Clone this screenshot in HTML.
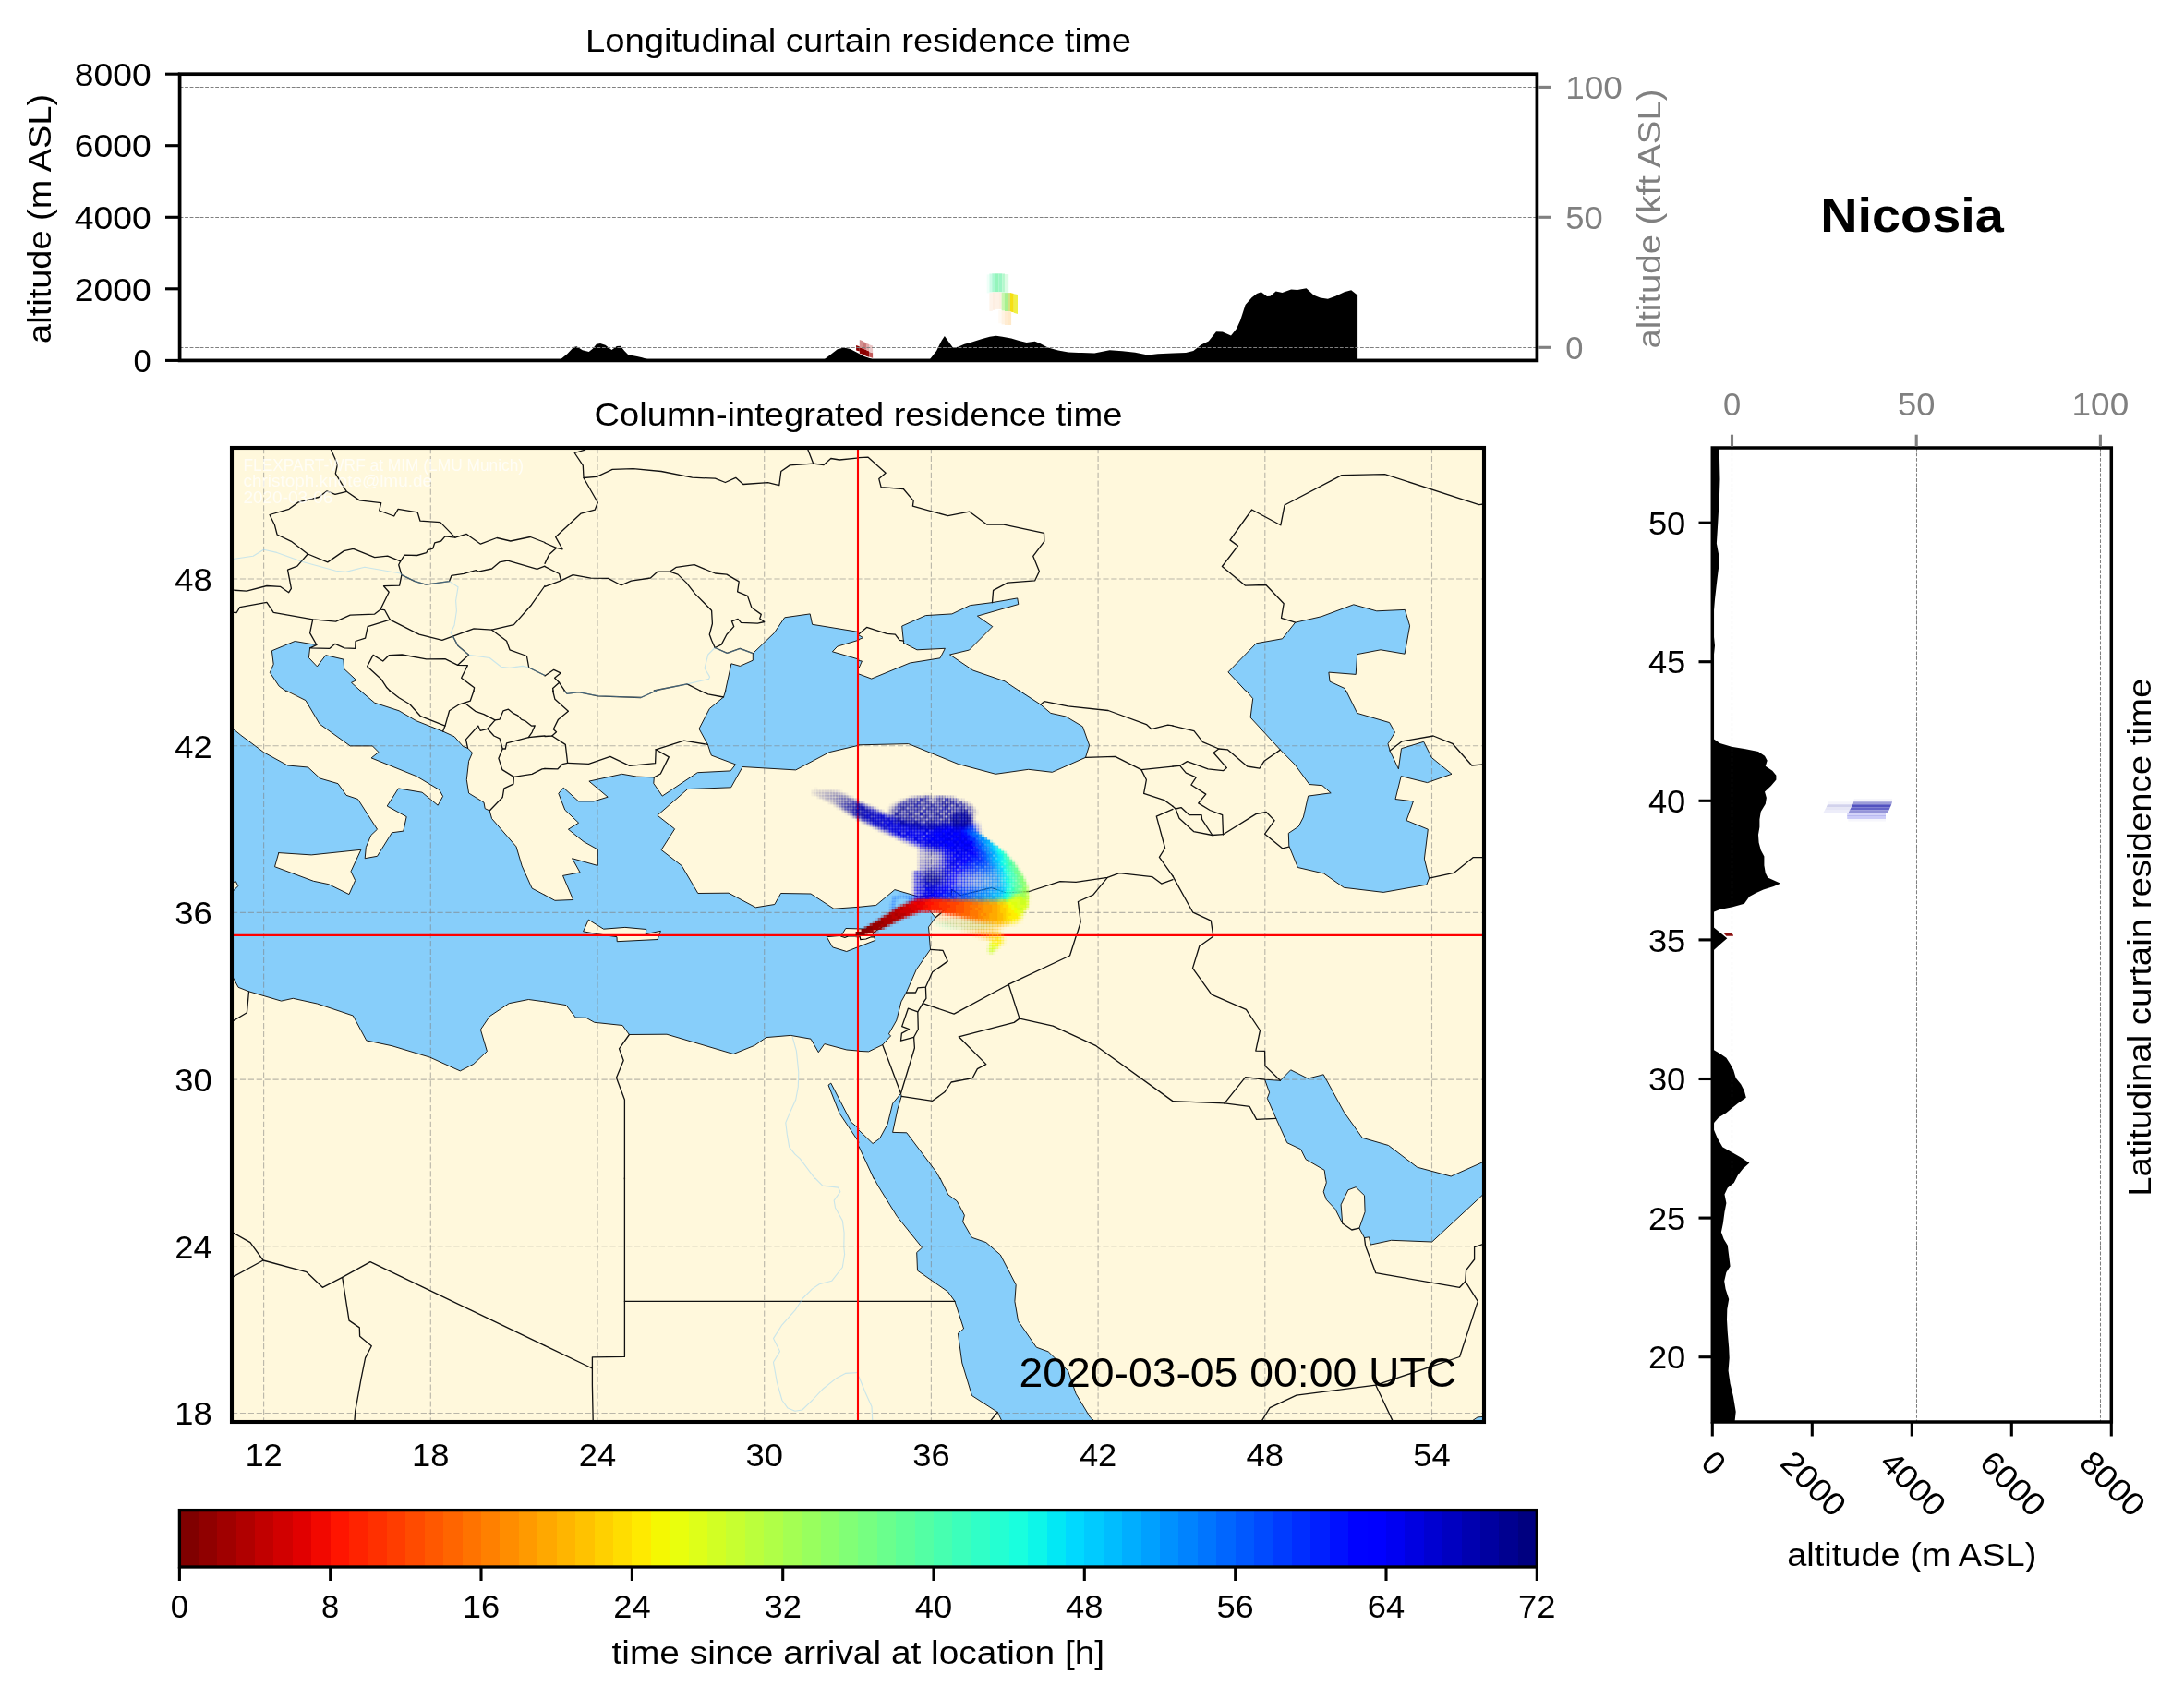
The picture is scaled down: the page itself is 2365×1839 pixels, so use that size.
<!DOCTYPE html><html><head><meta charset="utf-8"><title>Nicosia residence time</title>
<style>html,body{margin:0;padding:0;background:#fff}svg{display:block;will-change:transform}.pl rect{width:4px;height:4px}text{font-family:"Liberation Sans",sans-serif;white-space:pre}</style></head><body>
<svg width="2365" height="1839" viewBox="0 0 2365 1839">
<rect width="2365" height="1839" fill="#fff"/>
<polygon points="607.5,390.4 607.5,388.7 614.3,383.2 621.2,376 624.5,375.2 630.8,379.3 637.7,381 641.8,377.7 645.9,372.7 650.1,371.9 655.5,373.8 662.4,379.1 667.9,374.9 672,374.7 676.2,379.9 680.3,384.3 689.9,385.9 695.4,387.3 700.9,389 700.9,390.4" fill="#000"/>
<polygon points="893.2,390.4 893.2,388.7 900.1,383.5 906.9,378.2 913.8,376.6 920.7,378 927.5,381.5 935.8,385.9 944,388.7 944,390.4" fill="#000"/>
<polygon points="1007.2,390.4 1007.2,388.7 1014.1,379.9 1019.6,368.9 1022.9,364 1027.3,370.3 1031.9,376.6 1037.4,375.8 1044.3,372.7 1052.5,370.5 1063.5,367 1071.8,364.8 1078.6,363.7 1085.5,364.8 1095.1,366.4 1103.4,368.9 1111.6,371.1 1120.7,369.7 1126.7,372.2 1134.9,376.6 1145.9,379.6 1156.9,381.5 1167.9,382.1 1171.4,382.1 1185.2,382.6 1201.6,379.3 1215.4,380.2 1229.1,381.8 1242.9,384.6 1253.8,383.2 1270.3,382.6 1284.1,382.1 1292.3,379.9 1300.5,373.6 1308.8,369.5 1317,359.3 1323.9,359.6 1333,363.4 1339,356 1343.1,346.9 1348.6,329.9 1355.5,322.2 1361,318.1 1365.7,316.2 1372,321.1 1375.5,320.8 1381.6,315.6 1388.5,317 1398.1,313.4 1404.9,314 1414.6,312.3 1422.8,319.7 1429.7,322.5 1437.9,323.8 1446.2,320.8 1455.8,316.2 1463.2,314.2 1470.1,319.7 1470.1,390.4" fill="#000"/>
<polygon points="1068.7,297.4 1071.5,297.4 1071.5,317.4 1068.7,317.4" fill="#effff8"/>
<polygon points="1071.4,296.5 1074.2,296.5 1074.2,316.5 1071.4,316.5" fill="#cdfbe7"/>
<polygon points="1074.2,296.3 1078.1,296.3 1078.1,316.3 1074.2,316.3" fill="#aaf8d2"/>
<polygon points="1078,296.3 1081.4,296.3 1081.4,316.3 1078,316.3" fill="#94f5bc"/>
<polygon points="1081.3,296.3 1085.2,296.3 1085.2,316.3 1081.3,316.3" fill="#9cf5c4"/>
<polygon points="1085.2,296.5 1088,296.5 1088,316.5 1085.2,316.5" fill="#b4f8cc"/>
<polygon points="1087.9,297.1 1092.2,297.1 1092.2,316.9 1087.9,316.9" fill="#dcfce4"/>
<polygon points="1071.4,317.1 1074.8,317.1 1074.8,336.9 1071.4,336.9" fill="#fef3ea"/>
<polygon points="1074.7,316.3 1078.1,316.3 1078.1,335.8 1074.7,335.8" fill="#fdeee2"/>
<polygon points="1078,316.3 1081.4,316.3 1081.4,334.9 1078,334.9" fill="#fef1e6"/>
<polygon points="1081.3,316.5 1084.7,316.5 1084.7,334.9 1081.3,334.9" fill="#fdeee0"/>
<polygon points="1084.6,316.8 1088,316.8 1088,336.6 1084.6,336.6" fill="#c8f6b0"/>
<polygon points="1087.9,317.1 1091.3,317.1 1091.3,337.1 1087.9,337.1" fill="#a8f090"/>
<polygon points="1091.2,317.1 1094,317.1 1094,337.4 1091.2,337.4" fill="#d2e27e"/>
<polygon points="1094,317.1 1097.8,318 1097.8,338.2 1094,337.4" fill="#f5df12"/>
<polygon points="1097.8,318.2 1102,319.1 1102,340 1097.8,338.8" fill="#eff044"/>
<polygon points="1081.3,335.8 1084.7,335.8 1084.7,350.3 1081.3,350.3" fill="#fffaf3"/>
<polygon points="1084.6,336.6 1088,336.6 1088,351.4 1084.6,351.4" fill="#fff3e3"/>
<polygon points="1087.9,337.1 1091.8,337.1 1091.8,352 1087.9,352" fill="#ffecd2"/>
<polygon points="1091.8,337.4 1095.1,337.4 1095.1,352 1091.8,352" fill="#ffe9c9"/>
<polygon points="927.1,374 930.8,375.3 930.8,380.5 927.1,379.5" fill="#8b0000"/>
<polygon points="930.8,376.2 934.4,377.5 934.4,383.8 930.8,382.7" fill="#8b0000"/>
<polygon points="934.3,377.6 938,378.9 938,385.5 934.3,384.4" fill="#8b0000"/>
<polygon points="937.9,379.1 941.3,380.4 941.3,386.8 937.9,385.7" fill="#900808"/>
<polygon points="941.2,380.9 945.1,382.2 945.1,387.7 941.2,386.6" fill="#c25858"/>
<polygon points="930.8,367.9 934.4,369.2 934.4,377.5 930.8,376.2" fill="#d49090"/>
<polygon points="934.3,369.9 938,371.2 938,378.9 934.3,377.6" fill="#c87878"/>
<polygon points="937.9,371.8 941.3,373.1 941.3,380.4 937.9,379.1" fill="#e2a8a8"/>
<polygon points="941.2,373.2 945.1,374.5 945.1,382.2 941.2,380.9" fill="#ecc8c8"/>
<line x1="194.6" y1="94.5" x2="1664.4" y2="94.5" stroke="#808080" stroke-width="1.04" stroke-dasharray="3.85 1.66"/>
<line x1="194.6" y1="235.5" x2="1664.4" y2="235.5" stroke="#808080" stroke-width="1.04" stroke-dasharray="3.85 1.66"/>
<line x1="194.6" y1="376.5" x2="1664.4" y2="376.5" stroke="#808080" stroke-width="1.04" stroke-dasharray="3.85 1.66"/>
<rect x="194.6" y="80.2" width="1469.8" height="310.2" fill="none" stroke="#000" stroke-width="3.7"/>
<line x1="179" y1="390.4" x2="194.6" y2="390.4" stroke="#000" stroke-width="3.1" />
<text x="144.4" y="403.1" font-size="35.3" textLength="19.2" lengthAdjust="spacingAndGlyphs" fill="#000">0</text>
<line x1="179" y1="312.8" x2="194.6" y2="312.8" stroke="#000" stroke-width="3.1" />
<text x="80.8" y="325.5" font-size="35.3" textLength="82.8" lengthAdjust="spacingAndGlyphs" fill="#000">2000</text>
<line x1="179" y1="235.3" x2="194.6" y2="235.3" stroke="#000" stroke-width="3.1" />
<text x="80.8" y="248" font-size="35.3" textLength="82.8" lengthAdjust="spacingAndGlyphs" fill="#000">4000</text>
<line x1="179" y1="157.7" x2="194.6" y2="157.7" stroke="#000" stroke-width="3.1" />
<text x="80.8" y="170.4" font-size="35.3" textLength="82.8" lengthAdjust="spacingAndGlyphs" fill="#000">6000</text>
<line x1="179" y1="80.2" x2="194.6" y2="80.2" stroke="#000" stroke-width="3.1" />
<text x="80.8" y="92.9" font-size="35.3" textLength="82.8" lengthAdjust="spacingAndGlyphs" fill="#000">8000</text>
<line x1="1666.2" y1="376.3" x2="1679.6" y2="376.3" stroke="#808080" stroke-width="3.1" />
<text x="1695.2" y="389" font-size="35.3" textLength="19.2" lengthAdjust="spacingAndGlyphs" fill="#808080">0</text>
<line x1="1666.2" y1="235.3" x2="1679.6" y2="235.3" stroke="#808080" stroke-width="3.1" />
<text x="1695.2" y="248" font-size="35.3" textLength="40.4" lengthAdjust="spacingAndGlyphs" fill="#808080">50</text>
<line x1="1666.2" y1="94.4" x2="1679.6" y2="94.4" stroke="#808080" stroke-width="3.1" />
<text x="1695.2" y="107.1" font-size="35.3" textLength="61.6" lengthAdjust="spacingAndGlyphs" fill="#808080">100</text>
<text transform="translate(54.8,236.9) rotate(-90)" x="-135" y="0" font-size="35.3" textLength="270.1" lengthAdjust="spacingAndGlyphs" fill="#000">altitude (m ASL)</text>
<text transform="translate(1798.4,237) rotate(-90)" x="-140.6" y="0" font-size="35.3" textLength="281.1" lengthAdjust="spacingAndGlyphs" fill="#808080">altitude (kft ASL)</text>
<text x="633.9" y="56.2" font-size="35.3" textLength="591.2" lengthAdjust="spacingAndGlyphs" fill="#000">Longitudinal curtain residence time</text>
<text x="1971.2" y="251" font-size="52.5" textLength="198.6" lengthAdjust="spacingAndGlyphs" fill="#000" font-weight="bold">Nicosia</text>
<defs><clipPath id="mapclip"><rect x="251" y="485" width="1356" height="1055"/></clipPath>
<clipPath id="ct00"><rect x="250" y="484" width="340" height="264"/></clipPath>
<clipPath id="ct01"><rect x="590" y="484" width="340" height="264"/></clipPath>
<clipPath id="ct02"><rect x="930" y="484" width="340" height="264"/></clipPath>
<clipPath id="ct03"><rect x="1270" y="484" width="340" height="264"/></clipPath>
<clipPath id="ct10"><rect x="250" y="748" width="340" height="264"/></clipPath>
<clipPath id="ct11"><rect x="590" y="748" width="340" height="264"/></clipPath>
<clipPath id="ct12"><rect x="930" y="748" width="340" height="264"/></clipPath>
<clipPath id="ct13"><rect x="1270" y="748" width="340" height="264"/></clipPath>
<clipPath id="ct20"><rect x="250" y="1012" width="340" height="264"/></clipPath>
<clipPath id="ct21"><rect x="590" y="1012" width="340" height="264"/></clipPath>
<clipPath id="ct22"><rect x="930" y="1012" width="340" height="264"/></clipPath>
<clipPath id="ct23"><rect x="1270" y="1012" width="340" height="264"/></clipPath>
<clipPath id="ct30"><rect x="250" y="1276" width="340" height="264"/></clipPath>
<clipPath id="ct31"><rect x="590" y="1276" width="340" height="264"/></clipPath>
<clipPath id="ct32"><rect x="930" y="1276" width="340" height="264"/></clipPath>
<clipPath id="ct33"><rect x="1270" y="1276" width="340" height="264"/></clipPath>
</defs>
<g clip-path="url(#mapclip)">
<rect x="251" y="485" width="1356" height="1055" fill="#FFF8DC"/>
<g clip-path="url(#ct00)">
<polygon points="342.9,698.5 319.3,694.5 294.4,704.8 296.2,719.4 292.3,728.4 302.2,743.2 309.9,748.7 390.9,748.7 380.5,739.3 385.9,736.7 372.7,724.5 371.9,714.1 352.7,709.6 343.4,721.9 334.4,712.4 335.6,701.9" fill="#87CEFA"/>
</g>
<g clip-path="url(#ct01)">
<polygon points="785.4,748.7 791.9,718.8 801.3,721.4 815.3,715.2 815.3,707.7 838.3,685.6 849.7,668.8 877.2,664.9 879.6,676.3 930.9,684.7 930.9,748.7" fill="#87CEFA"/>
<polygon points="930.9,693.1 906.8,700.1 901.4,705.8 930.9,714.2" fill="#FFF8DC"/>
</g>
<g clip-path="url(#ct02)">
<polygon points="976.7,678.1 1002.4,666.6 1030.9,664.9 1050.3,655.7 1074.5,652.6 1101.7,647.9 1102.8,654.5 1058.4,667.2 1074.8,678.6 1049.6,704 1028.5,709 1053.8,726.1 1088,737.8 1104.4,748.7 929.1,748.7 929.1,729.7 943.7,735.1 985.3,718 1018,712.8 1023.4,702.3 993,703.8 978.6,696.5" fill="#87CEFA"/>
<polygon points="929.1,687.9 934.7,690.7 929.1,692.6" fill="#87CEFA"/>
<polygon points="929.1,715.5 933.4,716 929.1,723.7" fill="#87CEFA"/>
</g>
<g clip-path="url(#ct03)">
<polygon points="1402.6,674.2 1431.1,667.7 1465.8,654.8 1490.8,661.8 1521.4,660.4 1526.6,677.8 1521.1,708.2 1495,703.8 1469.7,708.6 1468.2,730.4 1438.9,728.1 1440,738.1 1456,745.5 1457.6,749.6 1349.4,749.6 1329.9,727.9 1360.3,696.8 1388.6,691.8" fill="#87CEFA"/>
</g>
<g clip-path="url(#ct10)">
<rect x="250" y="748" width="340" height="264" fill="#87CEFA"/>
<polygon points="249.1,789.7 252.8,789.7 260.9,796.3 285.8,814.9 311.5,829 333.6,831 346.5,843 366,848.7 375,861.3 387.5,865.5 408.5,898.2 401.8,904.5 396.3,917.7 395.2,929.7 408.5,927.3 424.4,901.8 436.8,900.1 440.2,884.5 419.2,873 431.4,853.9 457.1,858.2 474.2,872.2 479.6,862.4 475.7,855.4 450.8,840.6 402.1,820.9 410,814.6 403.3,807.9 379.2,807.9 346.1,784.1 331,758.6 309.9,747.1 249.1,747.1" fill="#FFF8DC"/>
<polygon points="301.8,923.6 337.2,925.9 390.9,920.3 380,943.8 384.7,953.5 378,968.6 355.9,957.7 339.5,954.3 297.5,938.7" fill="#FFF8DC"/>
<polygon points="249.1,955.5 255.4,954.7 257.8,959.7 249.1,965.9" fill="#FFF8DC"/>
<polygon points="390.1,747.1 405.7,761.2 432.1,769.8 450.8,780.7 479.6,792.1 492.1,797.8 501.4,808.4 506.6,810.3 511.5,815.3 507.6,824.3 505.3,844.5 507.6,859 524,869.1 525.2,875.7 530.2,878 532.6,886.6 559,916.9 565.2,937.9 576.1,962.1 590.9,969.8 590.9,747.1" fill="#FFF8DC"/>
</g>
<g clip-path="url(#ct11)">
<rect x="590" y="748" width="340" height="264" fill="#87CEFA"/>
<polygon points="785.8,747.1 783.5,755 768.3,767.5 757,789.3 766.4,806.4 770.3,818.1 796.6,827.9 791.1,834.9 755.3,836.7 717.2,862.1 707.8,848.4 708.3,841.9 689.6,841.1 673.6,838.3 637.9,846.1 658.2,863.2 642.9,867.9 626.6,867.9 610.2,853.1 604.8,859.3 611.8,877.2 626.6,891.2 615.4,898.2 632,911.5 647.3,920 647.3,937.5 619.6,929.7 628.1,944.9 609.5,948.4 620.7,974.5 600.9,975.3 589.1,969.1 589.1,747.1" fill="#FFF8DC"/>
<polygon points="930.9,807.2 898.2,814.6 861.7,833.9 804.1,830.5 791.6,852.8 744.6,854.6 711.9,883.1 730.6,897.8 716.1,920.5 738.2,937.6 755.8,967.5 789,967.2 818.4,982.8 838.8,979.5 845.6,967.5 878,968 902.9,984.2 930.9,982.3" fill="#FFF8DC"/>
</g>
<g clip-path="url(#ct12)">
<polygon points="929.1,806.8 983.7,805.6 1037.4,827.4 1078.2,838.3 1113.7,833.3 1139.4,836.3 1175.5,820.4 1179.6,807.2 1172.4,786.9 1154.2,776 1137.8,772.4 1126.9,763.1 1103.6,747.1 929.1,747.1" fill="#87CEFA"/>
<polygon points="929.1,982.3 948.7,980.4 968.9,963.6 994.9,971.2 1013.1,968.8 1001.8,980.3 1013.1,993.8 1005.5,1004.1 1006.3,1013.6 929.1,1013.6" fill="#87CEFA"/>
</g>
<g clip-path="url(#ct13)">
<polygon points="1349.4,747.1 1356.7,756.6 1354.1,777.1 1386.4,812.1 1402.3,828.2 1417.9,849.5 1431.9,850.7 1441.2,858.8 1416.6,862.1 1411.4,885 1406.2,895.1 1395.3,902.4 1395.8,916.1 1405.4,939.5 1433.5,946 1455.3,961.3 1498.1,966.4 1544.8,958.2 1547.6,951.2 1542.4,930.1 1546.3,898.2 1523,888.6 1530.4,867.9 1511,865.5 1517.2,840.6 1545.5,847.6 1572,838.3 1550.2,820.4 1541.7,803.3 1517.5,810.7 1514.4,832.8 1505.1,813.1 1503,805.6 1510.5,793.1 1504.6,782.6 1469.7,772.4 1457.6,747.1" fill="#87CEFA"/>
</g>
<g clip-path="url(#ct20)">
<polygon points="249.1,1058.7 252.8,1059.5 258.1,1069.3 269.5,1073.8 304.5,1084.1 317.3,1081.3 343.4,1087 382.3,1100 396.8,1126.9 424.4,1132.7 465.6,1145.1 498.3,1159.9 512.8,1152.4 527.4,1138.6 520.4,1115.1 530.2,1100.7 551.2,1086.7 572.3,1082.5 590.9,1085 590.9,1011.1 249.1,1011.1" fill="#87CEFA"/>
</g>
<g clip-path="url(#ct21)">
<polygon points="589.1,1084.7 613,1088.6 623.2,1102 634.8,1102.3 643.7,1107.3 674.1,1110.5 681.4,1120.5 722,1120.2 794.2,1141.5 817.3,1132.2 829.7,1123.6 856.2,1121.4 878,1125.2 886.3,1139.7 892.8,1130.6 916.9,1137 930.9,1138.3 930.9,1011.1 589.1,1011.1" fill="#87CEFA"/>
<polygon points="930.9,1222.6 921.6,1215.2 899.8,1173.1 897,1175.2 909.1,1205.8 930.9,1237.7" fill="#87CEFA"/>
</g>
<g clip-path="url(#ct22)">
<polygon points="929.1,1138.4 940.6,1138.9 955.7,1131.6 964.6,1121.8 962.4,1119.9 970.8,1105.1 975.9,1084.9 981.4,1075 992.3,1050.1 1007.5,1028.3 1006.3,1014.3 1006.3,1011.1 929.1,1011.1" fill="#87CEFA"/>
<polygon points="975.5,1184.3 976.2,1187.4 972,1201.1 966.6,1226.4 981.8,1226.8 1014.1,1269.6 1018,1277.6 946.3,1277.6 929.1,1240.1 929.1,1223.4 945.1,1238.5 952.6,1233.1 961.1,1217.5 966.6,1195.2" fill="#87CEFA"/>
</g>
<g clip-path="url(#ct23)">
<polygon points="1369.6,1169.2 1386.4,1170.3 1397.7,1158.8 1416.3,1168.1 1433.2,1163.8 1455.3,1204.3 1475.2,1232.3 1503.5,1240.5 1534.7,1264.2 1571.2,1274 1606.3,1258.4 1606.3,1277.6 1435.5,1277.6 1434.2,1267.3 1414,1255.6 1408.6,1244.7 1393.8,1237.7 1381.8,1211.3 1372.3,1189.5 1374.6,1183.2" fill="#87CEFA"/>
</g>
<g clip-path="url(#ct30)">
</g>
<g clip-path="url(#ct31)">
</g>
<g clip-path="url(#ct32)">
<polygon points="946.3,1275.1 951,1284.6 971.3,1317.3 998.5,1351.2 992.7,1356.5 993.5,1376.1 1026.5,1399 1034,1409.4 1043.6,1439 1037.4,1444.1 1041.8,1476 1052.5,1511.5 1080.2,1529.4 1084.9,1539.1 1085.7,1540.7 1186.1,1540.7 1185.3,1539.1 1180.6,1535.2 1165.1,1509.5 1156.5,1484.6 1135.2,1463.9 1122.3,1459.2 1102.5,1430.6 1098.9,1409.4 1100.2,1391.5 1083.3,1359 1067.8,1345.6 1052.5,1340.3 1042.6,1323.2 1044.4,1316.2 1036.3,1300.9 1026.8,1293.9 1018,1275.1" fill="#87CEFA"/>
</g>
<g clip-path="url(#ct33)">
<polygon points="1435.5,1275.1 1436.3,1280.7 1433.2,1290.8 1436.3,1299.4 1445.9,1309.5 1453.7,1325 1452.1,1304.8 1459.9,1288.8 1468.2,1285.7 1477.5,1294.7 1478.1,1312.6 1471.9,1330.2 1477.5,1340.6 1482.5,1339.8 1484.1,1348.1 1506.6,1343.3 1550.7,1345 1606.3,1293.4 1606.3,1275.1" fill="#87CEFA"/>
<polygon points="1593.8,1540.7 1600,1534.9 1606.3,1534.4 1606.3,1540.7" fill="#87CEFA"/>
</g>
<polygon points="631.6,1008.8 637.3,996.1 653.6,1006.2 676.9,1004.4 699.8,1006.5 699.2,1011.7 715.4,1008.3 712,1017.5 668.2,1019.7 668,1014.7 648.1,1011.8" fill="#FFF8DC" stroke="#000" stroke-width="0.9" stroke-linejoin="round"/>
<polygon points="895.2,1014.7 901.6,1025.9 916.7,1030.5 947.8,1018.4 946.7,1014.8 945,1010.5 965,997.8 937.3,1006.1 915.8,1005.5 911.7,1012.2 909.5,1013.5" fill="#FFF8DC" stroke="#000" stroke-width="0.9" stroke-linejoin="round"/>
<polyline points="909.5,1013.5 912,1014.5 914.9,1015.4 918.5,1014 931,1014 931.8,1017.5 937.8,1017 943.3,1014.8 946.7,1014.8" fill="none" stroke="#000" stroke-width="1.2"/>
<g stroke="#808080" stroke-opacity="0.55" stroke-width="1.1" stroke-dasharray="6.2 2.7">
<line x1="285.6" y1="485" x2="285.6" y2="1540"/>
<line x1="466.3" y1="485" x2="466.3" y2="1540"/>
<line x1="647" y1="485" x2="647" y2="1540"/>
<line x1="827.7" y1="485" x2="827.7" y2="1540"/>
<line x1="1008.4" y1="485" x2="1008.4" y2="1540"/>
<line x1="1189.1" y1="485" x2="1189.1" y2="1540"/>
<line x1="1369.8" y1="485" x2="1369.8" y2="1540"/>
<line x1="1550.5" y1="485" x2="1550.5" y2="1540"/>
<line x1="251" y1="1530.5" x2="1607" y2="1530.5"/>
<line x1="251" y1="1349.8" x2="1607" y2="1349.8"/>
<line x1="251" y1="1169.1" x2="1607" y2="1169.1"/>
<line x1="251" y1="988.4" x2="1607" y2="988.4"/>
<line x1="251" y1="807.7" x2="1607" y2="807.7"/>
<line x1="251" y1="627" x2="1607" y2="627"/>
</g>
<g fill="none" stroke="#111" stroke-width="0.95" stroke-linejoin="round" stroke-linecap="round">
<polyline points="342.9,698.5 319.3,694.5 294.4,704.8 296.2,719.4 292.3,728.4 302.2,743.2 309.9,748.7"/>
<polyline points="335.6,701.9 334.4,712.4 343.4,721.9 352.7,709.6 371.9,714.1 372.7,724.5 385.9,736.7 380.5,739.3 390.9,748.7"/>
<polyline points="785.4,748.7 791.9,718.8 801.3,721.4 815.3,715.2 815.3,707.7 838.3,685.6 849.7,668.8 877.2,664.9 879.6,676.3 930,684.5"/>
<polyline points="930,693.2 906.8,700.1 901.4,705.8 930,714.1"/>
<polyline points="978.6,696.5 976.7,678.1 1002.4,666.6 1030.9,664.9 1050.3,655.7 1074.5,652.6 1101.7,647.9 1102.8,654.5 1058.4,667.2 1074.8,678.6 1049.6,704 1028.5,709 1053.8,726.1 1088,737.8 1104.4,748.7"/>
<polyline points="978.6,696.5 993,703.8 1023.4,702.3 1018,712.8 985.3,718 943.7,735.1 930,730"/>
<polyline points="930,687.9 934.7,690.7 930,692.6"/>
<polyline points="930,715.5 933.4,716 930,723.7"/>
<polyline points="1349.4,748.7 1329.9,727.9 1360.3,696.8 1388.6,691.8 1402.6,674.2 1431.1,667.7 1465.8,654.8 1490.8,661.8 1521.4,660.4 1526.6,677.8 1521.1,708.2 1495,703.8 1469.7,708.6 1468.2,730.4 1438.9,728.1 1440,738.1 1456,745.5 1457.6,748.7"/>
<polyline points="252.8,789.7 260.9,796.3 285.8,814.9 311.5,829 333.6,831 346.5,843 366,848.7 375,861.3 387.5,865.5 408.5,898.2 401.8,904.5 396.3,917.7 395.2,929.7 408.5,927.3 424.4,901.8 436.8,900.1 440.2,884.5 419.2,873 431.4,853.9 457.1,858.2 474.2,872.2 479.6,862.4 475.7,855.4 450.8,840.6 402.1,820.9 410,814.6 403.3,807.9 379.2,807.9 346.1,784.1 331,758.6 309.9,748"/>
<polyline points="301.8,923.6 337.2,925.9 390.9,920.3 380,943.8 384.7,953.5 378,968.6 355.9,957.7 339.5,954.3 297.5,938.7 301.8,923.6"/>
<polyline points="252.8,955.5 255.4,954.7 257.8,959.7 252.8,964.7"/>
<polyline points="390.1,748 405.7,761.2 432.1,769.8 450.8,780.7 479.6,792.1 492.1,797.8 501.4,808.4 506.6,810.3 511.5,815.3 507.6,824.3 505.3,844.5 507.6,859 524,869.1 525.2,875.7 530.2,878 532.6,886.6 559,916.9 565.2,937.9 576.1,962.1 590,969.4"/>
<polyline points="785.8,748 783.5,755 768.3,767.5 757,789.3 766.4,806.4 770.3,818.1 796.6,827.9 791.1,834.9 755.3,836.7 717.2,862.1 707.8,848.4 708.3,841.9 689.6,841.1 673.6,838.3 637.9,846.1 658.2,863.2 642.9,867.9 626.6,867.9 610.2,853.1 604.8,859.3 611.8,877.2 626.6,891.2 615.4,898.2 632,911.5 647.3,920 647.3,937.5 619.6,929.7 628.1,944.9 609.5,948.4 620.7,974.5 600.9,975.3 590,969.4"/>
<polyline points="930,807.2 898.2,814.6 861.7,833.9 804.1,830.5 791.6,852.8 744.6,854.6 711.9,883.1 730.6,897.8 716.1,920.5 738.2,937.6 755.8,967.5 789,967.2 818.4,982.8 838.8,979.5 845.6,967.5 878,968 902.9,984.2 930,982.3"/>
<polyline points="930,806.8 983.7,805.6 1037.4,827.4 1078.2,838.3 1113.7,833.3 1139.4,836.3 1175.5,820.4 1179.6,807.2 1172.4,786.9 1154.2,776 1137.8,772.4 1126.9,763.1 1103.6,748"/>
<polyline points="930,982.3 948.7,980.4 968.9,963.6 994.9,971.2 1013.1,968.8 1001.8,980.3 1013.1,993.8 1005.5,1004.1 1006.3,1012.7"/>
<polyline points="1349.4,748 1356.7,756.6 1354.1,777.1 1386.4,812.1 1402.3,828.2 1417.9,849.5 1431.9,850.7 1441.2,858.8 1416.6,862.1 1411.4,885 1406.2,895.1 1395.3,902.4 1395.8,916.1 1405.4,939.5 1433.5,946 1455.3,961.3 1498.1,966.4 1544.8,958.2 1547.6,951.2 1542.4,930.1 1546.3,898.2 1523,888.6 1530.4,867.9 1511,865.5 1517.2,840.6 1545.5,847.6 1572,838.3 1550.2,820.4 1541.7,803.3 1517.5,810.7 1514.4,832.8 1505.1,813.1 1503,805.6 1510.5,793.1 1504.6,782.6 1469.7,772.4 1457.6,748"/>
<polyline points="252.8,1059.5 258.1,1069.3 269.5,1073.8 304.5,1084.1 317.3,1081.3 343.4,1087 382.3,1100 396.8,1126.9 424.4,1132.7 465.6,1145.1 498.3,1159.9 512.8,1152.4 527.4,1138.6 520.4,1115.1 530.2,1100.7 551.2,1086.7 572.3,1082.5 590,1084.9"/>
<polyline points="590,1084.9 613,1088.6 623.2,1102 634.8,1102.3 643.7,1107.3 674.1,1110.5 681.4,1120.5 722,1120.2 794.2,1141.5 817.3,1132.2 829.7,1123.6 856.2,1121.4 878,1125.2 886.3,1139.7 892.8,1130.6 916.9,1137 930,1138.1"/>
<polyline points="930,1222.2 921.6,1215.2 899.8,1173.1 897,1175.2 909.1,1205.8 930,1237"/>
<polyline points="930,1138.4 940.6,1138.9 955.7,1131.6 964.6,1121.8 962.4,1119.9 970.8,1105.1 975.9,1084.9 981.4,1075 992.3,1050.1 1007.5,1028.3 1006.3,1014.3"/>
<polyline points="1018,1276.7 1014.1,1269.6 981.8,1226.8 966.6,1226.4 972,1201.1 976.2,1187.4 975.5,1184.3 966.6,1195.2 961.1,1217.5 952.6,1233.1 945.1,1238.5 930,1224"/>
<polyline points="930,1241.6 946.3,1276.7"/>
<polyline points="1435.5,1276.7 1434.2,1267.3 1414,1255.6 1408.6,1244.7 1393.8,1237.7 1381.8,1211.3 1372.3,1189.5 1374.6,1183.2 1369.6,1169.2 1386.4,1170.3 1397.7,1158.8 1416.3,1168.1 1433.2,1163.8 1455.3,1204.3 1475.2,1232.3 1503.5,1240.5 1534.7,1264.2 1571.2,1274 1606.3,1258.4"/>
<polyline points="946.3,1276 951,1284.6 971.3,1317.3 998.5,1351.2 992.7,1356.5 993.5,1376.1 1026.5,1399 1034,1409.4 1043.6,1439 1037.4,1444.1 1041.8,1476 1052.5,1511.5 1080.2,1529.4 1084.9,1539.1"/>
<polyline points="1018,1276 1026.8,1293.9 1036.3,1300.9 1044.4,1316.2 1042.6,1323.2 1052.5,1340.3 1067.8,1345.6 1083.3,1359 1100.2,1391.5 1098.9,1409.4 1102.5,1430.6 1122.3,1459.2 1135.2,1463.9 1156.5,1484.6 1165.1,1509.5 1180.6,1535.2 1185.3,1539.1"/>
<polyline points="1435.5,1276 1436.3,1280.7 1433.2,1290.8 1436.3,1299.4 1445.9,1309.5 1453.7,1325 1452.1,1304.8 1459.9,1288.8 1468.2,1285.7 1477.5,1294.7 1478.1,1312.6 1471.9,1330.2 1477.5,1340.6 1482.5,1339.8 1484.1,1348.1 1506.6,1343.3 1550.7,1345 1606.3,1293.4"/>
<polyline points="1593.8,1539.1 1600,1534.9 1606.3,1534.4"/>
</g>
<g fill="none" stroke="#111" stroke-width="1.3" stroke-linejoin="round" stroke-linecap="round">
<polyline points="358.5,487.1 365.5,502.7 363.3,512.8 369.9,523.7 375.3,532.3 389.3,541.9 412.7,544.7 410.7,553 426.7,559 431.1,551.4 452.1,554.8 455,564.2 476.8,565.6 492.9,582.1 505,578.3 520.4,589.2 538,582.5 552.8,586 574.3,581.5 590,587.5"/>
<polyline points="375.3,532.3 362.9,535.4 354,531.8 345,538.5 323.2,543.9 313,551.3 292,557.5 297.5,568.8 300.1,579 315.4,586.3 333.3,600 354.8,608.9 372.5,596.6 382.6,594.4 405.7,603.6 419.7,602.2 433.7,607.8 438.1,601.2 451.6,601.5 461.7,598.7 463.3,595.6 468.7,594.1 470.8,587.8 477.6,586 482,580.8 492.9,582.1"/>
<polyline points="333.3,600 321.9,613.2 311.5,617.1 315.4,637.3 312.7,641.7 303.4,635.3 288.9,634.5 267.1,640.1 253.1,639.2"/>
<polyline points="433.7,607.8 431.7,611.7 434.9,622.6 432.6,634.2 415.5,634.7 421.2,641.2 411.9,660.2 416.6,660.7 422.3,671.1"/>
<polyline points="434.9,622.6 449.3,629.6 461.3,633.1 486.6,629.6 489,623.3 502.2,621.3 515.4,617.6 517.8,619.1 532.6,616 540.8,608.9 549.7,607.1 581.6,616.3 590,613.2"/>
<polyline points="253.1,663.3 256.2,663.5 259.7,657.6 288.9,652.4 296.2,663.3 338.7,670.8 363.6,673.1 379.2,666.1 405.7,665.1 411.9,660.2"/>
<polyline points="338.7,670.8 335.6,685.6 342.9,698.5 335.6,701.9 357,702.3 362.9,697.3 373,701.9 384.7,702.4 385,694.5 395.6,691.1 398.2,678.6 422.3,671.1"/>
<polyline points="422.3,671.1 453.9,687.2 478.8,693.4 513.1,680.9 532.6,682.2 556.4,676.6 575.4,655.2 590,634.5"/>
<polyline points="532.6,682.2 548.6,694.2 552,703.8 570.4,710.5 572.7,723 590,731.5"/>
<polyline points="490.5,689.2 496,699.6 507.6,709.3 495.7,720.3 506.4,720.6 499.6,734.2 513.6,744.8 512.8,748.7"/>
<polyline points="495.7,720.3 482,713.6 461.7,713.9 435.3,709 421.2,709.7 414.7,716 404.1,709.4 397.6,721.7 412.7,735.4 418.9,744.8 422.8,748.7"/>
<polyline points="633.6,487.1 622.2,490.5 631.3,504.2 632,517.5 646,516.4 663.2,508.4 685.7,507.7 716.1,510.5 749.6,517.2 774.5,518.2 785.4,522.5 796.7,517.3 804.8,524.5 831.6,522.6 843.8,525.6 845.8,510.5 855.4,503.9 880.8,502.2 892,503.5 899.8,496.5 909.1,498 927.8,496.1"/>
<polyline points="874.9,487.1 880.8,502.2"/>
<polyline points="632,517.5 647.3,544.2 644.2,552.2 629.2,556.1 601.7,581.6 609.1,594.8 602.5,593.4 590,588"/>
<polyline points="602.5,593.4 594.7,600.4 590,610.4"/>
<polyline points="590,613.7 605.6,621.5 607.4,628.8"/>
<polyline points="590,635.3 607.4,628.8 620.4,622.6 639.8,626.1 658.5,626.4 672.5,633.8 683.4,629.2 704.4,626 712.2,619.1 725.4,619.1 732.4,614.3 751.9,611.7 774.5,621 786.9,622.1 800.2,629.9 798.6,640.8 809.5,645.4 813.9,658 824.3,665.4 822.7,670 827.7,673.5 820.4,675.2 802.5,674.4 799.1,670.3 792.4,672.8 794.7,678.6 786.9,687.2 781.2,698.1 774.2,701.5"/>
<polyline points="725.4,619.1 734,622.1 743.3,631.1 752.7,643.1 770.6,661.2 771.4,675.5 768.3,687.2 770.6,693.4 774.2,701.5"/>
<polyline points="774.2,701.5 787.4,707.4 801.3,702.4 815.3,707.7"/>
<polyline points="590,732 599.7,725.3 607.1,728.9 600.6,734.2 605.6,739.3 611.8,748.7"/>
<polyline points="605.6,739.3 598.6,745.5 599.3,748.7"/>
<polyline points="708.3,748 744.1,740.9 758.1,748"/>
<polyline points="930,495.7 940.1,495.2 959.1,512.3 951.8,518.6 954.1,527.6 978.3,529.5 989.2,542.4 988.4,548.1 1026.5,558.7 1049.6,554.1 1068.6,568.1 1085.7,567.8 1130.5,577.4 1130.8,586.4 1118.7,602.3 1125.4,618.7 1120.7,628.8 1091.1,631.1 1075.6,639.4 1074.5,652.6"/>
<polyline points="930,686.8 938.6,679.4 960.4,686.4 969.4,687.2 974.1,693.4 978.6,694.2"/>
<polyline points="1606.3,546 1601.6,546.7 1499.6,513.6 1452.9,514.7 1391.1,547 1386.8,568.8 1355.6,552 1332,584.9 1340.5,591.1 1323.4,613.5 1348.6,634.2 1370.9,633.5 1390.2,653.7 1387.5,669.3 1402.6,674.2"/>
<polyline points="422,748 432.1,755.8 443.8,762.8 455.5,775.7 482,786.1"/>
<polyline points="479.6,792.1 482,786.1 486.6,769.8 497.5,762.8 503,761.2 509.2,759.2 513.1,748"/>
<polyline points="503,761.2 514.7,770.3 524,773.7 536.1,779.9 527.9,789.3 520.1,791.3 517.8,786.1 504.5,800.9 506.6,810.3"/>
<polyline points="536.1,779.9 541.1,779.1 545,769.8 550.5,768.2 555.1,772.1 560.6,774.8 564.5,779.1 569.1,781 575.4,786.1 579.3,785.8 576.1,793.1 572.3,798.6"/>
<polyline points="527.9,789.3 534.9,797 541.1,799.8 544.2,811 547.3,811 548.6,804.8 572.3,798.6 583.2,797.5 590,797"/>
<polyline points="544.2,811 539.9,821.2 543.9,833.6 556.4,841.4"/>
<polyline points="556.4,841.4 576.1,838.3 587,832.8 590,832.5"/>
<polyline points="556.4,841.4 555.9,849.2 545.8,853.9 544.2,863.5 530.2,878"/>
<polyline points="598.6,748 600.9,757.3 615.4,770.3 604.3,779.6 599.3,789.7 602.5,792.8 597.8,797 590,797.5"/>
<polyline points="597.8,797 612.3,806.4 614.6,826.3"/>
<polyline points="590,832.5 604,832.8 609,827.7 614.6,826.3"/>
<polyline points="614.6,826.3 637.5,827.4 660.8,819.3 681.8,829.4 709.6,826.6 710.2,811.8"/>
<polyline points="710.2,811.8 740.7,802.2 766.4,806.4"/>
<polyline points="710.2,811.8 724.3,819.9 715.3,838 708.3,841.9"/>
<polyline points="611,748 614.1,751.4 626.6,749.6 647.6,753.8 694,755.5 710.7,748"/>
<polyline points="758.1,748 766.7,751.9 783.5,755"/>
<polyline points="1126.9,763.1 1130.8,759.7 1156.5,764.8 1200.1,769.5 1241.4,784.6 1246.8,789.6 1264.7,785.1 1270,785.8"/>
<polyline points="1175.5,820.4 1207.6,819.3 1235.9,833.6 1270,830.2"/>
<polyline points="1235.9,833.6 1241.4,844.5 1238.6,859.3 1260.8,866.6 1270,873.3"/>
<polyline points="1270,876.4 1252.3,884.2 1261.6,918.5 1255.4,928.3 1270,948.8"/>
<polyline points="1013.1,993.8 1021.1,987.1 1029.2,980.6 1030.6,963.6 1040.5,969.7 1073.7,961.3 1089.7,967 1114.5,965.5 1147.9,954.6 1165.1,955.4 1199.3,950.4 1212.1,945.7 1247.6,949.6 1257.7,957.1 1270,952.7"/>
<polyline points="1199.3,950.4 1183.8,969.1 1167.4,976.5 1170.2,998.6 1165.9,1012.7"/>
<polyline points="1505.1,813.1 1518.3,802.8 1552.1,797 1572.8,805.3 1593.8,829 1606.3,827.9"/>
<polyline points="1547.6,951.2 1574.3,945.4 1595.4,928.6 1606.3,928.6"/>
<polyline points="1270,786.1 1293,791.6 1302.4,803.6 1319.8,811 1329.2,811.8 1350.6,830 1363.9,832.1 1368.9,824.3 1386.4,812.1"/>
<polyline points="1270,830 1277.8,829.3 1285.6,824.6 1308.1,832.8 1324.5,834.7 1328.4,831.6 1314.1,815.3 1319.8,811"/>
<polyline points="1277.8,829.3 1284.3,837.2 1295.2,841.9 1289.9,850 1305.8,860.1 1297.7,869.9 1310.2,877.5 1323.7,882.7 1324.5,903.7"/>
<polyline points="1270,873.3 1273.1,876 1279,874.6 1287.9,882.7 1301.1,882.7 1301.6,887.3 1312.8,904.5"/>
<polyline points="1273.1,876 1277,886.2 1292.6,900.6 1312.8,904.5 1324.5,903.7"/>
<polyline points="1324.5,903.7 1360,881.6 1371.2,879.5 1380.1,888.6 1369.6,903.2 1388.6,918.8 1395.8,917.2"/>
<polyline points="1270,948.8 1271.6,951.9 1291.8,988.2 1311.3,997.1 1313.6,1012.7"/>
<polyline points="269.5,1073.8 267.4,1096.8 252.8,1105.4"/>
<polyline points="681.4,1120.5 670.5,1135.8 675.2,1148.5 667.5,1167.2 676.4,1191 676.4,1276.7"/>
<polyline points="1007.5,1028.3 1021.1,1029.4 1026.2,1041.1 1009.7,1052.8 1002.4,1069.1 993.8,1069.9 991.5,1075 981.4,1075"/>
<polyline points="1002.4,1069.1 1002.9,1081.3 999.3,1086.7 993.8,1095.8 994.3,1114.7 989.6,1123.3 990.4,1135 975.5,1184.3"/>
<polyline points="993.8,1095.8 983.4,1092.2 976.7,1111.6 984.5,1114.7 976.4,1119.1 975.5,1127.2 989.6,1123.3"/>
<polyline points="999.3,1086.7 1033.1,1098.1 1092.2,1066.2 1158.5,1035 1165.1,1014.3"/>
<polyline points="1092.2,1066.2 1104,1103.1 1098.1,1107.4 1038.2,1122.8 1067.8,1152.6 1058.4,1157.6 1053,1167.7 1030.1,1172 1022.9,1182.8 1009.7,1192.3 976.2,1187.4"/>
<polyline points="1104,1103.1 1140.2,1111.2 1186.9,1132.7 1270,1192.6"/>
<polyline points="955.7,1131.6 975.5,1184.3"/>
<polyline points="1313.6,1014.3 1298.8,1024.8 1291.5,1048.6 1312,1077.1 1349.4,1093.3 1364.5,1116 1359.8,1138.1 1369.6,1138.4 1369.9,1154.4 1386.4,1170.3"/>
<polyline points="1369.6,1169.2 1348.6,1166.6 1326,1194.9"/>
<polyline points="1270,1192.6 1326,1194.9"/>
<polyline points="1326,1194.9 1353,1198.3 1360.6,1212.4 1381.8,1211.3"/>
<polyline points="252.8,1335.2 271,1345.6 285,1365 252.8,1382.6"/>
<polyline points="285,1365 332,1377.7 349.3,1394.3 370.7,1383.4 401,1366.6 590,1457.4"/>
<polyline points="370.7,1383.4 378,1430.1 389.3,1437.9 389.6,1447.2 402.3,1457.8 395.6,1470.6 390.9,1493.9 387,1515.7 384.7,1528.2 383.9,1539.1"/>
<polyline points="676.4,1276 676.4,1469.4 641.4,1469.8 641.4,1500.2 642.2,1539.1"/>
<polyline points="676.4,1409.4 930,1409.4"/>
<polyline points="590,1457.4 641.4,1482"/>
<polyline points="930,1409.4 1034,1409.4"/>
<polyline points="1080.2,1529.4 1072.4,1539.1"/>
<polyline points="1453.7,1325 1463.8,1332 1471.9,1330.2"/>
<polyline points="1477.5,1340.6 1478.6,1349.2 1489.8,1378.7 1580.6,1394.3 1586.8,1387.8"/>
<polyline points="1606.3,1347.3 1596.6,1350.7 1596.6,1364 1587.6,1375.6 1586.8,1387.8"/>
<polyline points="1586.8,1387.8 1600.3,1409.4 1580.6,1469.5 1550.2,1479.9 1489.8,1500.2"/>
<polyline points="1489.8,1500.2 1403.9,1511.1 1375.1,1524.6 1366.2,1539.1"/>
<polyline points="1489.8,1500.2 1508.2,1539.1"/>
</g>
<g fill="none" stroke="#87CEFA" stroke-opacity="0.45" stroke-width="1.1" stroke-linejoin="round">
<polyline points="253.1,605.4 274.1,602.3 285.5,595.3 299.8,598.4 327.8,608.5 363.6,618.2 374.5,619.4 394.8,614.3 433.7,621 434.9,622.6 449.3,629.6 461.3,633.1 486.6,629.6 496,635.8 493.6,650.6 494.4,661.5 492.1,677 488.2,685.6 490.5,689.2 496,699.6 507.6,709.3 530.2,712.5 542.7,722.2 552,723.4 566,721.4 572.7,723 590,731.5"/>
<polyline points="774.2,701.5 766.7,709 763.1,723.7 768.6,733.1 767.5,735.4 744.1,740.9 708.3,748"/>
<polyline points="774.2,701.5 787.4,707.4 801.3,702.4 815.3,707.7"/>
<polyline points="611,748 614.1,751.4 626.6,749.6 647.6,753.8 694,755.5 710.7,748"/>
<polyline points="858.1,1122.8 862.4,1138.1 864.8,1161.5 864.3,1177 861.7,1191 854.7,1206.6 850.8,1215.9 852.3,1228.4 854.7,1242.4 860.9,1250.2 866.3,1254.9 882.7,1276.7"/>
<polyline points="882.7,1276 890.8,1284.1 907.6,1286.1 909.9,1290.8 903.2,1300.1 904.5,1307.9 912.3,1321.9 914.1,1335.2 913.8,1350.7 914.6,1358.5 912.3,1372.5 900.6,1387.3 887.3,1390.7 879.6,1395.9 869.4,1406 860.9,1419.2 846.9,1434.8 837.5,1449.6 844.5,1463.6 837.5,1475.3 841.4,1497.1 846.9,1516.5 853.1,1525.1 860.9,1528.2 868.7,1527 879.6,1516.5 890.5,1504.8 906,1492.4 915.4,1487.4 930,1486.5"/>
<polyline points="930,1490.8 937,1508 944,1523.5 944.8,1539.1"/>
</g>
<text x="263.5" y="509.8" font-size="17.7" textLength="303.6" lengthAdjust="spacingAndGlyphs" fill="#fff" fill-opacity="0.75">FLEXPART-WRF at MIM (LMU Munich)</text>
<text x="263.5" y="527.4" font-size="17.7" textLength="204.5" lengthAdjust="spacingAndGlyphs" fill="#fff" fill-opacity="0.75">christoph.knote@lmu.de</text>
<text x="263.5" y="545" font-size="17.7" textLength="96.9" lengthAdjust="spacingAndGlyphs" fill="#fff" fill-opacity="0.75">2020-03-06</text>
<line x1="929" y1="485" x2="929" y2="1540" stroke="#ff0000" stroke-width="2.1" />
<line x1="251" y1="1012.9" x2="1607" y2="1012.9" stroke="#ff0000" stroke-width="2.1" />
<g class="pl">
<rect x="1068.1" y="1030.1" fill="#cf3" opacity=".07"/>
<rect x="1071.2" y="1030.1" fill="#cf3" opacity=".29"/>
<rect x="1074.2" y="1030.1" fill="#cf3" opacity=".13"/>
<rect x="1068.1" y="1027.0" fill="#cf3" opacity=".20"/>
<rect x="1071.2" y="1027.0" fill="#cf3" opacity=".59"/>
<rect x="1074.2" y="1027.0" fill="#cf2" opacity=".48"/>
<rect x="1077.2" y="1027.0" fill="#df2" opacity=".12"/>
<rect x="1068.1" y="1024.0" fill="#cf2" opacity=".10"/>
<rect x="1071.2" y="1024.0" fill="#df2" opacity=".48"/>
<rect x="1074.2" y="1024.0" fill="#df1" opacity=".64"/>
<rect x="1077.2" y="1024.0" fill="#df1" opacity=".42"/>
<rect x="1080.2" y="1024.0" fill="#ef1" opacity=".14"/>
<rect x="1068.1" y="1021.0" fill="#df1" opacity=".05"/>
<rect x="1071.2" y="1021.0" fill="#df1" opacity=".40"/>
<rect x="1074.2" y="1021.0" fill="#ef1" opacity=".56"/>
<rect x="1077.2" y="1021.0" fill="#ef0" opacity=".65"/>
<rect x="1080.2" y="1021.0" fill="#fe0" opacity=".32"/>
<rect x="1083.2" y="1021.0" fill="#fe0" opacity=".14"/>
<rect x="1086.2" y="1021.0" fill="#fe0" opacity=".03"/>
<rect x="1068.1" y="1018.0" fill="#ef1" opacity=".03"/>
<rect x="1071.2" y="1018.0" fill="#ef0" opacity=".27"/>
<rect x="1074.2" y="1018.0" fill="#fe0" opacity=".57"/>
<rect x="1077.2" y="1018.0" fill="#fe0" opacity=".44"/>
<rect x="1080.2" y="1018.0" fill="#fe0" opacity=".58"/>
<rect x="1083.2" y="1018.0" fill="#fe0" opacity=".31"/>
<rect x="1086.2" y="1018.0" fill="#fe0" opacity=".07"/>
<rect x="1059.1" y="1015.0" fill="#fa0" opacity=".04"/>
<rect x="1062.1" y="1015.0" fill="#fa0" opacity=".07"/>
<rect x="1065.1" y="1015.0" fill="#fb0" opacity=".13"/>
<rect x="1068.1" y="1015.0" fill="#fc0" opacity=".23"/>
<rect x="1071.2" y="1015.0" fill="#fc0" opacity=".35"/>
<rect x="1074.2" y="1015.0" fill="#fd0" opacity=".41"/>
<rect x="1077.2" y="1015.0" fill="#fd0" opacity=".61"/>
<rect x="1080.2" y="1015.0" fill="#fe0" opacity=".49"/>
<rect x="1083.2" y="1015.0" fill="#fe0" opacity=".27"/>
<rect x="1086.2" y="1015.0" fill="#fe0" opacity=".08"/>
<rect x="926.6" y="1012.0" fill="#800" opacity=".21"/>
<rect x="1053.1" y="1012.0" fill="#f90" opacity=".04"/>
<rect x="1056.1" y="1012.0" fill="#f90" opacity=".08"/>
<rect x="1059.1" y="1012.0" fill="#fa0" opacity=".09"/>
<rect x="1062.1" y="1012.0" fill="#fa0" opacity=".12"/>
<rect x="1065.1" y="1012.0" fill="#fa0" opacity=".20"/>
<rect x="1068.1" y="1012.0" fill="#fb0" opacity=".28"/>
<rect x="1071.2" y="1012.0" fill="#fc0" opacity=".39"/>
<rect x="1074.2" y="1012.0" fill="#fc0" opacity=".38"/>
<rect x="1077.2" y="1012.0" fill="#fc0" opacity=".38"/>
<rect x="1080.2" y="1012.0" fill="#fd0" opacity=".37"/>
<rect x="1083.2" y="1012.0" fill="#fe0" opacity=".21"/>
<rect x="1086.2" y="1012.0" fill="#fe0" opacity=".03"/>
<rect x="926.6" y="1009.0" fill="#800" opacity="1"/>
<rect x="929.6" y="1009.0" fill="#800" opacity="1"/>
<rect x="932.6" y="1009.0" fill="#800" opacity="1"/>
<rect x="935.6" y="1009.0" fill="#800" opacity=".46"/>
<rect x="938.6" y="1009.0" fill="#800" opacity=".07"/>
<rect x="1047.1" y="1009.0" fill="#f90" opacity=".04"/>
<rect x="1050.1" y="1009.0" fill="#f90" opacity=".07"/>
<rect x="1053.1" y="1009.0" fill="#f90" opacity=".10"/>
<rect x="1056.1" y="1009.0" fill="#f90" opacity=".12"/>
<rect x="1059.1" y="1009.0" fill="#f90" opacity=".17"/>
<rect x="1062.1" y="1009.0" fill="#fa0" opacity=".24"/>
<rect x="1065.1" y="1009.0" fill="#fa0" opacity=".20"/>
<rect x="1068.1" y="1009.0" fill="#fa0" opacity=".27"/>
<rect x="1071.2" y="1009.0" fill="#fb0" opacity=".28"/>
<rect x="1074.2" y="1009.0" fill="#fb0" opacity=".38"/>
<rect x="1077.2" y="1009.0" fill="#fc0" opacity=".35"/>
<rect x="1080.2" y="1009.0" fill="#fc0" opacity=".23"/>
<rect x="1083.2" y="1009.0" fill="#fd0" opacity=".07"/>
<rect x="929.6" y="1006.0" fill="#800" opacity=".19"/>
<rect x="932.6" y="1006.0" fill="#800" opacity="1"/>
<rect x="935.6" y="1006.0" fill="#800" opacity="1"/>
<rect x="938.6" y="1006.0" fill="#800" opacity="1"/>
<rect x="941.7" y="1006.0" fill="#900" opacity=".96"/>
<rect x="944.7" y="1006.0" fill="#900" opacity=".49"/>
<rect x="947.7" y="1006.0" fill="#900" opacity=".17"/>
<rect x="1038.0" y="1006.0" fill="#d91" opacity=".03"/>
<rect x="1041.0" y="1006.0" fill="#e91" opacity=".05"/>
<rect x="1044.0" y="1006.0" fill="#e91" opacity=".07"/>
<rect x="1047.1" y="1006.0" fill="#e91" opacity=".11"/>
<rect x="1050.1" y="1006.0" fill="#f90" opacity=".12"/>
<rect x="1053.1" y="1006.0" fill="#f90" opacity=".14"/>
<rect x="1056.1" y="1006.0" fill="#f90" opacity=".21"/>
<rect x="1059.1" y="1006.0" fill="#f90" opacity=".24"/>
<rect x="1062.1" y="1006.0" fill="#fa0" opacity=".21"/>
<rect x="1065.1" y="1006.0" fill="#fa0" opacity=".26"/>
<rect x="1068.1" y="1006.0" fill="#fa0" opacity=".22"/>
<rect x="1071.2" y="1006.0" fill="#fa0" opacity=".28"/>
<rect x="1074.2" y="1006.0" fill="#fb0" opacity=".29"/>
<rect x="1077.2" y="1006.0" fill="#fb0" opacity=".25"/>
<rect x="1080.2" y="1006.0" fill="#fc0" opacity=".12"/>
<rect x="1083.2" y="1006.0" fill="#fc0" opacity=".04"/>
<rect x="935.6" y="1003.0" fill="#800" opacity=".51"/>
<rect x="938.6" y="1003.0" fill="#800" opacity="1"/>
<rect x="941.7" y="1003.0" fill="#800" opacity="1"/>
<rect x="944.7" y="1003.0" fill="#900" opacity="1"/>
<rect x="947.7" y="1003.0" fill="#900" opacity="1"/>
<rect x="950.7" y="1003.0" fill="#900" opacity=".89"/>
<rect x="953.7" y="1003.0" fill="#900" opacity=".49"/>
<rect x="956.7" y="1003.0" fill="#900" opacity=".12"/>
<rect x="1016.9" y="1003.0" fill="#3fc" opacity=".02"/>
<rect x="1020.0" y="1003.0" fill="#3fc" opacity=".04"/>
<rect x="1023.0" y="1003.0" fill="#3fb" opacity=".05"/>
<rect x="1026.0" y="1003.0" fill="#5ea" opacity=".07"/>
<rect x="1029.0" y="1003.0" fill="#6d9" opacity=".09"/>
<rect x="1032.0" y="1003.0" fill="#7c8" opacity=".11"/>
<rect x="1035.0" y="1003.0" fill="#8c7" opacity=".14"/>
<rect x="1038.0" y="1003.0" fill="#8c7" opacity=".14"/>
<rect x="1041.0" y="1003.0" fill="#9b6" opacity=".18"/>
<rect x="1044.0" y="1003.0" fill="#ab5" opacity=".21"/>
<rect x="1047.1" y="1003.0" fill="#ab5" opacity=".21"/>
<rect x="1050.1" y="1003.0" fill="#ab4" opacity=".22"/>
<rect x="1053.1" y="1003.0" fill="#bb4" opacity=".26"/>
<rect x="1056.1" y="1003.0" fill="#bb4" opacity=".26"/>
<rect x="1059.1" y="1003.0" fill="#cb3" opacity=".28"/>
<rect x="1062.1" y="1003.0" fill="#cb3" opacity=".30"/>
<rect x="1065.1" y="1003.0" fill="#cb3" opacity=".25"/>
<rect x="1068.1" y="1003.0" fill="#db2" opacity=".28"/>
<rect x="1071.2" y="1003.0" fill="#eb1" opacity=".28"/>
<rect x="1074.2" y="1003.0" fill="#eb1" opacity=".26"/>
<rect x="1077.2" y="1003.0" fill="#fb0" opacity=".21"/>
<rect x="1080.2" y="1003.0" fill="#fb0" opacity=".15"/>
<rect x="1083.2" y="1003.0" fill="#fb0" opacity=".07"/>
<rect x="1086.2" y="1003.0" fill="#fc0" opacity=".03"/>
<rect x="938.6" y="999.9" fill="#800" opacity=".10"/>
<rect x="941.7" y="999.9" fill="#900" opacity=".75"/>
<rect x="944.7" y="999.9" fill="#900" opacity="1"/>
<rect x="947.7" y="999.9" fill="#900" opacity="1"/>
<rect x="950.7" y="999.9" fill="#900" opacity="1"/>
<rect x="953.7" y="999.9" fill="#a00" opacity="1"/>
<rect x="956.7" y="999.9" fill="#900" opacity=".95"/>
<rect x="959.7" y="999.9" fill="#a00" opacity=".49"/>
<rect x="962.7" y="999.9" fill="#a00" opacity=".14"/>
<rect x="1010.9" y="999.9" fill="#3fc" opacity=".03"/>
<rect x="1013.9" y="999.9" fill="#3fb" opacity=".05"/>
<rect x="1016.9" y="999.9" fill="#4eb" opacity=".07"/>
<rect x="1020.0" y="999.9" fill="#6d9" opacity=".10"/>
<rect x="1023.0" y="999.9" fill="#7c8" opacity=".12"/>
<rect x="1026.0" y="999.9" fill="#7c7" opacity=".13"/>
<rect x="1029.0" y="999.9" fill="#8b6" opacity=".15"/>
<rect x="1032.0" y="999.9" fill="#9b6" opacity=".17"/>
<rect x="1035.0" y="999.9" fill="#9b5" opacity=".18"/>
<rect x="1038.0" y="999.9" fill="#aa5" opacity=".21"/>
<rect x="1041.0" y="999.9" fill="#ab5" opacity=".21"/>
<rect x="1044.0" y="999.9" fill="#ab5" opacity=".19"/>
<rect x="1047.1" y="999.9" fill="#bb4" opacity=".24"/>
<rect x="1050.1" y="999.9" fill="#bb4" opacity=".26"/>
<rect x="1053.1" y="999.9" fill="#bb4" opacity=".24"/>
<rect x="1056.1" y="999.9" fill="#bb4" opacity=".26"/>
<rect x="1059.1" y="999.9" fill="#bb4" opacity=".28"/>
<rect x="1062.1" y="999.9" fill="#cb3" opacity=".31"/>
<rect x="1065.1" y="999.9" fill="#cb3" opacity=".34"/>
<rect x="1068.1" y="999.9" fill="#db2" opacity=".37"/>
<rect x="1071.2" y="999.9" fill="#db2" opacity=".37"/>
<rect x="1074.2" y="999.9" fill="#eb1" opacity=".41"/>
<rect x="1077.2" y="999.9" fill="#eb1" opacity=".41"/>
<rect x="1080.2" y="999.9" fill="#fb0" opacity=".38"/>
<rect x="1083.2" y="999.9" fill="#fb0" opacity=".30"/>
<rect x="1086.2" y="999.9" fill="#fc0" opacity=".24"/>
<rect x="1089.2" y="999.9" fill="#fc0" opacity=".18"/>
<rect x="1092.2" y="999.9" fill="#fe0" opacity=".13"/>
<rect x="1095.2" y="999.9" fill="#fe0" opacity=".09"/>
<rect x="1098.3" y="999.9" fill="#fe0" opacity=".05"/>
<rect x="944.7" y="996.9" fill="#900" opacity=".29"/>
<rect x="947.7" y="996.9" fill="#900" opacity=".89"/>
<rect x="950.7" y="996.9" fill="#900" opacity="1"/>
<rect x="953.7" y="996.9" fill="#900" opacity="1"/>
<rect x="956.7" y="996.9" fill="#a00" opacity="1"/>
<rect x="959.7" y="996.9" fill="#a00" opacity="1"/>
<rect x="962.7" y="996.9" fill="#a00" opacity=".93"/>
<rect x="965.7" y="996.9" fill="#a00" opacity=".49"/>
<rect x="968.8" y="996.9" fill="#a00" opacity=".15"/>
<rect x="1010.9" y="996.9" fill="#5da" opacity=".04"/>
<rect x="1013.9" y="996.9" fill="#7b7" opacity=".08"/>
<rect x="1016.9" y="996.9" fill="#8b6" opacity=".12"/>
<rect x="1020.0" y="996.9" fill="#8b6" opacity=".14"/>
<rect x="1023.0" y="996.9" fill="#8b6" opacity=".15"/>
<rect x="1026.0" y="996.9" fill="#9a5" opacity=".18"/>
<rect x="1029.0" y="996.9" fill="#9b6" opacity=".17"/>
<rect x="1032.0" y="996.9" fill="#aa5" opacity=".19"/>
<rect x="1035.0" y="996.9" fill="#ab5" opacity=".19"/>
<rect x="1038.0" y="996.9" fill="#aa5" opacity=".21"/>
<rect x="1041.0" y="996.9" fill="#ab5" opacity=".20"/>
<rect x="1044.0" y="996.9" fill="#aa4" opacity=".23"/>
<rect x="1047.1" y="996.9" fill="#ab4" opacity=".22"/>
<rect x="1050.1" y="996.9" fill="#ba3" opacity=".27"/>
<rect x="1053.1" y="996.9" fill="#c93" opacity=".34"/>
<rect x="1056.1" y="996.9" fill="#d92" opacity=".38"/>
<rect x="1059.1" y="996.9" fill="#d92" opacity=".42"/>
<rect x="1062.1" y="996.9" fill="#ea1" opacity=".46"/>
<rect x="1065.1" y="996.9" fill="#e91" opacity=".53"/>
<rect x="1068.1" y="996.9" fill="#ea1" opacity=".58"/>
<rect x="1071.2" y="996.9" fill="#ea1" opacity=".63"/>
<rect x="1074.2" y="996.9" fill="#fa0" opacity=".67"/>
<rect x="1077.2" y="996.9" fill="#fb0" opacity=".72"/>
<rect x="1080.2" y="996.9" fill="#fb0" opacity=".75"/>
<rect x="1083.2" y="996.9" fill="#fb0" opacity=".68"/>
<rect x="1086.2" y="996.9" fill="#fc0" opacity=".60"/>
<rect x="1089.2" y="996.9" fill="#fc0" opacity=".52"/>
<rect x="1092.2" y="996.9" fill="#fd0" opacity=".45"/>
<rect x="1095.2" y="996.9" fill="#fe0" opacity=".37"/>
<rect x="1098.3" y="996.9" fill="#fe0" opacity=".27"/>
<rect x="1101.3" y="996.9" fill="#fe0" opacity=".14"/>
<rect x="1104.3" y="996.9" fill="#fe0" opacity=".03"/>
<rect x="947.7" y="993.9" fill="#900" opacity=".07"/>
<rect x="950.7" y="993.9" fill="#900" opacity=".50"/>
<rect x="953.7" y="993.9" fill="#a00" opacity="1"/>
<rect x="956.7" y="993.9" fill="#a00" opacity="1"/>
<rect x="959.7" y="993.9" fill="#a00" opacity="1"/>
<rect x="962.7" y="993.9" fill="#a00" opacity="1"/>
<rect x="965.7" y="993.9" fill="#a00" opacity="1"/>
<rect x="968.8" y="993.9" fill="#a00" opacity=".91"/>
<rect x="971.8" y="993.9" fill="#b00" opacity=".49"/>
<rect x="974.8" y="993.9" fill="#b00" opacity=".17"/>
<rect x="1010.9" y="993.9" fill="#f60" opacity=".02"/>
<rect x="1013.9" y="993.9" fill="#e61" opacity=".07"/>
<rect x="1016.9" y="993.9" fill="#d72" opacity=".09"/>
<rect x="1020.0" y="993.9" fill="#c83" opacity=".11"/>
<rect x="1023.0" y="993.9" fill="#c83" opacity=".14"/>
<rect x="1026.0" y="993.9" fill="#b94" opacity=".14"/>
<rect x="1029.0" y="993.9" fill="#aa5" opacity=".15"/>
<rect x="1032.0" y="993.9" fill="#aa5" opacity=".16"/>
<rect x="1035.0" y="993.9" fill="#ba4" opacity=".20"/>
<rect x="1038.0" y="993.9" fill="#ba4" opacity=".22"/>
<rect x="1041.0" y="993.9" fill="#c93" opacity=".27"/>
<rect x="1044.0" y="993.9" fill="#d82" opacity=".32"/>
<rect x="1047.1" y="993.9" fill="#d82" opacity=".42"/>
<rect x="1050.1" y="993.9" fill="#e81" opacity=".50"/>
<rect x="1053.1" y="993.9" fill="#e81" opacity=".58"/>
<rect x="1056.1" y="993.9" fill="#f80" opacity=".66"/>
<rect x="1059.1" y="993.9" fill="#f80" opacity=".73"/>
<rect x="1062.1" y="993.9" fill="#f80" opacity=".80"/>
<rect x="1065.1" y="993.9" fill="#f90" opacity=".86"/>
<rect x="1068.1" y="993.9" fill="#f90" opacity=".91"/>
<rect x="1071.2" y="993.9" fill="#fa0" opacity=".96"/>
<rect x="1074.2" y="993.9" fill="#fa0" opacity=".99"/>
<rect x="1077.2" y="993.9" fill="#fa0" opacity="1"/>
<rect x="1080.2" y="993.9" fill="#fb0" opacity="1"/>
<rect x="1083.2" y="993.9" fill="#fb0" opacity="1"/>
<rect x="1086.2" y="993.9" fill="#fc0" opacity=".98"/>
<rect x="1089.2" y="993.9" fill="#fd0" opacity=".93"/>
<rect x="1092.2" y="993.9" fill="#fd0" opacity=".87"/>
<rect x="1095.2" y="993.9" fill="#fe0" opacity=".79"/>
<rect x="1098.3" y="993.9" fill="#fe0" opacity=".63"/>
<rect x="1101.3" y="993.9" fill="#fe0" opacity=".39"/>
<rect x="1104.3" y="993.9" fill="#fe0" opacity=".13"/>
<rect x="953.7" y="990.9" fill="#a00" opacity=".22"/>
<rect x="956.7" y="990.9" fill="#a00" opacity=".72"/>
<rect x="959.7" y="990.9" fill="#a00" opacity="1"/>
<rect x="962.7" y="990.9" fill="#a00" opacity="1"/>
<rect x="965.7" y="990.9" fill="#b00" opacity="1"/>
<rect x="968.8" y="990.9" fill="#b00" opacity="1"/>
<rect x="971.8" y="990.9" fill="#a00" opacity="1"/>
<rect x="974.8" y="990.9" fill="#b00" opacity=".89"/>
<rect x="977.8" y="990.9" fill="#c00" opacity=".50"/>
<rect x="980.8" y="990.9" fill="#b00" opacity=".24"/>
<rect x="983.8" y="990.9" fill="#c00" opacity=".07"/>
<rect x="1013.9" y="990.9" fill="#f60" opacity=".06"/>
<rect x="1016.9" y="990.9" fill="#f60" opacity=".08"/>
<rect x="1020.0" y="990.9" fill="#f60" opacity=".08"/>
<rect x="1023.0" y="990.9" fill="#f60" opacity=".08"/>
<rect x="1026.0" y="990.9" fill="#f60" opacity=".11"/>
<rect x="1029.0" y="990.9" fill="#f50" opacity=".17"/>
<rect x="1032.0" y="990.9" fill="#f50" opacity=".23"/>
<rect x="1035.0" y="990.9" fill="#f50" opacity=".30"/>
<rect x="1038.0" y="990.9" fill="#f50" opacity=".42"/>
<rect x="1041.0" y="990.9" fill="#f60" opacity=".54"/>
<rect x="1044.0" y="990.9" fill="#f60" opacity=".66"/>
<rect x="1047.1" y="990.9" fill="#f60" opacity=".77"/>
<rect x="1050.1" y="990.9" fill="#f70" opacity=".87"/>
<rect x="1053.1" y="990.9" fill="#f70" opacity=".95"/>
<rect x="1056.1" y="990.9" fill="#f70" opacity="1"/>
<rect x="1059.1" y="990.9" fill="#f80" opacity="1"/>
<rect x="1062.1" y="990.9" fill="#f80" opacity="1"/>
<rect x="1065.1" y="990.9" fill="#f90" opacity="1"/>
<rect x="1068.1" y="990.9" fill="#f90" opacity="1"/>
<rect x="1071.2" y="990.9" fill="#fa0" opacity="1"/>
<rect x="1074.2" y="990.9" fill="#fa0" opacity="1"/>
<rect x="1077.2" y="990.9" fill="#fa0" opacity="1"/>
<rect x="1080.2" y="990.9" fill="#fb0" opacity="1"/>
<rect x="1083.2" y="990.9" fill="#fb0" opacity="1"/>
<rect x="1086.2" y="990.9" fill="#fc0" opacity="1"/>
<rect x="1089.2" y="990.9" fill="#fd0" opacity="1"/>
<rect x="1092.2" y="990.9" fill="#fe0" opacity="1"/>
<rect x="1095.2" y="990.9" fill="#fe0" opacity="1"/>
<rect x="1098.3" y="990.9" fill="#fe0" opacity=".97"/>
<rect x="1101.3" y="990.9" fill="#fe0" opacity=".65"/>
<rect x="1104.3" y="990.9" fill="#ef0" opacity=".27"/>
<rect x="1107.3" y="990.9" fill="#ef1" opacity=".03"/>
<rect x="956.7" y="987.9" fill="#a00" opacity=".05"/>
<rect x="959.7" y="987.9" fill="#a00" opacity=".40"/>
<rect x="962.7" y="987.9" fill="#a00" opacity=".91"/>
<rect x="965.7" y="987.9" fill="#b00" opacity="1"/>
<rect x="968.8" y="987.9" fill="#a00" opacity="1"/>
<rect x="971.8" y="987.9" fill="#b00" opacity="1"/>
<rect x="974.8" y="987.9" fill="#b00" opacity="1"/>
<rect x="977.8" y="987.9" fill="#b00" opacity="1"/>
<rect x="980.8" y="987.9" fill="#c00" opacity=".97"/>
<rect x="983.8" y="987.9" fill="#c00" opacity=".70"/>
<rect x="986.8" y="987.9" fill="#d00" opacity=".40"/>
<rect x="989.8" y="987.9" fill="#c00" opacity=".18"/>
<rect x="992.8" y="987.9" fill="#d00" opacity=".04"/>
<rect x="1013.9" y="987.9" fill="#f30" opacity=".08"/>
<rect x="1016.9" y="987.9" fill="#f30" opacity=".16"/>
<rect x="1020.0" y="987.9" fill="#f40" opacity=".24"/>
<rect x="1023.0" y="987.9" fill="#f30" opacity=".34"/>
<rect x="1026.0" y="987.9" fill="#f30" opacity=".46"/>
<rect x="1029.0" y="987.9" fill="#f40" opacity=".57"/>
<rect x="1032.0" y="987.9" fill="#f50" opacity=".69"/>
<rect x="1035.0" y="987.9" fill="#f50" opacity=".82"/>
<rect x="1038.0" y="987.9" fill="#f50" opacity=".93"/>
<rect x="1041.0" y="987.9" fill="#f60" opacity=".99"/>
<rect x="1044.0" y="987.9" fill="#f60" opacity="1"/>
<rect x="1047.1" y="987.9" fill="#f60" opacity="1"/>
<rect x="1050.1" y="987.9" fill="#f70" opacity="1"/>
<rect x="1053.1" y="987.9" fill="#f70" opacity="1"/>
<rect x="1056.1" y="987.9" fill="#f70" opacity="1"/>
<rect x="1059.1" y="987.9" fill="#f80" opacity="1"/>
<rect x="1062.1" y="987.9" fill="#f90" opacity="1"/>
<rect x="1065.1" y="987.9" fill="#f80" opacity="1"/>
<rect x="1068.1" y="987.9" fill="#f90" opacity="1"/>
<rect x="1071.2" y="987.9" fill="#fa0" opacity="1"/>
<rect x="1074.2" y="987.9" fill="#fa0" opacity="1"/>
<rect x="1077.2" y="987.9" fill="#fa0" opacity="1"/>
<rect x="1080.2" y="987.9" fill="#fb0" opacity="1"/>
<rect x="1083.2" y="987.9" fill="#fb0" opacity="1"/>
<rect x="1086.2" y="987.9" fill="#fc0" opacity="1"/>
<rect x="1089.2" y="987.9" fill="#fd0" opacity="1"/>
<rect x="1092.2" y="987.9" fill="#fd0" opacity="1"/>
<rect x="1095.2" y="987.9" fill="#fe0" opacity="1"/>
<rect x="1098.3" y="987.9" fill="#fe0" opacity="1"/>
<rect x="1101.3" y="987.9" fill="#ef0" opacity=".90"/>
<rect x="1104.3" y="987.9" fill="#ef1" opacity=".47"/>
<rect x="1107.3" y="987.9" fill="#df1" opacity=".11"/>
<rect x="962.7" y="984.9" fill="#a00" opacity=".17"/>
<rect x="965.7" y="984.9" fill="#a01" opacity=".68"/>
<rect x="968.8" y="984.9" fill="#b00" opacity="1"/>
<rect x="971.8" y="984.9" fill="#b00" opacity="1"/>
<rect x="974.8" y="984.9" fill="#c00" opacity="1"/>
<rect x="977.8" y="984.9" fill="#c00" opacity="1"/>
<rect x="980.8" y="984.9" fill="#c00" opacity="1"/>
<rect x="983.8" y="984.9" fill="#c00" opacity="1"/>
<rect x="986.8" y="984.9" fill="#c00" opacity="1"/>
<rect x="989.8" y="984.9" fill="#d00" opacity=".90"/>
<rect x="992.8" y="984.9" fill="#c01" opacity=".64"/>
<rect x="995.9" y="984.9" fill="#c02" opacity=".53"/>
<rect x="998.9" y="984.9" fill="#d12" opacity=".53"/>
<rect x="1001.9" y="984.9" fill="#d12" opacity=".54"/>
<rect x="1004.9" y="984.9" fill="#d12" opacity=".52"/>
<rect x="1007.9" y="984.9" fill="#d22" opacity=".51"/>
<rect x="1010.9" y="984.9" fill="#d22" opacity=".54"/>
<rect x="1013.9" y="984.9" fill="#e21" opacity=".66"/>
<rect x="1016.9" y="984.9" fill="#e31" opacity=".78"/>
<rect x="1020.0" y="984.9" fill="#f30" opacity=".89"/>
<rect x="1023.0" y="984.9" fill="#f30" opacity=".96"/>
<rect x="1026.0" y="984.9" fill="#f40" opacity="1"/>
<rect x="1029.0" y="984.9" fill="#f40" opacity="1"/>
<rect x="1032.0" y="984.9" fill="#f40" opacity="1"/>
<rect x="1035.0" y="984.9" fill="#f50" opacity="1"/>
<rect x="1038.0" y="984.9" fill="#f50" opacity="1"/>
<rect x="1041.0" y="984.9" fill="#f50" opacity="1"/>
<rect x="1044.0" y="984.9" fill="#f60" opacity="1"/>
<rect x="1047.1" y="984.9" fill="#f60" opacity="1"/>
<rect x="1050.1" y="984.9" fill="#f70" opacity="1"/>
<rect x="1053.1" y="984.9" fill="#f70" opacity="1"/>
<rect x="1056.1" y="984.9" fill="#f70" opacity="1"/>
<rect x="1059.1" y="984.9" fill="#f80" opacity="1"/>
<rect x="1062.1" y="984.9" fill="#f80" opacity="1"/>
<rect x="1065.1" y="984.9" fill="#f90" opacity="1"/>
<rect x="1068.1" y="984.9" fill="#f90" opacity="1"/>
<rect x="1071.2" y="984.9" fill="#f90" opacity="1"/>
<rect x="1074.2" y="984.9" fill="#fa0" opacity="1"/>
<rect x="1077.2" y="984.9" fill="#fa0" opacity="1"/>
<rect x="1080.2" y="984.9" fill="#fb0" opacity="1"/>
<rect x="1083.2" y="984.9" fill="#fc0" opacity="1"/>
<rect x="1086.2" y="984.9" fill="#fc0" opacity="1"/>
<rect x="1089.2" y="984.9" fill="#fd0" opacity="1"/>
<rect x="1092.2" y="984.9" fill="#fe0" opacity="1"/>
<rect x="1095.2" y="984.9" fill="#fe0" opacity="1"/>
<rect x="1098.3" y="984.9" fill="#ef0" opacity="1"/>
<rect x="1101.3" y="984.9" fill="#ef1" opacity="1"/>
<rect x="1104.3" y="984.9" fill="#df1" opacity=".79"/>
<rect x="1107.3" y="984.9" fill="#df2" opacity=".33"/>
<rect x="1110.3" y="984.9" fill="#df2" opacity=".02"/>
<rect x="962.7" y="981.9" fill="#05f" opacity=".09"/>
<rect x="965.7" y="981.9" fill="#24c" opacity=".25"/>
<rect x="968.8" y="981.9" fill="#912" opacity=".38"/>
<rect x="971.8" y="981.9" fill="#c00" opacity=".78"/>
<rect x="974.8" y="981.9" fill="#b00" opacity="1"/>
<rect x="977.8" y="981.9" fill="#c00" opacity="1"/>
<rect x="980.8" y="981.9" fill="#c00" opacity="1"/>
<rect x="983.8" y="981.9" fill="#c00" opacity="1"/>
<rect x="986.8" y="981.9" fill="#d00" opacity="1"/>
<rect x="989.8" y="981.9" fill="#d00" opacity="1"/>
<rect x="992.8" y="981.9" fill="#d00" opacity="1"/>
<rect x="995.9" y="981.9" fill="#e00" opacity="1"/>
<rect x="998.9" y="981.9" fill="#e10" opacity="1"/>
<rect x="1001.9" y="981.9" fill="#f10" opacity="1"/>
<rect x="1004.9" y="981.9" fill="#f10" opacity="1"/>
<rect x="1007.9" y="981.9" fill="#f20" opacity="1"/>
<rect x="1010.9" y="981.9" fill="#f20" opacity="1"/>
<rect x="1013.9" y="981.9" fill="#f20" opacity="1"/>
<rect x="1016.9" y="981.9" fill="#f20" opacity="1"/>
<rect x="1020.0" y="981.9" fill="#f30" opacity="1"/>
<rect x="1023.0" y="981.9" fill="#f30" opacity="1"/>
<rect x="1026.0" y="981.9" fill="#f40" opacity="1"/>
<rect x="1029.0" y="981.9" fill="#f40" opacity="1"/>
<rect x="1032.0" y="981.9" fill="#f40" opacity="1"/>
<rect x="1035.0" y="981.9" fill="#f50" opacity="1"/>
<rect x="1038.0" y="981.9" fill="#f50" opacity="1"/>
<rect x="1041.0" y="981.9" fill="#f50" opacity="1"/>
<rect x="1044.0" y="981.9" fill="#f60" opacity="1"/>
<rect x="1047.1" y="981.9" fill="#f60" opacity="1"/>
<rect x="1050.1" y="981.9" fill="#f60" opacity="1"/>
<rect x="1053.1" y="981.9" fill="#f70" opacity="1"/>
<rect x="1056.1" y="981.9" fill="#f80" opacity="1"/>
<rect x="1059.1" y="981.9" fill="#f70" opacity="1"/>
<rect x="1062.1" y="981.9" fill="#f80" opacity="1"/>
<rect x="1065.1" y="981.9" fill="#f90" opacity="1"/>
<rect x="1068.1" y="981.9" fill="#f90" opacity="1"/>
<rect x="1071.2" y="981.9" fill="#f90" opacity="1"/>
<rect x="1074.2" y="981.9" fill="#fa0" opacity="1"/>
<rect x="1077.2" y="981.9" fill="#fa0" opacity="1"/>
<rect x="1080.2" y="981.9" fill="#fb0" opacity="1"/>
<rect x="1083.2" y="981.9" fill="#fc0" opacity="1"/>
<rect x="1086.2" y="981.9" fill="#fc0" opacity="1"/>
<rect x="1089.2" y="981.9" fill="#fd0" opacity="1"/>
<rect x="1092.2" y="981.9" fill="#fe0" opacity="1"/>
<rect x="1095.2" y="981.9" fill="#ef1" opacity="1"/>
<rect x="1098.3" y="981.9" fill="#ef0" opacity="1"/>
<rect x="1101.3" y="981.9" fill="#df1" opacity="1"/>
<rect x="1104.3" y="981.9" fill="#cf2" opacity="1"/>
<rect x="1107.3" y="981.9" fill="#df2" opacity=".80"/>
<rect x="1110.3" y="981.9" fill="#df2" opacity=".27"/>
<rect x="962.7" y="978.9" fill="#05f" opacity=".09"/>
<rect x="965.7" y="978.9" fill="#05f" opacity=".22"/>
<rect x="971.8" y="978.9" fill="#c00" opacity=".13"/>
<rect x="974.8" y="978.9" fill="#b00" opacity=".38"/>
<rect x="977.8" y="978.9" fill="#c00" opacity=".71"/>
<rect x="980.8" y="978.9" fill="#c00" opacity=".99"/>
<rect x="983.8" y="978.9" fill="#d00" opacity="1"/>
<rect x="986.8" y="978.9" fill="#d00" opacity="1"/>
<rect x="989.8" y="978.9" fill="#d00" opacity="1"/>
<rect x="992.8" y="978.9" fill="#e00" opacity="1"/>
<rect x="995.9" y="978.9" fill="#e00" opacity="1"/>
<rect x="998.9" y="978.9" fill="#e10" opacity="1"/>
<rect x="1001.9" y="978.9" fill="#e10" opacity="1"/>
<rect x="1004.9" y="978.9" fill="#f10" opacity="1"/>
<rect x="1007.9" y="978.9" fill="#f20" opacity="1"/>
<rect x="1010.9" y="978.9" fill="#f20" opacity="1"/>
<rect x="1013.9" y="978.9" fill="#f20" opacity="1"/>
<rect x="1016.9" y="978.9" fill="#f30" opacity="1"/>
<rect x="1020.0" y="978.9" fill="#f30" opacity="1"/>
<rect x="1023.0" y="978.9" fill="#f30" opacity="1"/>
<rect x="1026.0" y="978.9" fill="#f30" opacity="1"/>
<rect x="1029.0" y="978.9" fill="#f40" opacity="1"/>
<rect x="1032.0" y="978.9" fill="#f40" opacity="1"/>
<rect x="1035.0" y="978.9" fill="#f50" opacity="1"/>
<rect x="1038.0" y="978.9" fill="#f50" opacity="1"/>
<rect x="1041.0" y="978.9" fill="#f50" opacity="1"/>
<rect x="1044.0" y="978.9" fill="#f60" opacity="1"/>
<rect x="1047.1" y="978.9" fill="#f60" opacity="1"/>
<rect x="1050.1" y="978.9" fill="#f70" opacity="1"/>
<rect x="1053.1" y="978.9" fill="#f70" opacity="1"/>
<rect x="1056.1" y="978.9" fill="#f70" opacity="1"/>
<rect x="1059.1" y="978.9" fill="#f80" opacity="1"/>
<rect x="1062.1" y="978.9" fill="#f80" opacity="1"/>
<rect x="1065.1" y="978.9" fill="#f90" opacity="1"/>
<rect x="1068.1" y="978.9" fill="#f90" opacity="1"/>
<rect x="1071.2" y="978.9" fill="#f90" opacity="1"/>
<rect x="1074.2" y="978.9" fill="#fa0" opacity="1"/>
<rect x="1077.2" y="978.9" fill="#fa0" opacity="1"/>
<rect x="1080.2" y="978.9" fill="#fb0" opacity="1"/>
<rect x="1083.2" y="978.9" fill="#fc0" opacity="1"/>
<rect x="1086.2" y="978.9" fill="#fd0" opacity="1"/>
<rect x="1089.2" y="978.9" fill="#fd0" opacity="1"/>
<rect x="1092.2" y="978.9" fill="#ef0" opacity="1"/>
<rect x="1095.2" y="978.9" fill="#ef1" opacity="1"/>
<rect x="1098.3" y="978.9" fill="#df1" opacity="1"/>
<rect x="1101.3" y="978.9" fill="#df2" opacity="1"/>
<rect x="1104.3" y="978.9" fill="#df2" opacity="1"/>
<rect x="1107.3" y="978.9" fill="#df2" opacity=".98"/>
<rect x="1110.3" y="978.9" fill="#cf2" opacity=".58"/>
<rect x="962.7" y="975.8" fill="#05f" opacity=".05"/>
<rect x="965.7" y="975.8" fill="#05f" opacity=".21"/>
<rect x="968.8" y="975.8" fill="#05f" opacity=".03"/>
<rect x="977.8" y="975.8" fill="#c00" opacity=".08"/>
<rect x="980.8" y="975.8" fill="#a13" opacity=".38"/>
<rect x="983.8" y="975.8" fill="#b12" opacity=".73"/>
<rect x="986.8" y="975.8" fill="#d00" opacity=".92"/>
<rect x="989.8" y="975.8" fill="#e00" opacity="1"/>
<rect x="992.8" y="975.8" fill="#d00" opacity="1"/>
<rect x="995.9" y="975.8" fill="#e00" opacity="1"/>
<rect x="998.9" y="975.8" fill="#e00" opacity="1"/>
<rect x="1001.9" y="975.8" fill="#f10" opacity="1"/>
<rect x="1004.9" y="975.8" fill="#f10" opacity="1"/>
<rect x="1007.9" y="975.8" fill="#f10" opacity="1"/>
<rect x="1010.9" y="975.8" fill="#f20" opacity="1"/>
<rect x="1013.9" y="975.8" fill="#f20" opacity="1"/>
<rect x="1016.9" y="975.8" fill="#f30" opacity="1"/>
<rect x="1020.0" y="975.8" fill="#f30" opacity="1"/>
<rect x="1023.0" y="975.8" fill="#f30" opacity="1"/>
<rect x="1026.0" y="975.8" fill="#f40" opacity="1"/>
<rect x="1029.0" y="975.8" fill="#f40" opacity="1"/>
<rect x="1032.0" y="975.8" fill="#f40" opacity="1"/>
<rect x="1035.0" y="975.8" fill="#f40" opacity="1"/>
<rect x="1038.0" y="975.8" fill="#f50" opacity="1"/>
<rect x="1041.0" y="975.8" fill="#f50" opacity="1"/>
<rect x="1044.0" y="975.8" fill="#f60" opacity="1"/>
<rect x="1047.1" y="975.8" fill="#f60" opacity="1"/>
<rect x="1050.1" y="975.8" fill="#f60" opacity=".99"/>
<rect x="1053.1" y="975.8" fill="#e71" opacity=".99"/>
<rect x="1056.1" y="975.8" fill="#e71" opacity="1"/>
<rect x="1059.1" y="975.8" fill="#e81" opacity=".98"/>
<rect x="1062.1" y="975.8" fill="#e81" opacity=".98"/>
<rect x="1065.1" y="975.8" fill="#e91" opacity=".99"/>
<rect x="1068.1" y="975.8" fill="#e91" opacity="1"/>
<rect x="1071.2" y="975.8" fill="#ea1" opacity=".98"/>
<rect x="1074.2" y="975.8" fill="#ea1" opacity=".98"/>
<rect x="1077.2" y="975.8" fill="#ea1" opacity=".97"/>
<rect x="1080.2" y="975.8" fill="#ec1" opacity=".99"/>
<rect x="1083.2" y="975.8" fill="#ec1" opacity="1"/>
<rect x="1086.2" y="975.8" fill="#ed1" opacity=".99"/>
<rect x="1089.2" y="975.8" fill="#ee1" opacity=".98"/>
<rect x="1092.2" y="975.8" fill="#ef1" opacity="1"/>
<rect x="1095.2" y="975.8" fill="#df1" opacity="1"/>
<rect x="1098.3" y="975.8" fill="#df1" opacity="1"/>
<rect x="1101.3" y="975.8" fill="#df2" opacity="1"/>
<rect x="1104.3" y="975.8" fill="#cf2" opacity="1"/>
<rect x="1107.3" y="975.8" fill="#cf2" opacity="1"/>
<rect x="1110.3" y="975.8" fill="#df2" opacity=".69"/>
<rect x="1113.3" y="975.8" fill="#df2" opacity=".03"/>
<rect x="965.7" y="972.8" fill="#05f" opacity=".20"/>
<rect x="968.8" y="972.8" fill="#05f" opacity=".09"/>
<rect x="980.8" y="972.8" fill="#05f" opacity=".06"/>
<rect x="983.8" y="972.8" fill="#24d" opacity=".31"/>
<rect x="986.8" y="972.8" fill="#905" opacity=".32"/>
<rect x="989.8" y="972.8" fill="#a04" opacity=".70"/>
<rect x="992.8" y="972.8" fill="#c02" opacity=".85"/>
<rect x="995.9" y="972.8" fill="#c02" opacity=".91"/>
<rect x="998.9" y="972.8" fill="#d12" opacity=".97"/>
<rect x="1001.9" y="972.8" fill="#d11" opacity=".96"/>
<rect x="1004.9" y="972.8" fill="#e11" opacity=".98"/>
<rect x="1007.9" y="972.8" fill="#e21" opacity="1"/>
<rect x="1010.9" y="972.8" fill="#e21" opacity=".99"/>
<rect x="1013.9" y="972.8" fill="#e21" opacity=".98"/>
<rect x="1016.9" y="972.8" fill="#e21" opacity=".99"/>
<rect x="1020.0" y="972.8" fill="#d32" opacity=".96"/>
<rect x="1023.0" y="972.8" fill="#d32" opacity=".96"/>
<rect x="1026.0" y="972.8" fill="#c33" opacity="1"/>
<rect x="1029.0" y="972.8" fill="#c43" opacity=".91"/>
<rect x="1032.0" y="972.8" fill="#b44" opacity=".96"/>
<rect x="1035.0" y="972.8" fill="#b54" opacity=".97"/>
<rect x="1038.0" y="972.8" fill="#a55" opacity=".94"/>
<rect x="1041.0" y="972.8" fill="#a55" opacity=".89"/>
<rect x="1044.0" y="972.8" fill="#a65" opacity=".98"/>
<rect x="1047.1" y="972.8" fill="#a65" opacity=".89"/>
<rect x="1050.1" y="972.8" fill="#976" opacity=".93"/>
<rect x="1053.1" y="972.8" fill="#976" opacity=".93"/>
<rect x="1056.1" y="972.8" fill="#986" opacity=".85"/>
<rect x="1059.1" y="972.8" fill="#887" opacity=".93"/>
<rect x="1062.1" y="972.8" fill="#887" opacity=".96"/>
<rect x="1065.1" y="972.8" fill="#897" opacity=".91"/>
<rect x="1068.1" y="972.8" fill="#996" opacity=".84"/>
<rect x="1071.2" y="972.8" fill="#8a7" opacity=".96"/>
<rect x="1074.2" y="972.8" fill="#8a7" opacity=".89"/>
<rect x="1077.2" y="972.8" fill="#8b7" opacity=".99"/>
<rect x="1080.2" y="972.8" fill="#9c6" opacity=".89"/>
<rect x="1083.2" y="972.8" fill="#ad5" opacity=".89"/>
<rect x="1086.2" y="972.8" fill="#ad4" opacity=".94"/>
<rect x="1089.2" y="972.8" fill="#9f5" opacity=".99"/>
<rect x="1092.2" y="972.8" fill="#cf2" opacity=".97"/>
<rect x="1095.2" y="972.8" fill="#df2" opacity=".99"/>
<rect x="1098.3" y="972.8" fill="#df2" opacity="1"/>
<rect x="1101.3" y="972.8" fill="#df2" opacity="1"/>
<rect x="1104.3" y="972.8" fill="#cf2" opacity="1"/>
<rect x="1107.3" y="972.8" fill="#cf2" opacity=".96"/>
<rect x="1110.3" y="972.8" fill="#cf3" opacity=".69"/>
<rect x="1113.3" y="972.8" fill="#cf2" opacity=".02"/>
<rect x="965.7" y="969.8" fill="#05f" opacity=".16"/>
<rect x="968.8" y="969.8" fill="#05f" opacity=".16"/>
<rect x="971.8" y="969.8" fill="#05f" opacity=".13"/>
<rect x="974.8" y="969.8" fill="#05f" opacity=".09"/>
<rect x="977.8" y="969.8" fill="#05f" opacity=".14"/>
<rect x="980.8" y="969.8" fill="#05f" opacity=".20"/>
<rect x="983.8" y="969.8" fill="#05f" opacity=".26"/>
<rect x="986.8" y="969.8" fill="#02f" opacity=".18"/>
<rect x="989.8" y="969.8" fill="#10e" opacity=".35"/>
<rect x="992.8" y="969.8" fill="#20c" opacity=".50"/>
<rect x="995.9" y="969.8" fill="#20c" opacity=".69"/>
<rect x="998.9" y="969.8" fill="#30c" opacity=".66"/>
<rect x="1001.9" y="969.8" fill="#30c" opacity=".97"/>
<rect x="1004.9" y="969.8" fill="#40b" opacity=".85"/>
<rect x="1007.9" y="969.8" fill="#51a" opacity=".76"/>
<rect x="1010.9" y="969.8" fill="#51a" opacity=".94"/>
<rect x="1013.9" y="969.8" fill="#42b" opacity=".99"/>
<rect x="1016.9" y="969.8" fill="#42b" opacity=".82"/>
<rect x="1020.0" y="969.8" fill="#42b" opacity=".87"/>
<rect x="1023.0" y="969.8" fill="#32c" opacity=".84"/>
<rect x="1026.0" y="969.8" fill="#33c" opacity=".74"/>
<rect x="1029.0" y="969.8" fill="#34c" opacity="1"/>
<rect x="1032.0" y="969.8" fill="#33c" opacity=".83"/>
<rect x="1035.0" y="969.8" fill="#34c" opacity=".73"/>
<rect x="1038.0" y="969.8" fill="#25d" opacity=".77"/>
<rect x="1041.0" y="969.8" fill="#25d" opacity=".90"/>
<rect x="1044.0" y="969.8" fill="#25d" opacity=".77"/>
<rect x="1047.1" y="969.8" fill="#26d" opacity=".90"/>
<rect x="1050.1" y="969.8" fill="#26d" opacity=".73"/>
<rect x="1053.1" y="969.8" fill="#27d" opacity=".70"/>
<rect x="1056.1" y="969.8" fill="#28d" opacity=".90"/>
<rect x="1059.1" y="969.8" fill="#27d" opacity=".83"/>
<rect x="1062.1" y="969.8" fill="#28d" opacity=".78"/>
<rect x="1065.1" y="969.8" fill="#29d" opacity=".77"/>
<rect x="1068.1" y="969.8" fill="#2ad" opacity=".82"/>
<rect x="1071.2" y="969.8" fill="#2ad" opacity=".76"/>
<rect x="1074.2" y="969.8" fill="#2ad" opacity=".97"/>
<rect x="1077.2" y="969.8" fill="#3bc" opacity=".79"/>
<rect x="1080.2" y="969.8" fill="#3cc" opacity=".83"/>
<rect x="1083.2" y="969.8" fill="#3dc" opacity=".83"/>
<rect x="1086.2" y="969.8" fill="#1ed" opacity=".83"/>
<rect x="1089.2" y="969.8" fill="#4fb" opacity=".87"/>
<rect x="1092.2" y="969.8" fill="#7f8" opacity=".94"/>
<rect x="1095.2" y="969.8" fill="#af4" opacity=".94"/>
<rect x="1098.3" y="969.8" fill="#cf3" opacity=".97"/>
<rect x="1101.3" y="969.8" fill="#cf2" opacity=".99"/>
<rect x="1104.3" y="969.8" fill="#cf2" opacity=".96"/>
<rect x="1107.3" y="969.8" fill="#bf4" opacity="1"/>
<rect x="1110.3" y="969.8" fill="#bf3" opacity=".66"/>
<rect x="1113.3" y="969.8" fill="#bf3" opacity=".05"/>
<rect x="971.8" y="966.8" fill="#05f" opacity=".05"/>
<rect x="974.8" y="966.8" fill="#05f" opacity=".08"/>
<rect x="977.8" y="966.8" fill="#05f" opacity=".09"/>
<rect x="980.8" y="966.8" fill="#05f" opacity=".06"/>
<rect x="983.8" y="966.8" fill="#05f" opacity=".02"/>
<rect x="986.8" y="966.8" fill="#00e" opacity=".11"/>
<rect x="989.8" y="966.8" fill="#00e" opacity=".40"/>
<rect x="992.8" y="966.8" fill="#00f" opacity=".43"/>
<rect x="995.9" y="966.8" fill="#00e" opacity=".56"/>
<rect x="998.9" y="966.8" fill="#00e" opacity=".82"/>
<rect x="1001.9" y="966.8" fill="#00e" opacity=".75"/>
<rect x="1004.9" y="966.8" fill="#00f" opacity=".80"/>
<rect x="1007.9" y="966.8" fill="#00f" opacity=".90"/>
<rect x="1010.9" y="966.8" fill="#00f" opacity=".78"/>
<rect x="1013.9" y="966.8" fill="#00f" opacity=".83"/>
<rect x="1016.9" y="966.8" fill="#01f" opacity=".92"/>
<rect x="1020.0" y="966.8" fill="#01f" opacity=".72"/>
<rect x="1023.0" y="966.8" fill="#02f" opacity=".75"/>
<rect x="1026.0" y="966.8" fill="#02f" opacity=".89"/>
<rect x="1029.0" y="966.8" fill="#02f" opacity=".73"/>
<rect x="1032.0" y="966.8" fill="#03f" opacity=".77"/>
<rect x="1035.0" y="966.8" fill="#03f" opacity=".77"/>
<rect x="1038.0" y="966.8" fill="#03f" opacity=".67"/>
<rect x="1041.0" y="966.8" fill="#05f" opacity=".71"/>
<rect x="1044.0" y="966.8" fill="#05f" opacity=".80"/>
<rect x="1047.1" y="966.8" fill="#05f" opacity=".66"/>
<rect x="1050.1" y="966.8" fill="#06f" opacity=".69"/>
<rect x="1053.1" y="966.8" fill="#06f" opacity=".72"/>
<rect x="1056.1" y="966.8" fill="#07f" opacity=".65"/>
<rect x="1059.1" y="966.8" fill="#08f" opacity=".74"/>
<rect x="1062.1" y="966.8" fill="#08f" opacity=".75"/>
<rect x="1065.1" y="966.8" fill="#09f" opacity=".66"/>
<rect x="1068.1" y="966.8" fill="#08f" opacity=".71"/>
<rect x="1071.2" y="966.8" fill="#09f" opacity=".78"/>
<rect x="1074.2" y="966.8" fill="#0bf" opacity=".72"/>
<rect x="1077.2" y="966.8" fill="#0bf" opacity=".81"/>
<rect x="1080.2" y="966.8" fill="#0bf" opacity=".77"/>
<rect x="1083.2" y="966.8" fill="#0cf" opacity=".73"/>
<rect x="1086.2" y="966.8" fill="#0ee" opacity=".82"/>
<rect x="1089.2" y="966.8" fill="#1fd" opacity=".86"/>
<rect x="1092.2" y="966.8" fill="#3fc" opacity=".80"/>
<rect x="1095.2" y="966.8" fill="#6f9" opacity=".87"/>
<rect x="1098.3" y="966.8" fill="#9f6" opacity=".88"/>
<rect x="1101.3" y="966.8" fill="#af5" opacity=".88"/>
<rect x="1104.3" y="966.8" fill="#9f5" opacity=".96"/>
<rect x="1107.3" y="966.8" fill="#9f5" opacity=".87"/>
<rect x="1110.3" y="966.8" fill="#bf4" opacity=".60"/>
<rect x="1113.3" y="966.8" fill="#bf3" opacity=".04"/>
<rect x="986.8" y="963.8" fill="#00e" opacity=".11"/>
<rect x="989.8" y="963.8" fill="#00f" opacity=".36"/>
<rect x="992.8" y="963.8" fill="#00e" opacity=".50"/>
<rect x="995.9" y="963.8" fill="#00f" opacity=".57"/>
<rect x="998.9" y="963.8" fill="#00e" opacity=".68"/>
<rect x="1001.9" y="963.8" fill="#00e" opacity=".77"/>
<rect x="1004.9" y="963.8" fill="#00e" opacity=".87"/>
<rect x="1007.9" y="963.8" fill="#00d" opacity=".80"/>
<rect x="1010.9" y="963.8" fill="#00f" opacity=".87"/>
<rect x="1013.9" y="963.8" fill="#00f" opacity=".75"/>
<rect x="1016.9" y="963.8" fill="#00f" opacity=".70"/>
<rect x="1020.0" y="963.8" fill="#00f" opacity=".85"/>
<rect x="1023.0" y="963.8" fill="#01f" opacity=".78"/>
<rect x="1026.0" y="963.8" fill="#01f" opacity=".71"/>
<rect x="1029.0" y="963.8" fill="#02f" opacity=".67"/>
<rect x="1032.0" y="963.8" fill="#03f" opacity=".69"/>
<rect x="1035.0" y="963.8" fill="#03f" opacity=".66"/>
<rect x="1038.0" y="963.8" fill="#04f" opacity=".75"/>
<rect x="1041.0" y="963.8" fill="#03f" opacity=".59"/>
<rect x="1044.0" y="963.8" fill="#04f" opacity=".58"/>
<rect x="1047.1" y="963.8" fill="#05f" opacity=".63"/>
<rect x="1050.1" y="963.8" fill="#05f" opacity=".63"/>
<rect x="1053.1" y="963.8" fill="#06f" opacity=".60"/>
<rect x="1056.1" y="963.8" fill="#06f" opacity=".60"/>
<rect x="1059.1" y="963.8" fill="#07f" opacity=".58"/>
<rect x="1062.1" y="963.8" fill="#07f" opacity=".59"/>
<rect x="1065.1" y="963.8" fill="#08f" opacity=".71"/>
<rect x="1068.1" y="963.8" fill="#08f" opacity=".61"/>
<rect x="1071.2" y="963.8" fill="#0af" opacity=".65"/>
<rect x="1074.2" y="963.8" fill="#09f" opacity=".69"/>
<rect x="1077.2" y="963.8" fill="#0af" opacity=".71"/>
<rect x="1080.2" y="963.8" fill="#0bf" opacity=".69"/>
<rect x="1083.2" y="963.8" fill="#0bf" opacity=".81"/>
<rect x="1086.2" y="963.8" fill="#0df" opacity=".72"/>
<rect x="1089.2" y="963.8" fill="#1fd" opacity=".77"/>
<rect x="1092.2" y="963.8" fill="#3fc" opacity=".83"/>
<rect x="1095.2" y="963.8" fill="#4fb" opacity=".75"/>
<rect x="1098.3" y="963.8" fill="#5fa" opacity=".86"/>
<rect x="1101.3" y="963.8" fill="#6f8" opacity=".89"/>
<rect x="1104.3" y="963.8" fill="#8f7" opacity=".81"/>
<rect x="1107.3" y="963.8" fill="#9f5" opacity=".76"/>
<rect x="1110.3" y="963.8" fill="#af5" opacity=".55"/>
<rect x="986.8" y="960.8" fill="#00f" opacity=".11"/>
<rect x="989.8" y="960.8" fill="#00e" opacity=".42"/>
<rect x="992.8" y="960.8" fill="#00e" opacity=".46"/>
<rect x="995.9" y="960.8" fill="#00d" opacity=".56"/>
<rect x="998.9" y="960.8" fill="#00d" opacity=".57"/>
<rect x="1001.9" y="960.8" fill="#00e" opacity=".89"/>
<rect x="1004.9" y="960.8" fill="#00e" opacity=".85"/>
<rect x="1007.9" y="960.8" fill="#00d" opacity=".83"/>
<rect x="1010.9" y="960.8" fill="#00d" opacity=".69"/>
<rect x="1013.9" y="960.8" fill="#00e" opacity=".74"/>
<rect x="1016.9" y="960.8" fill="#00e" opacity=".77"/>
<rect x="1020.0" y="960.8" fill="#00f" opacity=".73"/>
<rect x="1023.0" y="960.8" fill="#00f" opacity=".73"/>
<rect x="1026.0" y="960.8" fill="#01f" opacity=".61"/>
<rect x="1029.0" y="960.8" fill="#01f" opacity=".67"/>
<rect x="1032.0" y="960.8" fill="#01f" opacity=".59"/>
<rect x="1035.0" y="960.8" fill="#02f" opacity=".63"/>
<rect x="1038.0" y="960.8" fill="#02f" opacity=".53"/>
<rect x="1041.0" y="960.8" fill="#04f" opacity=".60"/>
<rect x="1044.0" y="960.8" fill="#03f" opacity=".49"/>
<rect x="1047.1" y="960.8" fill="#04f" opacity=".49"/>
<rect x="1050.1" y="960.8" fill="#04f" opacity=".50"/>
<rect x="1053.1" y="960.8" fill="#05f" opacity=".53"/>
<rect x="1056.1" y="960.8" fill="#05f" opacity=".51"/>
<rect x="1059.1" y="960.8" fill="#06f" opacity=".48"/>
<rect x="1062.1" y="960.8" fill="#07f" opacity=".50"/>
<rect x="1065.1" y="960.8" fill="#07f" opacity=".50"/>
<rect x="1068.1" y="960.8" fill="#08f" opacity=".68"/>
<rect x="1071.2" y="960.8" fill="#08f" opacity=".56"/>
<rect x="1074.2" y="960.8" fill="#08f" opacity=".55"/>
<rect x="1077.2" y="960.8" fill="#0af" opacity=".57"/>
<rect x="1080.2" y="960.8" fill="#0af" opacity=".76"/>
<rect x="1083.2" y="960.8" fill="#0bf" opacity=".71"/>
<rect x="1086.2" y="960.8" fill="#0cf" opacity=".76"/>
<rect x="1089.2" y="960.8" fill="#1fd" opacity=".65"/>
<rect x="1092.2" y="960.8" fill="#2fd" opacity=".68"/>
<rect x="1095.2" y="960.8" fill="#3fb" opacity=".95"/>
<rect x="1098.3" y="960.8" fill="#5f9" opacity=".87"/>
<rect x="1101.3" y="960.8" fill="#6f9" opacity=".76"/>
<rect x="1104.3" y="960.8" fill="#7f7" opacity=".73"/>
<rect x="1107.3" y="960.8" fill="#8f6" opacity=".93"/>
<rect x="1110.3" y="960.8" fill="#af5" opacity=".40"/>
<rect x="986.8" y="957.8" fill="#00e" opacity=".11"/>
<rect x="989.8" y="957.8" fill="#00d" opacity=".37"/>
<rect x="992.8" y="957.8" fill="#00e" opacity=".45"/>
<rect x="995.9" y="957.8" fill="#00e" opacity=".55"/>
<rect x="998.9" y="957.8" fill="#00d" opacity=".75"/>
<rect x="1001.9" y="957.8" fill="#00c" opacity=".64"/>
<rect x="1004.9" y="957.8" fill="#00c" opacity=".77"/>
<rect x="1007.9" y="957.8" fill="#00c" opacity=".82"/>
<rect x="1010.9" y="957.8" fill="#00d" opacity=".76"/>
<rect x="1013.9" y="957.8" fill="#00d" opacity=".65"/>
<rect x="1016.9" y="957.8" fill="#00e" opacity=".67"/>
<rect x="1020.0" y="957.8" fill="#00e" opacity=".69"/>
<rect x="1023.0" y="957.8" fill="#00f" opacity=".67"/>
<rect x="1026.0" y="957.8" fill="#00f" opacity=".66"/>
<rect x="1029.0" y="957.8" fill="#00f" opacity=".50"/>
<rect x="1032.0" y="957.8" fill="#02f" opacity=".55"/>
<rect x="1035.0" y="957.8" fill="#02f" opacity=".54"/>
<rect x="1038.0" y="957.8" fill="#02f" opacity=".54"/>
<rect x="1041.0" y="957.8" fill="#02f" opacity=".41"/>
<rect x="1044.0" y="957.8" fill="#03f" opacity=".43"/>
<rect x="1047.1" y="957.8" fill="#03f" opacity=".42"/>
<rect x="1050.1" y="957.8" fill="#05f" opacity=".44"/>
<rect x="1053.1" y="957.8" fill="#05f" opacity=".41"/>
<rect x="1056.1" y="957.8" fill="#05f" opacity=".38"/>
<rect x="1059.1" y="957.8" fill="#06f" opacity=".40"/>
<rect x="1062.1" y="957.8" fill="#06f" opacity=".44"/>
<rect x="1065.1" y="957.8" fill="#07f" opacity=".50"/>
<rect x="1068.1" y="957.8" fill="#07f" opacity=".43"/>
<rect x="1071.2" y="957.8" fill="#08f" opacity=".51"/>
<rect x="1074.2" y="957.8" fill="#08f" opacity=".54"/>
<rect x="1077.2" y="957.8" fill="#08f" opacity=".61"/>
<rect x="1080.2" y="957.8" fill="#09f" opacity=".56"/>
<rect x="1083.2" y="957.8" fill="#0bf" opacity=".67"/>
<rect x="1086.2" y="957.8" fill="#0df" opacity=".65"/>
<rect x="1089.2" y="957.8" fill="#1ee" opacity=".73"/>
<rect x="1092.2" y="957.8" fill="#2fd" opacity=".78"/>
<rect x="1095.2" y="957.8" fill="#3fc" opacity=".68"/>
<rect x="1098.3" y="957.8" fill="#5fa" opacity=".79"/>
<rect x="1101.3" y="957.8" fill="#5f9" opacity=".89"/>
<rect x="1104.3" y="957.8" fill="#6f8" opacity=".85"/>
<rect x="1107.3" y="957.8" fill="#8f6" opacity=".69"/>
<rect x="1110.3" y="957.8" fill="#9f5" opacity=".35"/>
<rect x="986.8" y="954.8" fill="#00e" opacity=".11"/>
<rect x="989.8" y="954.8" fill="#00e" opacity=".36"/>
<rect x="992.8" y="954.8" fill="#00d" opacity=".45"/>
<rect x="995.9" y="954.8" fill="#00c" opacity=".52"/>
<rect x="998.9" y="954.8" fill="#00c" opacity=".60"/>
<rect x="1001.9" y="954.8" fill="#00c" opacity=".82"/>
<rect x="1004.9" y="954.8" fill="#00c" opacity=".72"/>
<rect x="1007.9" y="954.8" fill="#00b" opacity=".62"/>
<rect x="1010.9" y="954.8" fill="#00b" opacity=".69"/>
<rect x="1013.9" y="954.8" fill="#00c" opacity=".72"/>
<rect x="1016.9" y="954.8" fill="#00c" opacity=".66"/>
<rect x="1020.0" y="954.8" fill="#00d" opacity=".62"/>
<rect x="1023.0" y="954.8" fill="#00e" opacity=".56"/>
<rect x="1026.0" y="954.8" fill="#00f" opacity=".55"/>
<rect x="1029.0" y="954.8" fill="#00f" opacity=".61"/>
<rect x="1032.0" y="954.8" fill="#00f" opacity=".52"/>
<rect x="1035.0" y="954.8" fill="#01f" opacity=".42"/>
<rect x="1038.0" y="954.8" fill="#02f" opacity=".41"/>
<rect x="1041.0" y="954.8" fill="#02f" opacity=".42"/>
<rect x="1044.0" y="954.8" fill="#03f" opacity=".40"/>
<rect x="1047.1" y="954.8" fill="#03f" opacity=".36"/>
<rect x="1050.1" y="954.8" fill="#03f" opacity=".32"/>
<rect x="1053.1" y="954.8" fill="#04f" opacity=".33"/>
<rect x="1056.1" y="954.8" fill="#05f" opacity=".36"/>
<rect x="1059.1" y="954.8" fill="#05f" opacity=".37"/>
<rect x="1062.1" y="954.8" fill="#06f" opacity=".36"/>
<rect x="1065.1" y="954.8" fill="#06f" opacity=".37"/>
<rect x="1068.1" y="954.8" fill="#07f" opacity=".43"/>
<rect x="1071.2" y="954.8" fill="#07f" opacity=".47"/>
<rect x="1074.2" y="954.8" fill="#08f" opacity=".48"/>
<rect x="1077.2" y="954.8" fill="#09f" opacity=".51"/>
<rect x="1080.2" y="954.8" fill="#0af" opacity=".58"/>
<rect x="1083.2" y="954.8" fill="#0bf" opacity=".59"/>
<rect x="1086.2" y="954.8" fill="#0cf" opacity=".65"/>
<rect x="1089.2" y="954.8" fill="#0ee" opacity=".68"/>
<rect x="1092.2" y="954.8" fill="#2fd" opacity=".69"/>
<rect x="1095.2" y="954.8" fill="#4fb" opacity=".79"/>
<rect x="1098.3" y="954.8" fill="#4fa" opacity=".78"/>
<rect x="1101.3" y="954.8" fill="#6f9" opacity=".70"/>
<rect x="1104.3" y="954.8" fill="#7f7" opacity=".82"/>
<rect x="1107.3" y="954.8" fill="#8f7" opacity=".87"/>
<rect x="1110.3" y="954.8" fill="#9f6" opacity=".11"/>
<rect x="986.8" y="951.8" fill="#00d" opacity=".11"/>
<rect x="989.8" y="951.8" fill="#00d" opacity=".36"/>
<rect x="992.8" y="951.8" fill="#00d" opacity=".37"/>
<rect x="995.9" y="951.8" fill="#00c" opacity=".57"/>
<rect x="998.9" y="951.8" fill="#00c" opacity=".65"/>
<rect x="1001.9" y="951.8" fill="#00a" opacity=".65"/>
<rect x="1004.9" y="951.8" fill="#009" opacity=".60"/>
<rect x="1007.9" y="951.8" fill="#00a" opacity=".67"/>
<rect x="1010.9" y="951.8" fill="#00a" opacity=".63"/>
<rect x="1013.9" y="951.8" fill="#00a" opacity=".66"/>
<rect x="1016.9" y="951.8" fill="#00c" opacity=".61"/>
<rect x="1020.0" y="951.8" fill="#00d" opacity=".54"/>
<rect x="1023.0" y="951.8" fill="#00c" opacity=".59"/>
<rect x="1026.0" y="951.8" fill="#00f" opacity=".56"/>
<rect x="1029.0" y="951.8" fill="#00f" opacity=".54"/>
<rect x="1032.0" y="951.8" fill="#00f" opacity=".47"/>
<rect x="1035.0" y="951.8" fill="#01f" opacity=".46"/>
<rect x="1038.0" y="951.8" fill="#01f" opacity=".38"/>
<rect x="1041.0" y="951.8" fill="#02f" opacity=".39"/>
<rect x="1044.0" y="951.8" fill="#02f" opacity=".36"/>
<rect x="1047.1" y="951.8" fill="#03f" opacity=".35"/>
<rect x="1050.1" y="951.8" fill="#04f" opacity=".32"/>
<rect x="1053.1" y="951.8" fill="#04f" opacity=".30"/>
<rect x="1056.1" y="951.8" fill="#05f" opacity=".31"/>
<rect x="1059.1" y="951.8" fill="#05f" opacity=".34"/>
<rect x="1062.1" y="951.8" fill="#05f" opacity=".37"/>
<rect x="1065.1" y="951.8" fill="#07f" opacity=".35"/>
<rect x="1068.1" y="951.8" fill="#07f" opacity=".38"/>
<rect x="1071.2" y="951.8" fill="#07f" opacity=".40"/>
<rect x="1074.2" y="951.8" fill="#08f" opacity=".53"/>
<rect x="1077.2" y="951.8" fill="#08f" opacity=".53"/>
<rect x="1080.2" y="951.8" fill="#09f" opacity=".52"/>
<rect x="1083.2" y="951.8" fill="#0cf" opacity=".54"/>
<rect x="1086.2" y="951.8" fill="#0df" opacity=".65"/>
<rect x="1089.2" y="951.8" fill="#1fd" opacity=".72"/>
<rect x="1092.2" y="951.8" fill="#2fc" opacity=".76"/>
<rect x="1095.2" y="951.8" fill="#3fc" opacity=".69"/>
<rect x="1098.3" y="951.8" fill="#5fa" opacity=".65"/>
<rect x="1101.3" y="951.8" fill="#6f9" opacity=".89"/>
<rect x="1104.3" y="951.8" fill="#7f7" opacity=".86"/>
<rect x="1107.3" y="951.8" fill="#8f6" opacity=".45"/>
<rect x="986.8" y="948.7" fill="#00d" opacity=".11"/>
<rect x="989.8" y="948.7" fill="#00e" opacity=".34"/>
<rect x="992.8" y="948.7" fill="#00c" opacity=".43"/>
<rect x="995.9" y="948.7" fill="#00c" opacity=".43"/>
<rect x="998.9" y="948.7" fill="#00a" opacity=".61"/>
<rect x="1001.9" y="948.7" fill="#00a" opacity=".59"/>
<rect x="1004.9" y="948.7" fill="#009" opacity=".60"/>
<rect x="1007.9" y="948.7" fill="#009" opacity=".56"/>
<rect x="1010.9" y="948.7" fill="#00a" opacity=".60"/>
<rect x="1013.9" y="948.7" fill="#009" opacity=".56"/>
<rect x="1016.9" y="948.7" fill="#00a" opacity=".59"/>
<rect x="1020.0" y="948.7" fill="#00c" opacity=".58"/>
<rect x="1023.0" y="948.7" fill="#00e" opacity=".51"/>
<rect x="1026.0" y="948.7" fill="#00e" opacity=".60"/>
<rect x="1029.0" y="948.7" fill="#00f" opacity=".52"/>
<rect x="1032.0" y="948.7" fill="#00f" opacity=".51"/>
<rect x="1035.0" y="948.7" fill="#00f" opacity=".43"/>
<rect x="1038.0" y="948.7" fill="#02f" opacity=".45"/>
<rect x="1041.0" y="948.7" fill="#01f" opacity=".37"/>
<rect x="1044.0" y="948.7" fill="#03f" opacity=".41"/>
<rect x="1047.1" y="948.7" fill="#03f" opacity=".35"/>
<rect x="1050.1" y="948.7" fill="#03f" opacity=".33"/>
<rect x="1053.1" y="948.7" fill="#03f" opacity=".34"/>
<rect x="1056.1" y="948.7" fill="#04f" opacity=".34"/>
<rect x="1059.1" y="948.7" fill="#05f" opacity=".36"/>
<rect x="1062.1" y="948.7" fill="#06f" opacity=".36"/>
<rect x="1065.1" y="948.7" fill="#06f" opacity=".40"/>
<rect x="1068.1" y="948.7" fill="#06f" opacity=".38"/>
<rect x="1071.2" y="948.7" fill="#07f" opacity=".49"/>
<rect x="1074.2" y="948.7" fill="#08f" opacity=".46"/>
<rect x="1077.2" y="948.7" fill="#08f" opacity=".55"/>
<rect x="1080.2" y="948.7" fill="#0af" opacity=".55"/>
<rect x="1083.2" y="948.7" fill="#0cf" opacity=".61"/>
<rect x="1086.2" y="948.7" fill="#0ee" opacity=".61"/>
<rect x="1089.2" y="948.7" fill="#0ee" opacity=".73"/>
<rect x="1092.2" y="948.7" fill="#2fc" opacity=".72"/>
<rect x="1095.2" y="948.7" fill="#4fb" opacity=".70"/>
<rect x="1098.3" y="948.7" fill="#5fa" opacity=".82"/>
<rect x="1101.3" y="948.7" fill="#6f8" opacity=".72"/>
<rect x="1104.3" y="948.7" fill="#7f7" opacity=".85"/>
<rect x="1107.3" y="948.7" fill="#8f7" opacity=".16"/>
<rect x="986.8" y="945.7" fill="#00e" opacity=".11"/>
<rect x="989.8" y="945.7" fill="#00d" opacity=".35"/>
<rect x="992.8" y="945.7" fill="#00d" opacity=".38"/>
<rect x="995.9" y="945.7" fill="#00b" opacity=".46"/>
<rect x="998.9" y="945.7" fill="#00b" opacity=".42"/>
<rect x="1001.9" y="945.7" fill="#00a" opacity=".58"/>
<rect x="1004.9" y="945.7" fill="#009" opacity=".57"/>
<rect x="1007.9" y="945.7" fill="#009" opacity=".50"/>
<rect x="1010.9" y="945.7" fill="#009" opacity=".48"/>
<rect x="1013.9" y="945.7" fill="#00b" opacity=".53"/>
<rect x="1016.9" y="945.7" fill="#00b" opacity=".51"/>
<rect x="1020.0" y="945.7" fill="#00c" opacity=".57"/>
<rect x="1023.0" y="945.7" fill="#00c" opacity=".62"/>
<rect x="1026.0" y="945.7" fill="#00e" opacity=".50"/>
<rect x="1029.0" y="945.7" fill="#00f" opacity=".59"/>
<rect x="1032.0" y="945.7" fill="#00f" opacity=".54"/>
<rect x="1035.0" y="945.7" fill="#00f" opacity=".51"/>
<rect x="1038.0" y="945.7" fill="#01f" opacity=".47"/>
<rect x="1041.0" y="945.7" fill="#02f" opacity=".50"/>
<rect x="1044.0" y="945.7" fill="#01f" opacity=".39"/>
<rect x="1047.1" y="945.7" fill="#02f" opacity=".42"/>
<rect x="1050.1" y="945.7" fill="#03f" opacity=".42"/>
<rect x="1053.1" y="945.7" fill="#04f" opacity=".39"/>
<rect x="1056.1" y="945.7" fill="#04f" opacity=".42"/>
<rect x="1059.1" y="945.7" fill="#04f" opacity=".40"/>
<rect x="1062.1" y="945.7" fill="#05f" opacity=".40"/>
<rect x="1065.1" y="945.7" fill="#06f" opacity=".44"/>
<rect x="1068.1" y="945.7" fill="#07f" opacity=".54"/>
<rect x="1071.2" y="945.7" fill="#07f" opacity=".46"/>
<rect x="1074.2" y="945.7" fill="#07f" opacity=".54"/>
<rect x="1077.2" y="945.7" fill="#09f" opacity=".54"/>
<rect x="1080.2" y="945.7" fill="#0af" opacity=".63"/>
<rect x="1083.2" y="945.7" fill="#0cf" opacity=".67"/>
<rect x="1086.2" y="945.7" fill="#0df" opacity=".71"/>
<rect x="1089.2" y="945.7" fill="#2fd" opacity=".62"/>
<rect x="1092.2" y="945.7" fill="#3fc" opacity=".72"/>
<rect x="1095.2" y="945.7" fill="#4fb" opacity=".85"/>
<rect x="1098.3" y="945.7" fill="#5fa" opacity=".77"/>
<rect x="1101.3" y="945.7" fill="#6f8" opacity=".83"/>
<rect x="1104.3" y="945.7" fill="#8f7" opacity=".47"/>
<rect x="986.8" y="942.7" fill="#00e" opacity=".09"/>
<rect x="989.8" y="942.7" fill="#00d" opacity=".36"/>
<rect x="992.8" y="942.7" fill="#00d" opacity=".34"/>
<rect x="995.9" y="942.7" fill="#00c" opacity=".36"/>
<rect x="998.9" y="942.7" fill="#00a" opacity=".46"/>
<rect x="1001.9" y="942.7" fill="#00a" opacity=".41"/>
<rect x="1004.9" y="942.7" fill="#00a" opacity=".43"/>
<rect x="1007.9" y="942.7" fill="#00a" opacity=".50"/>
<rect x="1010.9" y="942.7" fill="#00a" opacity=".41"/>
<rect x="1013.9" y="942.7" fill="#00a" opacity=".39"/>
<rect x="1016.9" y="942.7" fill="#00b" opacity=".50"/>
<rect x="1020.0" y="942.7" fill="#00c" opacity=".54"/>
<rect x="1023.0" y="942.7" fill="#00d" opacity=".60"/>
<rect x="1026.0" y="942.7" fill="#00e" opacity=".66"/>
<rect x="1029.0" y="942.7" fill="#00e" opacity=".51"/>
<rect x="1032.0" y="942.7" fill="#00f" opacity=".55"/>
<rect x="1035.0" y="942.7" fill="#00f" opacity=".70"/>
<rect x="1038.0" y="942.7" fill="#00f" opacity=".59"/>
<rect x="1041.0" y="942.7" fill="#02f" opacity=".49"/>
<rect x="1044.0" y="942.7" fill="#02f" opacity=".51"/>
<rect x="1047.1" y="942.7" fill="#02f" opacity=".48"/>
<rect x="1050.1" y="942.7" fill="#03f" opacity=".52"/>
<rect x="1053.1" y="942.7" fill="#03f" opacity=".55"/>
<rect x="1056.1" y="942.7" fill="#04f" opacity=".45"/>
<rect x="1059.1" y="942.7" fill="#05f" opacity=".45"/>
<rect x="1062.1" y="942.7" fill="#05f" opacity=".55"/>
<rect x="1065.1" y="942.7" fill="#06f" opacity=".55"/>
<rect x="1068.1" y="942.7" fill="#06f" opacity=".54"/>
<rect x="1071.2" y="942.7" fill="#07f" opacity=".59"/>
<rect x="1074.2" y="942.7" fill="#08f" opacity=".57"/>
<rect x="1077.2" y="942.7" fill="#09f" opacity=".63"/>
<rect x="1080.2" y="942.7" fill="#0bf" opacity=".70"/>
<rect x="1083.2" y="942.7" fill="#0cf" opacity=".68"/>
<rect x="1086.2" y="942.7" fill="#0ee" opacity=".71"/>
<rect x="1089.2" y="942.7" fill="#2fd" opacity=".76"/>
<rect x="1092.2" y="942.7" fill="#3fc" opacity=".72"/>
<rect x="1095.2" y="942.7" fill="#4fb" opacity=".76"/>
<rect x="1098.3" y="942.7" fill="#6f8" opacity=".87"/>
<rect x="1101.3" y="942.7" fill="#7f8" opacity=".78"/>
<rect x="1104.3" y="942.7" fill="#7f8" opacity=".11"/>
<rect x="992.8" y="939.7" fill="#00d" opacity=".09"/>
<rect x="995.9" y="939.7" fill="#00d" opacity=".22"/>
<rect x="998.9" y="939.7" fill="#00b" opacity=".23"/>
<rect x="1001.9" y="939.7" fill="#00a" opacity=".32"/>
<rect x="1004.9" y="939.7" fill="#00a" opacity=".37"/>
<rect x="1007.9" y="939.7" fill="#00a" opacity=".29"/>
<rect x="1010.9" y="939.7" fill="#00b" opacity=".35"/>
<rect x="1013.9" y="939.7" fill="#00c" opacity=".39"/>
<rect x="1016.9" y="939.7" fill="#00c" opacity=".40"/>
<rect x="1020.0" y="939.7" fill="#00c" opacity=".55"/>
<rect x="1023.0" y="939.7" fill="#00e" opacity=".55"/>
<rect x="1026.0" y="939.7" fill="#00d" opacity=".56"/>
<rect x="1029.0" y="939.7" fill="#00e" opacity=".71"/>
<rect x="1032.0" y="939.7" fill="#00f" opacity=".73"/>
<rect x="1035.0" y="939.7" fill="#00f" opacity=".54"/>
<rect x="1038.0" y="939.7" fill="#00f" opacity=".71"/>
<rect x="1041.0" y="939.7" fill="#00f" opacity=".65"/>
<rect x="1044.0" y="939.7" fill="#01f" opacity=".60"/>
<rect x="1047.1" y="939.7" fill="#02f" opacity=".61"/>
<rect x="1050.1" y="939.7" fill="#03f" opacity=".59"/>
<rect x="1053.1" y="939.7" fill="#03f" opacity=".57"/>
<rect x="1056.1" y="939.7" fill="#03f" opacity=".67"/>
<rect x="1059.1" y="939.7" fill="#05f" opacity=".61"/>
<rect x="1062.1" y="939.7" fill="#05f" opacity=".51"/>
<rect x="1065.1" y="939.7" fill="#05f" opacity=".68"/>
<rect x="1068.1" y="939.7" fill="#06f" opacity=".67"/>
<rect x="1071.2" y="939.7" fill="#07f" opacity=".68"/>
<rect x="1074.2" y="939.7" fill="#08f" opacity=".63"/>
<rect x="1077.2" y="939.7" fill="#09f" opacity=".68"/>
<rect x="1080.2" y="939.7" fill="#0bf" opacity=".70"/>
<rect x="1083.2" y="939.7" fill="#0cf" opacity=".88"/>
<rect x="1086.2" y="939.7" fill="#1fe" opacity=".73"/>
<rect x="1089.2" y="939.7" fill="#2fc" opacity=".69"/>
<rect x="1092.2" y="939.7" fill="#3fb" opacity=".81"/>
<rect x="1095.2" y="939.7" fill="#5fa" opacity=".86"/>
<rect x="1098.3" y="939.7" fill="#6f9" opacity=".89"/>
<rect x="1101.3" y="939.7" fill="#7f8" opacity=".26"/>
<rect x="992.8" y="936.7" fill="#00d" opacity=".07"/>
<rect x="995.9" y="936.7" fill="#00b" opacity=".22"/>
<rect x="998.9" y="936.7" fill="#00c" opacity=".24"/>
<rect x="1001.9" y="936.7" fill="#00b" opacity=".24"/>
<rect x="1004.9" y="936.7" fill="#00a" opacity=".23"/>
<rect x="1007.9" y="936.7" fill="#00b" opacity=".30"/>
<rect x="1010.9" y="936.7" fill="#00a" opacity=".26"/>
<rect x="1013.9" y="936.7" fill="#00c" opacity=".30"/>
<rect x="1016.9" y="936.7" fill="#00d" opacity=".40"/>
<rect x="1020.0" y="936.7" fill="#00d" opacity=".40"/>
<rect x="1023.0" y="936.7" fill="#00d" opacity=".58"/>
<rect x="1026.0" y="936.7" fill="#00e" opacity=".69"/>
<rect x="1029.0" y="936.7" fill="#00e" opacity=".65"/>
<rect x="1032.0" y="936.7" fill="#00f" opacity=".65"/>
<rect x="1035.0" y="936.7" fill="#00f" opacity=".89"/>
<rect x="1038.0" y="936.7" fill="#00f" opacity=".61"/>
<rect x="1041.0" y="936.7" fill="#02f" opacity=".74"/>
<rect x="1044.0" y="936.7" fill="#01f" opacity=".73"/>
<rect x="1047.1" y="936.7" fill="#01f" opacity=".69"/>
<rect x="1050.1" y="936.7" fill="#02f" opacity=".71"/>
<rect x="1053.1" y="936.7" fill="#03f" opacity=".71"/>
<rect x="1056.1" y="936.7" fill="#04f" opacity=".61"/>
<rect x="1059.1" y="936.7" fill="#04f" opacity=".71"/>
<rect x="1062.1" y="936.7" fill="#05f" opacity=".86"/>
<rect x="1065.1" y="936.7" fill="#05f" opacity=".61"/>
<rect x="1068.1" y="936.7" fill="#06f" opacity=".72"/>
<rect x="1071.2" y="936.7" fill="#06f" opacity=".69"/>
<rect x="1074.2" y="936.7" fill="#08f" opacity=".82"/>
<rect x="1077.2" y="936.7" fill="#0af" opacity=".80"/>
<rect x="1080.2" y="936.7" fill="#0cf" opacity=".80"/>
<rect x="1083.2" y="936.7" fill="#0df" opacity=".62"/>
<rect x="1086.2" y="936.7" fill="#1ee" opacity=".88"/>
<rect x="1089.2" y="936.7" fill="#3fc" opacity=".93"/>
<rect x="1092.2" y="936.7" fill="#4fb" opacity=".79"/>
<rect x="1095.2" y="936.7" fill="#5fa" opacity=".81"/>
<rect x="1098.3" y="936.7" fill="#6f8" opacity=".44"/>
<rect x="992.8" y="933.7" fill="#00c" opacity=".08"/>
<rect x="995.9" y="933.7" fill="#00c" opacity=".17"/>
<rect x="998.9" y="933.7" fill="#00b" opacity=".19"/>
<rect x="1001.9" y="933.7" fill="#00a" opacity=".23"/>
<rect x="1004.9" y="933.7" fill="#00a" opacity=".22"/>
<rect x="1007.9" y="933.7" fill="#00a" opacity=".17"/>
<rect x="1010.9" y="933.7" fill="#00b" opacity=".22"/>
<rect x="1013.9" y="933.7" fill="#00b" opacity=".26"/>
<rect x="1016.9" y="933.7" fill="#00d" opacity=".32"/>
<rect x="1020.0" y="933.7" fill="#00d" opacity=".45"/>
<rect x="1023.0" y="933.7" fill="#00e" opacity=".47"/>
<rect x="1026.0" y="933.7" fill="#00e" opacity=".62"/>
<rect x="1029.0" y="933.7" fill="#00e" opacity=".84"/>
<rect x="1032.0" y="933.7" fill="#00e" opacity=".81"/>
<rect x="1035.0" y="933.7" fill="#00f" opacity=".61"/>
<rect x="1038.0" y="933.7" fill="#00f" opacity=".83"/>
<rect x="1041.0" y="933.7" fill="#00f" opacity=".75"/>
<rect x="1044.0" y="933.7" fill="#01f" opacity=".85"/>
<rect x="1047.1" y="933.7" fill="#02f" opacity=".84"/>
<rect x="1050.1" y="933.7" fill="#02f" opacity=".67"/>
<rect x="1053.1" y="933.7" fill="#03f" opacity=".68"/>
<rect x="1056.1" y="933.7" fill="#03f" opacity=".90"/>
<rect x="1059.1" y="933.7" fill="#04f" opacity=".81"/>
<rect x="1062.1" y="933.7" fill="#04f" opacity=".70"/>
<rect x="1065.1" y="933.7" fill="#05f" opacity=".84"/>
<rect x="1068.1" y="933.7" fill="#05f" opacity=".68"/>
<rect x="1071.2" y="933.7" fill="#08f" opacity=".84"/>
<rect x="1074.2" y="933.7" fill="#09f" opacity=".87"/>
<rect x="1077.2" y="933.7" fill="#0af" opacity=".79"/>
<rect x="1080.2" y="933.7" fill="#0cf" opacity=".74"/>
<rect x="1083.2" y="933.7" fill="#0ee" opacity=".92"/>
<rect x="1086.2" y="933.7" fill="#2fd" opacity=".74"/>
<rect x="1089.2" y="933.7" fill="#2fc" opacity=".86"/>
<rect x="1092.2" y="933.7" fill="#4fa" opacity=".98"/>
<rect x="1095.2" y="933.7" fill="#5f9" opacity=".65"/>
<rect x="1098.3" y="933.7" fill="#6f9" opacity=".08"/>
<rect x="992.8" y="930.7" fill="#00d" opacity=".06"/>
<rect x="995.9" y="930.7" fill="#00b" opacity=".16"/>
<rect x="998.9" y="930.7" fill="#00b" opacity=".18"/>
<rect x="1001.9" y="930.7" fill="#00a" opacity=".18"/>
<rect x="1004.9" y="930.7" fill="#00a" opacity=".18"/>
<rect x="1007.9" y="930.7" fill="#00a" opacity=".17"/>
<rect x="1010.9" y="930.7" fill="#00b" opacity=".17"/>
<rect x="1013.9" y="930.7" fill="#00c" opacity=".22"/>
<rect x="1016.9" y="930.7" fill="#00d" opacity=".31"/>
<rect x="1020.0" y="930.7" fill="#00d" opacity=".38"/>
<rect x="1023.0" y="930.7" fill="#00d" opacity=".55"/>
<rect x="1026.0" y="930.7" fill="#00e" opacity=".67"/>
<rect x="1029.0" y="930.7" fill="#00e" opacity=".68"/>
<rect x="1032.0" y="930.7" fill="#00e" opacity=".82"/>
<rect x="1035.0" y="930.7" fill="#00f" opacity=".83"/>
<rect x="1038.0" y="930.7" fill="#00f" opacity=".73"/>
<rect x="1041.0" y="930.7" fill="#00f" opacity=".87"/>
<rect x="1044.0" y="930.7" fill="#00f" opacity=".85"/>
<rect x="1047.1" y="930.7" fill="#01f" opacity=".75"/>
<rect x="1050.1" y="930.7" fill="#01f" opacity=".87"/>
<rect x="1053.1" y="930.7" fill="#02f" opacity=".82"/>
<rect x="1056.1" y="930.7" fill="#03f" opacity=".73"/>
<rect x="1059.1" y="930.7" fill="#03f" opacity=".91"/>
<rect x="1062.1" y="930.7" fill="#04f" opacity=".86"/>
<rect x="1065.1" y="930.7" fill="#04f" opacity=".73"/>
<rect x="1068.1" y="930.7" fill="#06f" opacity=".87"/>
<rect x="1071.2" y="930.7" fill="#08f" opacity=".83"/>
<rect x="1074.2" y="930.7" fill="#0af" opacity=".77"/>
<rect x="1077.2" y="930.7" fill="#0bf" opacity=".95"/>
<rect x="1080.2" y="930.7" fill="#0cf" opacity=".83"/>
<rect x="1083.2" y="930.7" fill="#1fe" opacity=".72"/>
<rect x="1086.2" y="930.7" fill="#2fd" opacity=".95"/>
<rect x="1089.2" y="930.7" fill="#3fc" opacity=".89"/>
<rect x="1092.2" y="930.7" fill="#5fa" opacity=".73"/>
<rect x="1095.2" y="930.7" fill="#5f9" opacity=".14"/>
<rect x="992.8" y="927.7" fill="#00d" opacity=".06"/>
<rect x="995.9" y="927.7" fill="#00b" opacity=".15"/>
<rect x="998.9" y="927.7" fill="#00b" opacity=".15"/>
<rect x="1001.9" y="927.7" fill="#00a" opacity=".18"/>
<rect x="1004.9" y="927.7" fill="#00a" opacity=".17"/>
<rect x="1007.9" y="927.7" fill="#00a" opacity=".17"/>
<rect x="1010.9" y="927.7" fill="#00a" opacity=".17"/>
<rect x="1013.9" y="927.7" fill="#00b" opacity=".20"/>
<rect x="1016.9" y="927.7" fill="#00d" opacity=".29"/>
<rect x="1020.0" y="927.7" fill="#00d" opacity=".43"/>
<rect x="1023.0" y="927.7" fill="#00d" opacity=".55"/>
<rect x="1026.0" y="927.7" fill="#00e" opacity=".62"/>
<rect x="1029.0" y="927.7" fill="#00f" opacity=".75"/>
<rect x="1032.0" y="927.7" fill="#00e" opacity=".69"/>
<rect x="1035.0" y="927.7" fill="#00e" opacity=".93"/>
<rect x="1038.0" y="927.7" fill="#00e" opacity=".90"/>
<rect x="1041.0" y="927.7" fill="#00f" opacity=".80"/>
<rect x="1044.0" y="927.7" fill="#00f" opacity=".75"/>
<rect x="1047.1" y="927.7" fill="#00f" opacity=".92"/>
<rect x="1050.1" y="927.7" fill="#01f" opacity=".82"/>
<rect x="1053.1" y="927.7" fill="#02f" opacity=".88"/>
<rect x="1056.1" y="927.7" fill="#02f" opacity=".89"/>
<rect x="1059.1" y="927.7" fill="#02f" opacity=".72"/>
<rect x="1062.1" y="927.7" fill="#03f" opacity=".87"/>
<rect x="1065.1" y="927.7" fill="#05f" opacity=".93"/>
<rect x="1068.1" y="927.7" fill="#07f" opacity=".84"/>
<rect x="1071.2" y="927.7" fill="#08f" opacity=".78"/>
<rect x="1074.2" y="927.7" fill="#0af" opacity=".96"/>
<rect x="1077.2" y="927.7" fill="#0cf" opacity=".73"/>
<rect x="1080.2" y="927.7" fill="#0df" opacity=".91"/>
<rect x="1083.2" y="927.7" fill="#1ee" opacity=".95"/>
<rect x="1086.2" y="927.7" fill="#2fd" opacity=".80"/>
<rect x="1089.2" y="927.7" fill="#4fb" opacity=".80"/>
<rect x="1092.2" y="927.7" fill="#4fa" opacity=".19"/>
<rect x="992.8" y="924.6" fill="#00c" opacity=".07"/>
<rect x="995.9" y="924.6" fill="#00c" opacity=".13"/>
<rect x="998.9" y="924.6" fill="#00a" opacity=".15"/>
<rect x="1001.9" y="924.6" fill="#00a" opacity=".19"/>
<rect x="1004.9" y="924.6" fill="#00a" opacity=".22"/>
<rect x="1007.9" y="924.6" fill="#00a" opacity=".18"/>
<rect x="1010.9" y="924.6" fill="#00b" opacity=".18"/>
<rect x="1013.9" y="924.6" fill="#00c" opacity=".23"/>
<rect x="1016.9" y="924.6" fill="#00c" opacity=".31"/>
<rect x="1020.0" y="924.6" fill="#00d" opacity=".46"/>
<rect x="1023.0" y="924.6" fill="#00e" opacity=".55"/>
<rect x="1026.0" y="924.6" fill="#00e" opacity=".67"/>
<rect x="1029.0" y="924.6" fill="#00e" opacity=".68"/>
<rect x="1032.0" y="924.6" fill="#00f" opacity=".90"/>
<rect x="1035.0" y="924.6" fill="#00f" opacity=".77"/>
<rect x="1038.0" y="924.6" fill="#00f" opacity=".93"/>
<rect x="1041.0" y="924.6" fill="#00e" opacity=".85"/>
<rect x="1044.0" y="924.6" fill="#00f" opacity=".87"/>
<rect x="1047.1" y="924.6" fill="#00f" opacity=".75"/>
<rect x="1050.1" y="924.6" fill="#01f" opacity=".92"/>
<rect x="1053.1" y="924.6" fill="#01f" opacity=".92"/>
<rect x="1056.1" y="924.6" fill="#01f" opacity=".84"/>
<rect x="1059.1" y="924.6" fill="#03f" opacity=".87"/>
<rect x="1062.1" y="924.6" fill="#04f" opacity=".74"/>
<rect x="1065.1" y="924.6" fill="#05f" opacity=".89"/>
<rect x="1068.1" y="924.6" fill="#07f" opacity=".95"/>
<rect x="1071.2" y="924.6" fill="#09f" opacity=".97"/>
<rect x="1074.2" y="924.6" fill="#0af" opacity=".65"/>
<rect x="1077.2" y="924.6" fill="#0bf" opacity=".90"/>
<rect x="1080.2" y="924.6" fill="#0df" opacity=".89"/>
<rect x="1083.2" y="924.6" fill="#1ee" opacity=".96"/>
<rect x="1086.2" y="924.6" fill="#3fc" opacity=".87"/>
<rect x="1089.2" y="924.6" fill="#3fb" opacity=".22"/>
<rect x="992.8" y="921.6" fill="#00d" opacity=".06"/>
<rect x="995.9" y="921.6" fill="#00c" opacity=".16"/>
<rect x="998.9" y="921.6" fill="#00b" opacity=".17"/>
<rect x="1001.9" y="921.6" fill="#00b" opacity=".20"/>
<rect x="1004.9" y="921.6" fill="#00b" opacity=".23"/>
<rect x="1007.9" y="921.6" fill="#00b" opacity=".27"/>
<rect x="1010.9" y="921.6" fill="#00b" opacity=".26"/>
<rect x="1013.9" y="921.6" fill="#00c" opacity=".31"/>
<rect x="1016.9" y="921.6" fill="#00d" opacity=".40"/>
<rect x="1020.0" y="921.6" fill="#00e" opacity=".51"/>
<rect x="1023.0" y="921.6" fill="#00e" opacity=".70"/>
<rect x="1026.0" y="921.6" fill="#00e" opacity=".73"/>
<rect x="1029.0" y="921.6" fill="#00e" opacity=".77"/>
<rect x="1032.0" y="921.6" fill="#00e" opacity=".79"/>
<rect x="1035.0" y="921.6" fill="#00e" opacity=".99"/>
<rect x="1038.0" y="921.6" fill="#00e" opacity=".88"/>
<rect x="1041.0" y="921.6" fill="#00f" opacity=".88"/>
<rect x="1044.0" y="921.6" fill="#00e" opacity=".79"/>
<rect x="1047.1" y="921.6" fill="#00f" opacity=".93"/>
<rect x="1050.1" y="921.6" fill="#00f" opacity=".94"/>
<rect x="1053.1" y="921.6" fill="#00f" opacity=".87"/>
<rect x="1056.1" y="921.6" fill="#01f" opacity=".82"/>
<rect x="1059.1" y="921.6" fill="#03f" opacity=".82"/>
<rect x="1062.1" y="921.6" fill="#04f" opacity=".94"/>
<rect x="1065.1" y="921.6" fill="#05f" opacity=".88"/>
<rect x="1068.1" y="921.6" fill="#08f" opacity=".86"/>
<rect x="1071.2" y="921.6" fill="#08f" opacity=".75"/>
<rect x="1074.2" y="921.6" fill="#0af" opacity=".98"/>
<rect x="1077.2" y="921.6" fill="#0cf" opacity=".85"/>
<rect x="1080.2" y="921.6" fill="#0ee" opacity=".85"/>
<rect x="1083.2" y="921.6" fill="#1fd" opacity=".82"/>
<rect x="1086.2" y="921.6" fill="#2fc" opacity=".30"/>
<rect x="992.8" y="918.6" fill="#00d" opacity=".09"/>
<rect x="995.9" y="918.6" fill="#00e" opacity=".20"/>
<rect x="998.9" y="918.6" fill="#00c" opacity=".26"/>
<rect x="1001.9" y="918.6" fill="#00c" opacity=".35"/>
<rect x="1004.9" y="918.6" fill="#00c" opacity=".37"/>
<rect x="1007.9" y="918.6" fill="#00c" opacity=".40"/>
<rect x="1010.9" y="918.6" fill="#00d" opacity=".45"/>
<rect x="1013.9" y="918.6" fill="#00d" opacity=".52"/>
<rect x="1016.9" y="918.6" fill="#00d" opacity=".62"/>
<rect x="1020.0" y="918.6" fill="#00e" opacity=".67"/>
<rect x="1023.0" y="918.6" fill="#00e" opacity=".68"/>
<rect x="1026.0" y="918.6" fill="#00e" opacity=".84"/>
<rect x="1029.0" y="918.6" fill="#00f" opacity=".96"/>
<rect x="1032.0" y="918.6" fill="#00f" opacity=".90"/>
<rect x="1035.0" y="918.6" fill="#00e" opacity=".87"/>
<rect x="1038.0" y="918.6" fill="#00f" opacity=".88"/>
<rect x="1041.0" y="918.6" fill="#00e" opacity=".93"/>
<rect x="1044.0" y="918.6" fill="#00e" opacity="1"/>
<rect x="1047.1" y="918.6" fill="#00e" opacity=".93"/>
<rect x="1050.1" y="918.6" fill="#00f" opacity=".81"/>
<rect x="1053.1" y="918.6" fill="#01f" opacity=".90"/>
<rect x="1056.1" y="918.6" fill="#02f" opacity=".97"/>
<rect x="1059.1" y="918.6" fill="#03f" opacity=".89"/>
<rect x="1062.1" y="918.6" fill="#05f" opacity=".86"/>
<rect x="1065.1" y="918.6" fill="#07f" opacity=".80"/>
<rect x="1068.1" y="918.6" fill="#08f" opacity=".84"/>
<rect x="1071.2" y="918.6" fill="#0af" opacity=".96"/>
<rect x="1074.2" y="918.6" fill="#0bf" opacity=".86"/>
<rect x="1077.2" y="918.6" fill="#0df" opacity=".79"/>
<rect x="1080.2" y="918.6" fill="#1fe" opacity=".87"/>
<rect x="1083.2" y="918.6" fill="#1fd" opacity=".15"/>
<rect x="986.8" y="915.6" fill="#00e" opacity=".03"/>
<rect x="989.8" y="915.6" fill="#00e" opacity=".07"/>
<rect x="992.8" y="915.6" fill="#00e" opacity=".21"/>
<rect x="995.9" y="915.6" fill="#00d" opacity=".42"/>
<rect x="998.9" y="915.6" fill="#00d" opacity=".49"/>
<rect x="1001.9" y="915.6" fill="#00d" opacity=".49"/>
<rect x="1004.9" y="915.6" fill="#00d" opacity=".62"/>
<rect x="1007.9" y="915.6" fill="#00d" opacity=".61"/>
<rect x="1010.9" y="915.6" fill="#00d" opacity=".72"/>
<rect x="1013.9" y="915.6" fill="#00d" opacity=".78"/>
<rect x="1016.9" y="915.6" fill="#00e" opacity=".74"/>
<rect x="1020.0" y="915.6" fill="#00e" opacity=".80"/>
<rect x="1023.0" y="915.6" fill="#00f" opacity=".90"/>
<rect x="1026.0" y="915.6" fill="#00f" opacity=".93"/>
<rect x="1029.0" y="915.6" fill="#00e" opacity=".92"/>
<rect x="1032.0" y="915.6" fill="#00e" opacity=".99"/>
<rect x="1035.0" y="915.6" fill="#00f" opacity=".90"/>
<rect x="1038.0" y="915.6" fill="#00e" opacity=".96"/>
<rect x="1041.0" y="915.6" fill="#00e" opacity=".96"/>
<rect x="1044.0" y="915.6" fill="#00f" opacity=".96"/>
<rect x="1047.1" y="915.6" fill="#00f" opacity=".96"/>
<rect x="1050.1" y="915.6" fill="#00f" opacity=".99"/>
<rect x="1053.1" y="915.6" fill="#00f" opacity=".84"/>
<rect x="1056.1" y="915.6" fill="#02f" opacity=".85"/>
<rect x="1059.1" y="915.6" fill="#05f" opacity="1"/>
<rect x="1062.1" y="915.6" fill="#06f" opacity=".85"/>
<rect x="1065.1" y="915.6" fill="#07f" opacity=".86"/>
<rect x="1068.1" y="915.6" fill="#08f" opacity=".78"/>
<rect x="1071.2" y="915.6" fill="#0af" opacity=".83"/>
<rect x="1074.2" y="915.6" fill="#0cf" opacity=".90"/>
<rect x="1077.2" y="915.6" fill="#0df" opacity=".71"/>
<rect x="1080.2" y="915.6" fill="#1ee" opacity=".03"/>
<rect x="980.8" y="912.6" fill="#00e" opacity=".04"/>
<rect x="983.8" y="912.6" fill="#00e" opacity=".11"/>
<rect x="986.8" y="912.6" fill="#00e" opacity=".17"/>
<rect x="989.8" y="912.6" fill="#00e" opacity=".33"/>
<rect x="992.8" y="912.6" fill="#00f" opacity=".39"/>
<rect x="995.9" y="912.6" fill="#00e" opacity=".60"/>
<rect x="998.9" y="912.6" fill="#00f" opacity=".71"/>
<rect x="1001.9" y="912.6" fill="#00d" opacity=".80"/>
<rect x="1004.9" y="912.6" fill="#00d" opacity=".73"/>
<rect x="1007.9" y="912.6" fill="#00e" opacity=".91"/>
<rect x="1010.9" y="912.6" fill="#00e" opacity=".85"/>
<rect x="1013.9" y="912.6" fill="#00e" opacity=".86"/>
<rect x="1016.9" y="912.6" fill="#00f" opacity=".97"/>
<rect x="1020.0" y="912.6" fill="#00f" opacity=".91"/>
<rect x="1023.0" y="912.6" fill="#00d" opacity=".92"/>
<rect x="1026.0" y="912.6" fill="#00f" opacity=".98"/>
<rect x="1029.0" y="912.6" fill="#00f" opacity=".99"/>
<rect x="1032.0" y="912.6" fill="#00f" opacity=".92"/>
<rect x="1035.0" y="912.6" fill="#00e" opacity="1"/>
<rect x="1038.0" y="912.6" fill="#00f" opacity=".95"/>
<rect x="1041.0" y="912.6" fill="#00f" opacity=".98"/>
<rect x="1044.0" y="912.6" fill="#00e" opacity=".99"/>
<rect x="1047.1" y="912.6" fill="#00e" opacity=".99"/>
<rect x="1050.1" y="912.6" fill="#00f" opacity=".91"/>
<rect x="1053.1" y="912.6" fill="#02f" opacity=".98"/>
<rect x="1056.1" y="912.6" fill="#04f" opacity=".94"/>
<rect x="1059.1" y="912.6" fill="#04f" opacity=".80"/>
<rect x="1062.1" y="912.6" fill="#06f" opacity=".99"/>
<rect x="1065.1" y="912.6" fill="#08f" opacity=".79"/>
<rect x="1068.1" y="912.6" fill="#0af" opacity=".86"/>
<rect x="1071.2" y="912.6" fill="#0bf" opacity=".88"/>
<rect x="1074.2" y="912.6" fill="#0df" opacity=".42"/>
<rect x="974.8" y="909.6" fill="#00d" opacity=".06"/>
<rect x="977.8" y="909.6" fill="#00d" opacity=".15"/>
<rect x="980.8" y="909.6" fill="#00e" opacity=".20"/>
<rect x="983.8" y="909.6" fill="#00e" opacity=".33"/>
<rect x="986.8" y="909.6" fill="#00e" opacity=".52"/>
<rect x="989.8" y="909.6" fill="#00f" opacity=".51"/>
<rect x="992.8" y="909.6" fill="#00d" opacity=".79"/>
<rect x="995.9" y="909.6" fill="#00e" opacity=".78"/>
<rect x="998.9" y="909.6" fill="#00e" opacity=".74"/>
<rect x="1001.9" y="909.6" fill="#00e" opacity=".87"/>
<rect x="1004.9" y="909.6" fill="#00e" opacity=".98"/>
<rect x="1007.9" y="909.6" fill="#00e" opacity=".85"/>
<rect x="1010.9" y="909.6" fill="#00e" opacity=".94"/>
<rect x="1013.9" y="909.6" fill="#00e" opacity=".95"/>
<rect x="1016.9" y="909.6" fill="#00e" opacity=".89"/>
<rect x="1020.0" y="909.6" fill="#00e" opacity=".98"/>
<rect x="1023.0" y="909.6" fill="#00f" opacity=".98"/>
<rect x="1026.0" y="909.6" fill="#00f" opacity=".93"/>
<rect x="1029.0" y="909.6" fill="#00f" opacity=".96"/>
<rect x="1032.0" y="909.6" fill="#00e" opacity="1"/>
<rect x="1035.0" y="909.6" fill="#00e" opacity=".94"/>
<rect x="1038.0" y="909.6" fill="#00f" opacity="1"/>
<rect x="1041.0" y="909.6" fill="#00e" opacity=".99"/>
<rect x="1044.0" y="909.6" fill="#00f" opacity=".94"/>
<rect x="1047.1" y="909.6" fill="#00f" opacity=".97"/>
<rect x="1050.1" y="909.6" fill="#00f" opacity="1"/>
<rect x="1053.1" y="909.6" fill="#02f" opacity=".92"/>
<rect x="1056.1" y="909.6" fill="#04f" opacity=".93"/>
<rect x="1059.1" y="909.6" fill="#06f" opacity=".91"/>
<rect x="1062.1" y="909.6" fill="#07f" opacity=".73"/>
<rect x="1065.1" y="909.6" fill="#09f" opacity=".97"/>
<rect x="1068.1" y="909.6" fill="#0af" opacity=".93"/>
<rect x="1071.2" y="909.6" fill="#0cf" opacity=".20"/>
<rect x="968.8" y="906.6" fill="#00d" opacity=".07"/>
<rect x="971.8" y="906.6" fill="#00d" opacity=".20"/>
<rect x="974.8" y="906.6" fill="#00e" opacity=".27"/>
<rect x="977.8" y="906.6" fill="#00e" opacity=".38"/>
<rect x="980.8" y="906.6" fill="#00e" opacity=".62"/>
<rect x="983.8" y="906.6" fill="#00e" opacity=".58"/>
<rect x="986.8" y="906.6" fill="#00e" opacity=".66"/>
<rect x="989.8" y="906.6" fill="#00d" opacity=".92"/>
<rect x="992.8" y="906.6" fill="#00f" opacity=".73"/>
<rect x="995.9" y="906.6" fill="#00e" opacity=".71"/>
<rect x="998.9" y="906.6" fill="#00f" opacity=".91"/>
<rect x="1001.9" y="906.6" fill="#00e" opacity=".77"/>
<rect x="1004.9" y="906.6" fill="#00e" opacity=".88"/>
<rect x="1007.9" y="906.6" fill="#00f" opacity=".98"/>
<rect x="1010.9" y="906.6" fill="#00e" opacity=".91"/>
<rect x="1013.9" y="906.6" fill="#00f" opacity=".89"/>
<rect x="1016.9" y="906.6" fill="#00f" opacity=".98"/>
<rect x="1020.0" y="906.6" fill="#00f" opacity=".96"/>
<rect x="1023.0" y="906.6" fill="#00e" opacity=".98"/>
<rect x="1026.0" y="906.6" fill="#00e" opacity="1"/>
<rect x="1029.0" y="906.6" fill="#00e" opacity=".90"/>
<rect x="1032.0" y="906.6" fill="#00f" opacity=".96"/>
<rect x="1035.0" y="906.6" fill="#00f" opacity="1"/>
<rect x="1038.0" y="906.6" fill="#00e" opacity=".98"/>
<rect x="1041.0" y="906.6" fill="#00f" opacity=".95"/>
<rect x="1044.0" y="906.6" fill="#00e" opacity=".98"/>
<rect x="1047.1" y="906.6" fill="#01f" opacity=".95"/>
<rect x="1050.1" y="906.6" fill="#03f" opacity=".99"/>
<rect x="1053.1" y="906.6" fill="#03f" opacity="1"/>
<rect x="1056.1" y="906.6" fill="#05f" opacity=".82"/>
<rect x="1059.1" y="906.6" fill="#07f" opacity=".82"/>
<rect x="1062.1" y="906.6" fill="#08f" opacity=".95"/>
<rect x="1065.1" y="906.6" fill="#09f" opacity=".64"/>
<rect x="1068.1" y="906.6" fill="#0bf" opacity=".04"/>
<rect x="962.7" y="903.6" fill="#00d" opacity=".09"/>
<rect x="965.7" y="903.6" fill="#00e" opacity=".20"/>
<rect x="968.8" y="903.6" fill="#00d" opacity=".35"/>
<rect x="971.8" y="903.6" fill="#00e" opacity=".39"/>
<rect x="974.8" y="903.6" fill="#00e" opacity=".73"/>
<rect x="977.8" y="903.6" fill="#00d" opacity=".82"/>
<rect x="980.8" y="903.6" fill="#00d" opacity=".60"/>
<rect x="983.8" y="903.6" fill="#00e" opacity=".78"/>
<rect x="986.8" y="903.6" fill="#00f" opacity=".77"/>
<rect x="989.8" y="903.6" fill="#00e" opacity=".76"/>
<rect x="992.8" y="903.6" fill="#00e" opacity=".82"/>
<rect x="995.9" y="903.6" fill="#00e" opacity=".78"/>
<rect x="998.9" y="903.6" fill="#00e" opacity=".59"/>
<rect x="1001.9" y="903.6" fill="#00f" opacity=".96"/>
<rect x="1004.9" y="903.6" fill="#00f" opacity=".90"/>
<rect x="1007.9" y="903.6" fill="#00e" opacity=".84"/>
<rect x="1010.9" y="903.6" fill="#00e" opacity=".94"/>
<rect x="1013.9" y="903.6" fill="#00f" opacity=".97"/>
<rect x="1016.9" y="903.6" fill="#00e" opacity=".95"/>
<rect x="1020.0" y="903.6" fill="#00e" opacity=".99"/>
<rect x="1023.0" y="903.6" fill="#00f" opacity=".96"/>
<rect x="1026.0" y="903.6" fill="#00f" opacity=".92"/>
<rect x="1029.0" y="903.6" fill="#00f" opacity="1"/>
<rect x="1032.0" y="903.6" fill="#00e" opacity=".97"/>
<rect x="1035.0" y="903.6" fill="#00e" opacity=".95"/>
<rect x="1038.0" y="903.6" fill="#00e" opacity=".98"/>
<rect x="1041.0" y="903.6" fill="#00f" opacity=".99"/>
<rect x="1044.0" y="903.6" fill="#00f" opacity=".96"/>
<rect x="1047.1" y="903.6" fill="#01f" opacity="1"/>
<rect x="1050.1" y="903.6" fill="#03f" opacity=".92"/>
<rect x="1053.1" y="903.6" fill="#05f" opacity=".92"/>
<rect x="1056.1" y="903.6" fill="#06f" opacity="1"/>
<rect x="1059.1" y="903.6" fill="#08f" opacity=".82"/>
<rect x="1062.1" y="903.6" fill="#0af" opacity=".33"/>
<rect x="953.7" y="900.6" fill="#00d" opacity=".02"/>
<rect x="956.7" y="900.6" fill="#00d" opacity=".09"/>
<rect x="959.7" y="900.6" fill="#00d" opacity=".21"/>
<rect x="962.7" y="900.6" fill="#00d" opacity=".33"/>
<rect x="965.7" y="900.6" fill="#00d" opacity=".53"/>
<rect x="968.8" y="900.6" fill="#00e" opacity=".68"/>
<rect x="971.8" y="900.6" fill="#00d" opacity=".90"/>
<rect x="974.8" y="900.6" fill="#00e" opacity=".59"/>
<rect x="977.8" y="900.6" fill="#00e" opacity=".64"/>
<rect x="980.8" y="900.6" fill="#00e" opacity=".91"/>
<rect x="983.8" y="900.6" fill="#00e" opacity=".77"/>
<rect x="986.8" y="900.6" fill="#00e" opacity=".79"/>
<rect x="989.8" y="900.6" fill="#00e" opacity=".67"/>
<rect x="992.8" y="900.6" fill="#00e" opacity=".70"/>
<rect x="995.9" y="900.6" fill="#00f" opacity=".79"/>
<rect x="998.9" y="900.6" fill="#00e" opacity=".94"/>
<rect x="1001.9" y="900.6" fill="#00f" opacity=".59"/>
<rect x="1004.9" y="900.6" fill="#00e" opacity=".82"/>
<rect x="1007.9" y="900.6" fill="#00e" opacity=".91"/>
<rect x="1010.9" y="900.6" fill="#00f" opacity=".91"/>
<rect x="1013.9" y="900.6" fill="#00f" opacity=".95"/>
<rect x="1016.9" y="900.6" fill="#00f" opacity=".96"/>
<rect x="1020.0" y="900.6" fill="#00e" opacity=".93"/>
<rect x="1023.0" y="900.6" fill="#00f" opacity=".98"/>
<rect x="1026.0" y="900.6" fill="#00e" opacity="1"/>
<rect x="1029.0" y="900.6" fill="#00e" opacity=".90"/>
<rect x="1032.0" y="900.6" fill="#00f" opacity="1"/>
<rect x="1035.0" y="900.6" fill="#00f" opacity=".98"/>
<rect x="1038.0" y="900.6" fill="#00e" opacity=".97"/>
<rect x="1041.0" y="900.6" fill="#00f" opacity=".97"/>
<rect x="1044.0" y="900.6" fill="#01f" opacity="1"/>
<rect x="1047.1" y="900.6" fill="#03f" opacity=".94"/>
<rect x="1050.1" y="900.6" fill="#05f" opacity="1"/>
<rect x="1053.1" y="900.6" fill="#06f" opacity=".93"/>
<rect x="1056.1" y="900.6" fill="#07f" opacity=".73"/>
<rect x="1059.1" y="900.6" fill="#06f" opacity=".23"/>
<rect x="1062.1" y="900.6" fill="#01f" opacity=".02"/>
<rect x="947.7" y="897.5" fill="#00c" opacity=".02"/>
<rect x="950.7" y="897.5" fill="#00d" opacity=".12"/>
<rect x="953.7" y="897.5" fill="#00c" opacity=".23"/>
<rect x="956.7" y="897.5" fill="#00c" opacity=".38"/>
<rect x="959.7" y="897.5" fill="#00d" opacity=".51"/>
<rect x="962.7" y="897.5" fill="#00d" opacity=".71"/>
<rect x="965.7" y="897.5" fill="#00d" opacity=".79"/>
<rect x="968.8" y="897.5" fill="#00d" opacity=".81"/>
<rect x="971.8" y="897.5" fill="#00e" opacity=".65"/>
<rect x="974.8" y="897.5" fill="#00d" opacity=".76"/>
<rect x="977.8" y="897.5" fill="#00d" opacity=".76"/>
<rect x="980.8" y="897.5" fill="#00e" opacity=".71"/>
<rect x="983.8" y="897.5" fill="#00e" opacity=".83"/>
<rect x="986.8" y="897.5" fill="#00e" opacity=".73"/>
<rect x="989.8" y="897.5" fill="#00d" opacity=".76"/>
<rect x="992.8" y="897.5" fill="#00e" opacity=".76"/>
<rect x="995.9" y="897.5" fill="#00e" opacity=".78"/>
<rect x="998.9" y="897.5" fill="#00e" opacity=".76"/>
<rect x="1001.9" y="897.5" fill="#00d" opacity=".95"/>
<rect x="1004.9" y="897.5" fill="#00e" opacity=".72"/>
<rect x="1007.9" y="897.5" fill="#00e" opacity=".78"/>
<rect x="1010.9" y="897.5" fill="#00e" opacity=".92"/>
<rect x="1013.9" y="897.5" fill="#00e" opacity=".93"/>
<rect x="1016.9" y="897.5" fill="#00e" opacity=".95"/>
<rect x="1020.0" y="897.5" fill="#00f" opacity=".95"/>
<rect x="1023.0" y="897.5" fill="#00f" opacity=".89"/>
<rect x="1026.0" y="897.5" fill="#00f" opacity=".94"/>
<rect x="1029.0" y="897.5" fill="#00e" opacity=".99"/>
<rect x="1032.0" y="897.5" fill="#00e" opacity=".94"/>
<rect x="1035.0" y="897.5" fill="#00e" opacity=".94"/>
<rect x="1038.0" y="897.5" fill="#00e" opacity=".96"/>
<rect x="1041.0" y="897.5" fill="#01f" opacity=".97"/>
<rect x="1044.0" y="897.5" fill="#02f" opacity=".98"/>
<rect x="1047.1" y="897.5" fill="#04f" opacity=".99"/>
<rect x="1050.1" y="897.5" fill="#04f" opacity=".82"/>
<rect x="1053.1" y="897.5" fill="#05f" opacity=".68"/>
<rect x="1056.1" y="897.5" fill="#02f" opacity=".30"/>
<rect x="1059.1" y="897.5" fill="#01f" opacity=".11"/>
<rect x="1062.1" y="897.5" fill="#02f" opacity=".02"/>
<rect x="941.7" y="894.5" fill="#00c" opacity=".02"/>
<rect x="944.7" y="894.5" fill="#00b" opacity=".11"/>
<rect x="947.7" y="894.5" fill="#00c" opacity=".26"/>
<rect x="950.7" y="894.5" fill="#00c" opacity=".40"/>
<rect x="953.7" y="894.5" fill="#00d" opacity=".59"/>
<rect x="956.7" y="894.5" fill="#00c" opacity=".79"/>
<rect x="959.7" y="894.5" fill="#00d" opacity=".71"/>
<rect x="962.7" y="894.5" fill="#00e" opacity=".72"/>
<rect x="965.7" y="894.5" fill="#00d" opacity=".74"/>
<rect x="968.8" y="894.5" fill="#00d" opacity=".77"/>
<rect x="971.8" y="894.5" fill="#00d" opacity=".75"/>
<rect x="974.8" y="894.5" fill="#00e" opacity=".72"/>
<rect x="977.8" y="894.5" fill="#00d" opacity=".73"/>
<rect x="980.8" y="894.5" fill="#00e" opacity=".79"/>
<rect x="983.8" y="894.5" fill="#00c" opacity=".83"/>
<rect x="986.8" y="894.5" fill="#00c" opacity=".82"/>
<rect x="989.8" y="894.5" fill="#00d" opacity=".82"/>
<rect x="992.8" y="894.5" fill="#00b" opacity=".82"/>
<rect x="995.9" y="894.5" fill="#00c" opacity=".91"/>
<rect x="998.9" y="894.5" fill="#00c" opacity=".85"/>
<rect x="1001.9" y="894.5" fill="#00c" opacity=".80"/>
<rect x="1004.9" y="894.5" fill="#00b" opacity=".84"/>
<rect x="1007.9" y="894.5" fill="#00b" opacity=".86"/>
<rect x="1010.9" y="894.5" fill="#00c" opacity=".84"/>
<rect x="1013.9" y="894.5" fill="#00d" opacity=".91"/>
<rect x="1016.9" y="894.5" fill="#00d" opacity=".87"/>
<rect x="1020.0" y="894.5" fill="#00d" opacity=".85"/>
<rect x="1023.0" y="894.5" fill="#00d" opacity=".93"/>
<rect x="1026.0" y="894.5" fill="#00e" opacity=".88"/>
<rect x="1029.0" y="894.5" fill="#00e" opacity=".84"/>
<rect x="1032.0" y="894.5" fill="#00d" opacity=".93"/>
<rect x="1035.0" y="894.5" fill="#00c" opacity=".95"/>
<rect x="1038.0" y="894.5" fill="#00d" opacity=".94"/>
<rect x="1041.0" y="894.5" fill="#00d" opacity=".96"/>
<rect x="1044.0" y="894.5" fill="#01d" opacity=".91"/>
<rect x="1047.1" y="894.5" fill="#02e" opacity=".84"/>
<rect x="1050.1" y="894.5" fill="#03f" opacity=".81"/>
<rect x="1053.1" y="894.5" fill="#03f" opacity=".46"/>
<rect x="1056.1" y="894.5" fill="#02f" opacity=".20"/>
<rect x="1059.1" y="894.5" fill="#01f" opacity=".10"/>
<rect x="935.6" y="891.5" fill="#00b" opacity=".02"/>
<rect x="938.6" y="891.5" fill="#00a" opacity=".10"/>
<rect x="941.7" y="891.5" fill="#00c" opacity=".26"/>
<rect x="944.7" y="891.5" fill="#00d" opacity=".47"/>
<rect x="947.7" y="891.5" fill="#00b" opacity=".63"/>
<rect x="950.7" y="891.5" fill="#00c" opacity=".68"/>
<rect x="953.7" y="891.5" fill="#00d" opacity=".77"/>
<rect x="956.7" y="891.5" fill="#00c" opacity=".65"/>
<rect x="959.7" y="891.5" fill="#00d" opacity=".89"/>
<rect x="962.7" y="891.5" fill="#00d" opacity=".74"/>
<rect x="965.7" y="891.5" fill="#00d" opacity=".71"/>
<rect x="968.8" y="891.5" fill="#00e" opacity=".68"/>
<rect x="971.8" y="891.5" fill="#00d" opacity=".82"/>
<rect x="974.8" y="891.5" fill="#00c" opacity=".80"/>
<rect x="977.8" y="891.5" fill="#00c" opacity=".86"/>
<rect x="980.8" y="891.5" fill="#00c" opacity=".84"/>
<rect x="983.8" y="891.5" fill="#00c" opacity=".75"/>
<rect x="986.8" y="891.5" fill="#00b" opacity=".85"/>
<rect x="989.8" y="891.5" fill="#00b" opacity=".80"/>
<rect x="992.8" y="891.5" fill="#00b" opacity=".83"/>
<rect x="995.9" y="891.5" fill="#00a" opacity=".65"/>
<rect x="998.9" y="891.5" fill="#00b" opacity=".71"/>
<rect x="1001.9" y="891.5" fill="#00b" opacity=".63"/>
<rect x="1004.9" y="891.5" fill="#00a" opacity=".77"/>
<rect x="1007.9" y="891.5" fill="#00b" opacity=".72"/>
<rect x="1010.9" y="891.5" fill="#00b" opacity=".72"/>
<rect x="1013.9" y="891.5" fill="#00a" opacity=".63"/>
<rect x="1016.9" y="891.5" fill="#00b" opacity=".71"/>
<rect x="1020.0" y="891.5" fill="#00b" opacity=".81"/>
<rect x="1023.0" y="891.5" fill="#00c" opacity=".74"/>
<rect x="1026.0" y="891.5" fill="#00c" opacity=".77"/>
<rect x="1029.0" y="891.5" fill="#00b" opacity=".73"/>
<rect x="1032.0" y="891.5" fill="#00a" opacity=".89"/>
<rect x="1035.0" y="891.5" fill="#00b" opacity=".91"/>
<rect x="1038.0" y="891.5" fill="#00b" opacity=".93"/>
<rect x="1041.0" y="891.5" fill="#00a" opacity=".90"/>
<rect x="1044.0" y="891.5" fill="#00b" opacity=".89"/>
<rect x="1047.1" y="891.5" fill="#01c" opacity=".76"/>
<rect x="1050.1" y="891.5" fill="#01d" opacity=".54"/>
<rect x="1053.1" y="891.5" fill="#01f" opacity=".26"/>
<rect x="1056.1" y="891.5" fill="#02f" opacity=".14"/>
<rect x="1059.1" y="891.5" fill="#02f" opacity=".06"/>
<rect x="929.6" y="888.5" fill="#00b" opacity=".02"/>
<rect x="932.6" y="888.5" fill="#00b" opacity=".10"/>
<rect x="935.6" y="888.5" fill="#00b" opacity=".25"/>
<rect x="938.6" y="888.5" fill="#00c" opacity=".45"/>
<rect x="941.7" y="888.5" fill="#00c" opacity=".58"/>
<rect x="944.7" y="888.5" fill="#00c" opacity=".75"/>
<rect x="947.7" y="888.5" fill="#00c" opacity=".80"/>
<rect x="950.7" y="888.5" fill="#00c" opacity=".76"/>
<rect x="953.7" y="888.5" fill="#00c" opacity=".60"/>
<rect x="956.7" y="888.5" fill="#00d" opacity=".83"/>
<rect x="959.7" y="888.5" fill="#00d" opacity=".70"/>
<rect x="962.7" y="888.5" fill="#00d" opacity=".87"/>
<rect x="965.7" y="888.5" fill="#00c" opacity=".73"/>
<rect x="968.8" y="888.5" fill="#00b" opacity=".72"/>
<rect x="971.8" y="888.5" fill="#00d" opacity=".72"/>
<rect x="974.8" y="888.5" fill="#00a" opacity=".87"/>
<rect x="977.8" y="888.5" fill="#00a" opacity=".77"/>
<rect x="980.8" y="888.5" fill="#00b" opacity=".63"/>
<rect x="983.8" y="888.5" fill="#00a" opacity=".64"/>
<rect x="986.8" y="888.5" fill="#00a" opacity=".56"/>
<rect x="989.8" y="888.5" fill="#009" opacity=".77"/>
<rect x="992.8" y="888.5" fill="#00a" opacity=".60"/>
<rect x="995.9" y="888.5" fill="#00b" opacity=".53"/>
<rect x="998.9" y="888.5" fill="#00b" opacity=".39"/>
<rect x="1001.9" y="888.5" fill="#009" opacity=".67"/>
<rect x="1004.9" y="888.5" fill="#00a" opacity=".54"/>
<rect x="1007.9" y="888.5" fill="#00a" opacity=".62"/>
<rect x="1010.9" y="888.5" fill="#00a" opacity=".48"/>
<rect x="1013.9" y="888.5" fill="#00b" opacity=".49"/>
<rect x="1016.9" y="888.5" fill="#00a" opacity=".60"/>
<rect x="1020.0" y="888.5" fill="#00b" opacity=".60"/>
<rect x="1023.0" y="888.5" fill="#00a" opacity=".59"/>
<rect x="1026.0" y="888.5" fill="#00a" opacity=".50"/>
<rect x="1029.0" y="888.5" fill="#00b" opacity=".73"/>
<rect x="1032.0" y="888.5" fill="#00a" opacity=".83"/>
<rect x="1035.0" y="888.5" fill="#009" opacity=".84"/>
<rect x="1038.0" y="888.5" fill="#00a" opacity=".83"/>
<rect x="1041.0" y="888.5" fill="#00a" opacity=".84"/>
<rect x="1044.0" y="888.5" fill="#009" opacity=".83"/>
<rect x="1047.1" y="888.5" fill="#00a" opacity=".74"/>
<rect x="1050.1" y="888.5" fill="#00a" opacity=".42"/>
<rect x="1053.1" y="888.5" fill="#01d" opacity=".16"/>
<rect x="1056.1" y="888.5" fill="#02f" opacity=".06"/>
<rect x="1059.1" y="888.5" fill="#01f" opacity=".02"/>
<rect x="926.6" y="885.5" fill="#00b" opacity=".11"/>
<rect x="929.6" y="885.5" fill="#00a" opacity=".25"/>
<rect x="932.6" y="885.5" fill="#00b" opacity=".47"/>
<rect x="935.6" y="885.5" fill="#00b" opacity=".57"/>
<rect x="938.6" y="885.5" fill="#00b" opacity=".63"/>
<rect x="941.7" y="885.5" fill="#00b" opacity=".79"/>
<rect x="944.7" y="885.5" fill="#00c" opacity=".78"/>
<rect x="947.7" y="885.5" fill="#00c" opacity=".69"/>
<rect x="950.7" y="885.5" fill="#00c" opacity=".69"/>
<rect x="953.7" y="885.5" fill="#00c" opacity=".78"/>
<rect x="956.7" y="885.5" fill="#00c" opacity=".72"/>
<rect x="959.7" y="885.5" fill="#00c" opacity=".85"/>
<rect x="962.7" y="885.5" fill="#00c" opacity=".65"/>
<rect x="965.7" y="885.5" fill="#00c" opacity=".65"/>
<rect x="968.8" y="885.5" fill="#00b" opacity=".71"/>
<rect x="971.8" y="885.5" fill="#009" opacity=".69"/>
<rect x="974.8" y="885.5" fill="#00b" opacity=".51"/>
<rect x="977.8" y="885.5" fill="#00a" opacity=".55"/>
<rect x="980.8" y="885.5" fill="#009" opacity=".53"/>
<rect x="983.8" y="885.5" fill="#009" opacity=".49"/>
<rect x="986.8" y="885.5" fill="#00a" opacity=".58"/>
<rect x="989.8" y="885.5" fill="#00a" opacity=".35"/>
<rect x="992.8" y="885.5" fill="#009" opacity=".44"/>
<rect x="995.9" y="885.5" fill="#009" opacity=".56"/>
<rect x="998.9" y="885.5" fill="#009" opacity=".48"/>
<rect x="1001.9" y="885.5" fill="#00b" opacity=".31"/>
<rect x="1004.9" y="885.5" fill="#009" opacity=".52"/>
<rect x="1007.9" y="885.5" fill="#008" opacity=".44"/>
<rect x="1010.9" y="885.5" fill="#00a" opacity=".49"/>
<rect x="1013.9" y="885.5" fill="#00a" opacity=".50"/>
<rect x="1016.9" y="885.5" fill="#00a" opacity=".35"/>
<rect x="1020.0" y="885.5" fill="#008" opacity=".46"/>
<rect x="1023.0" y="885.5" fill="#00a" opacity=".61"/>
<rect x="1026.0" y="885.5" fill="#00a" opacity=".46"/>
<rect x="1029.0" y="885.5" fill="#009" opacity=".71"/>
<rect x="1032.0" y="885.5" fill="#009" opacity=".79"/>
<rect x="1035.0" y="885.5" fill="#009" opacity=".79"/>
<rect x="1038.0" y="885.5" fill="#00a" opacity=".79"/>
<rect x="1041.0" y="885.5" fill="#00a" opacity=".79"/>
<rect x="1044.0" y="885.5" fill="#00a" opacity=".79"/>
<rect x="1047.1" y="885.5" fill="#009" opacity=".74"/>
<rect x="1050.1" y="885.5" fill="#00a" opacity=".38"/>
<rect x="1053.1" y="885.5" fill="#00a" opacity=".08"/>
<rect x="920.6" y="882.5" fill="#00a" opacity=".09"/>
<rect x="923.6" y="882.5" fill="#00a" opacity=".26"/>
<rect x="926.6" y="882.5" fill="#00a" opacity=".44"/>
<rect x="929.6" y="882.5" fill="#00b" opacity=".52"/>
<rect x="932.6" y="882.5" fill="#00a" opacity=".62"/>
<rect x="935.6" y="882.5" fill="#00b" opacity=".81"/>
<rect x="938.6" y="882.5" fill="#00c" opacity=".83"/>
<rect x="941.7" y="882.5" fill="#00b" opacity=".63"/>
<rect x="944.7" y="882.5" fill="#00c" opacity=".64"/>
<rect x="947.7" y="882.5" fill="#00c" opacity=".75"/>
<rect x="950.7" y="882.5" fill="#00c" opacity=".77"/>
<rect x="953.7" y="882.5" fill="#00c" opacity=".83"/>
<rect x="956.7" y="882.5" fill="#00d" opacity=".58"/>
<rect x="959.7" y="882.5" fill="#00c" opacity=".45"/>
<rect x="962.7" y="882.5" fill="#00b" opacity=".49"/>
<rect x="965.7" y="882.5" fill="#00b" opacity=".53"/>
<rect x="968.8" y="882.5" fill="#00a" opacity=".41"/>
<rect x="971.8" y="882.5" fill="#00a" opacity=".50"/>
<rect x="974.8" y="882.5" fill="#009" opacity=".47"/>
<rect x="977.8" y="882.5" fill="#009" opacity=".38"/>
<rect x="980.8" y="882.5" fill="#009" opacity=".51"/>
<rect x="983.8" y="882.5" fill="#00a" opacity=".45"/>
<rect x="986.8" y="882.5" fill="#009" opacity=".37"/>
<rect x="989.8" y="882.5" fill="#008" opacity=".51"/>
<rect x="992.8" y="882.5" fill="#00a" opacity=".46"/>
<rect x="995.9" y="882.5" fill="#00a" opacity=".28"/>
<rect x="998.9" y="882.5" fill="#009" opacity=".57"/>
<rect x="1001.9" y="882.5" fill="#009" opacity=".55"/>
<rect x="1004.9" y="882.5" fill="#00a" opacity=".34"/>
<rect x="1007.9" y="882.5" fill="#00a" opacity=".40"/>
<rect x="1010.9" y="882.5" fill="#009" opacity=".44"/>
<rect x="1013.9" y="882.5" fill="#00a" opacity=".42"/>
<rect x="1016.9" y="882.5" fill="#009" opacity=".64"/>
<rect x="1020.0" y="882.5" fill="#00a" opacity=".42"/>
<rect x="1023.0" y="882.5" fill="#009" opacity=".21"/>
<rect x="1026.0" y="882.5" fill="#009" opacity=".56"/>
<rect x="1029.0" y="882.5" fill="#009" opacity=".63"/>
<rect x="1032.0" y="882.5" fill="#00a" opacity=".78"/>
<rect x="1035.0" y="882.5" fill="#00a" opacity=".78"/>
<rect x="1038.0" y="882.5" fill="#008" opacity=".78"/>
<rect x="1041.0" y="882.5" fill="#00a" opacity=".78"/>
<rect x="1044.0" y="882.5" fill="#009" opacity=".78"/>
<rect x="1047.1" y="882.5" fill="#009" opacity=".67"/>
<rect x="1050.1" y="882.5" fill="#00a" opacity=".30"/>
<rect x="1053.1" y="882.5" fill="#009" opacity=".09"/>
<rect x="914.5" y="879.5" fill="#00a" opacity=".03"/>
<rect x="917.6" y="879.5" fill="#009" opacity=".16"/>
<rect x="920.6" y="879.5" fill="#00a" opacity=".34"/>
<rect x="923.6" y="879.5" fill="#00a" opacity=".62"/>
<rect x="926.6" y="879.5" fill="#00a" opacity=".57"/>
<rect x="929.6" y="879.5" fill="#00a" opacity=".73"/>
<rect x="932.6" y="879.5" fill="#00a" opacity=".71"/>
<rect x="935.6" y="879.5" fill="#00b" opacity=".66"/>
<rect x="938.6" y="879.5" fill="#00c" opacity=".72"/>
<rect x="941.7" y="879.5" fill="#00b" opacity=".79"/>
<rect x="944.7" y="879.5" fill="#00b" opacity=".67"/>
<rect x="947.7" y="879.5" fill="#00c" opacity=".62"/>
<rect x="950.7" y="879.5" fill="#00c" opacity=".61"/>
<rect x="953.7" y="879.5" fill="#00c" opacity=".35"/>
<rect x="956.7" y="879.5" fill="#00c" opacity=".27"/>
<rect x="959.7" y="879.5" fill="#00b" opacity=".19"/>
<rect x="962.7" y="879.5" fill="#00a" opacity=".19"/>
<rect x="965.7" y="879.5" fill="#009" opacity=".30"/>
<rect x="968.8" y="879.5" fill="#009" opacity=".74"/>
<rect x="971.8" y="879.5" fill="#009" opacity=".36"/>
<rect x="974.8" y="879.5" fill="#00a" opacity=".35"/>
<rect x="977.8" y="879.5" fill="#009" opacity=".44"/>
<rect x="980.8" y="879.5" fill="#009" opacity=".39"/>
<rect x="983.8" y="879.5" fill="#009" opacity=".63"/>
<rect x="986.8" y="879.5" fill="#009" opacity=".51"/>
<rect x="989.8" y="879.5" fill="#009" opacity=".27"/>
<rect x="992.8" y="879.5" fill="#009" opacity=".31"/>
<rect x="995.9" y="879.5" fill="#00a" opacity=".80"/>
<rect x="998.9" y="879.5" fill="#009" opacity=".37"/>
<rect x="1001.9" y="879.5" fill="#009" opacity=".45"/>
<rect x="1004.9" y="879.5" fill="#00a" opacity=".40"/>
<rect x="1007.9" y="879.5" fill="#009" opacity=".37"/>
<rect x="1010.9" y="879.5" fill="#009" opacity=".49"/>
<rect x="1013.9" y="879.5" fill="#009" opacity=".64"/>
<rect x="1016.9" y="879.5" fill="#009" opacity=".30"/>
<rect x="1020.0" y="879.5" fill="#009" opacity=".36"/>
<rect x="1023.0" y="879.5" fill="#009" opacity=".64"/>
<rect x="1026.0" y="879.5" fill="#009" opacity=".32"/>
<rect x="1029.0" y="879.5" fill="#00a" opacity=".49"/>
<rect x="1032.0" y="879.5" fill="#009" opacity=".70"/>
<rect x="1035.0" y="879.5" fill="#009" opacity=".78"/>
<rect x="1038.0" y="879.5" fill="#00a" opacity=".78"/>
<rect x="1041.0" y="879.5" fill="#009" opacity=".78"/>
<rect x="1044.0" y="879.5" fill="#00a" opacity=".73"/>
<rect x="1047.1" y="879.5" fill="#009" opacity=".46"/>
<rect x="1050.1" y="879.5" fill="#009" opacity=".32"/>
<rect x="1053.1" y="879.5" fill="#00a" opacity=".08"/>
<rect x="1056.1" y="879.5" fill="#009" opacity=".03"/>
<rect x="911.5" y="876.5" fill="#00a" opacity=".09"/>
<rect x="914.5" y="876.5" fill="#009" opacity=".23"/>
<rect x="917.6" y="876.5" fill="#009" opacity=".39"/>
<rect x="920.6" y="876.5" fill="#00a" opacity=".58"/>
<rect x="923.6" y="876.5" fill="#00a" opacity=".55"/>
<rect x="926.6" y="876.5" fill="#00a" opacity=".80"/>
<rect x="929.6" y="876.5" fill="#00a" opacity=".60"/>
<rect x="932.6" y="876.5" fill="#00b" opacity=".65"/>
<rect x="935.6" y="876.5" fill="#00b" opacity=".78"/>
<rect x="938.6" y="876.5" fill="#00a" opacity=".72"/>
<rect x="941.7" y="876.5" fill="#00c" opacity=".59"/>
<rect x="944.7" y="876.5" fill="#00c" opacity=".53"/>
<rect x="947.7" y="876.5" fill="#00b" opacity=".34"/>
<rect x="950.7" y="876.5" fill="#00c" opacity=".17"/>
<rect x="953.7" y="876.5" fill="#00c" opacity=".08"/>
<rect x="959.7" y="876.5" fill="#009" opacity=".05"/>
<rect x="962.7" y="876.5" fill="#009" opacity=".19"/>
<rect x="965.7" y="876.5" fill="#009" opacity=".34"/>
<rect x="968.8" y="876.5" fill="#00a" opacity=".26"/>
<rect x="971.8" y="876.5" fill="#009" opacity=".59"/>
<rect x="974.8" y="876.5" fill="#009" opacity=".41"/>
<rect x="977.8" y="876.5" fill="#00a" opacity=".38"/>
<rect x="980.8" y="876.5" fill="#009" opacity=".58"/>
<rect x="983.8" y="876.5" fill="#009" opacity=".34"/>
<rect x="986.8" y="876.5" fill="#009" opacity=".40"/>
<rect x="989.8" y="876.5" fill="#00a" opacity=".55"/>
<rect x="992.8" y="876.5" fill="#009" opacity=".49"/>
<rect x="995.9" y="876.5" fill="#008" opacity=".25"/>
<rect x="998.9" y="876.5" fill="#00a" opacity=".66"/>
<rect x="1001.9" y="876.5" fill="#00a" opacity=".38"/>
<rect x="1004.9" y="876.5" fill="#009" opacity=".43"/>
<rect x="1007.9" y="876.5" fill="#009" opacity=".49"/>
<rect x="1010.9" y="876.5" fill="#00a" opacity=".41"/>
<rect x="1013.9" y="876.5" fill="#009" opacity=".35"/>
<rect x="1016.9" y="876.5" fill="#00a" opacity=".61"/>
<rect x="1020.0" y="876.5" fill="#009" opacity=".43"/>
<rect x="1023.0" y="876.5" fill="#009" opacity=".28"/>
<rect x="1026.0" y="876.5" fill="#00a" opacity=".64"/>
<rect x="1029.0" y="876.5" fill="#009" opacity=".39"/>
<rect x="1032.0" y="876.5" fill="#009" opacity=".44"/>
<rect x="1035.0" y="876.5" fill="#00a" opacity=".55"/>
<rect x="1038.0" y="876.5" fill="#009" opacity=".61"/>
<rect x="1041.0" y="876.5" fill="#009" opacity=".56"/>
<rect x="1044.0" y="876.5" fill="#009" opacity=".67"/>
<rect x="1047.1" y="876.5" fill="#009" opacity=".31"/>
<rect x="1050.1" y="876.5" fill="#00a" opacity=".20"/>
<rect x="1053.1" y="876.5" fill="#009" opacity=".14"/>
<rect x="1056.1" y="876.5" fill="#009" opacity=".03"/>
<rect x="905.5" y="873.4" fill="#00a" opacity=".04"/>
<rect x="908.5" y="873.4" fill="#009" opacity=".13"/>
<rect x="911.5" y="873.4" fill="#008" opacity=".29"/>
<rect x="914.5" y="873.4" fill="#00a" opacity=".46"/>
<rect x="917.6" y="873.4" fill="#00a" opacity=".46"/>
<rect x="920.6" y="873.4" fill="#009" opacity=".48"/>
<rect x="923.6" y="873.4" fill="#00a" opacity=".62"/>
<rect x="926.6" y="873.4" fill="#00a" opacity=".55"/>
<rect x="929.6" y="873.4" fill="#00a" opacity=".77"/>
<rect x="932.6" y="873.4" fill="#00a" opacity=".77"/>
<rect x="935.6" y="873.4" fill="#00a" opacity=".53"/>
<rect x="938.6" y="873.4" fill="#00b" opacity=".44"/>
<rect x="941.7" y="873.4" fill="#00b" opacity=".32"/>
<rect x="944.7" y="873.4" fill="#00c" opacity=".15"/>
<rect x="947.7" y="873.4" fill="#00b" opacity=".05"/>
<rect x="959.7" y="873.4" fill="#009" opacity=".03"/>
<rect x="962.7" y="873.4" fill="#009" opacity=".10"/>
<rect x="965.7" y="873.4" fill="#009" opacity=".22"/>
<rect x="968.8" y="873.4" fill="#009" opacity=".40"/>
<rect x="971.8" y="873.4" fill="#00b" opacity=".30"/>
<rect x="974.8" y="873.4" fill="#008" opacity=".58"/>
<rect x="977.8" y="873.4" fill="#009" opacity=".57"/>
<rect x="980.8" y="873.4" fill="#00a" opacity=".28"/>
<rect x="983.8" y="873.4" fill="#009" opacity=".45"/>
<rect x="986.8" y="873.4" fill="#009" opacity=".47"/>
<rect x="989.8" y="873.4" fill="#009" opacity=".41"/>
<rect x="992.8" y="873.4" fill="#009" opacity=".52"/>
<rect x="995.9" y="873.4" fill="#00a" opacity=".51"/>
<rect x="998.9" y="873.4" fill="#00a" opacity=".24"/>
<rect x="1001.9" y="873.4" fill="#008" opacity=".53"/>
<rect x="1004.9" y="873.4" fill="#009" opacity=".53"/>
<rect x="1007.9" y="873.4" fill="#00a" opacity=".40"/>
<rect x="1010.9" y="873.4" fill="#009" opacity=".47"/>
<rect x="1013.9" y="873.4" fill="#009" opacity=".42"/>
<rect x="1016.9" y="873.4" fill="#009" opacity=".32"/>
<rect x="1020.0" y="873.4" fill="#00b" opacity=".57"/>
<rect x="1023.0" y="873.4" fill="#009" opacity=".57"/>
<rect x="1026.0" y="873.4" fill="#009" opacity=".29"/>
<rect x="1029.0" y="873.4" fill="#00a" opacity=".48"/>
<rect x="1032.0" y="873.4" fill="#009" opacity=".41"/>
<rect x="1035.0" y="873.4" fill="#00a" opacity=".43"/>
<rect x="1038.0" y="873.4" fill="#009" opacity=".54"/>
<rect x="1041.0" y="873.4" fill="#009" opacity=".48"/>
<rect x="1044.0" y="873.4" fill="#009" opacity=".26"/>
<rect x="1047.1" y="873.4" fill="#00a" opacity=".36"/>
<rect x="1050.1" y="873.4" fill="#009" opacity=".20"/>
<rect x="1053.1" y="873.4" fill="#009" opacity=".07"/>
<rect x="902.5" y="870.4" fill="#008" opacity=".08"/>
<rect x="905.5" y="870.4" fill="#009" opacity=".16"/>
<rect x="908.5" y="870.4" fill="#009" opacity=".29"/>
<rect x="911.5" y="870.4" fill="#00a" opacity=".37"/>
<rect x="914.5" y="870.4" fill="#009" opacity=".38"/>
<rect x="917.6" y="870.4" fill="#009" opacity=".52"/>
<rect x="920.6" y="870.4" fill="#00a" opacity=".47"/>
<rect x="923.6" y="870.4" fill="#00a" opacity=".45"/>
<rect x="926.6" y="870.4" fill="#00a" opacity=".65"/>
<rect x="929.6" y="870.4" fill="#00a" opacity=".65"/>
<rect x="932.6" y="870.4" fill="#00b" opacity=".40"/>
<rect x="935.6" y="870.4" fill="#00b" opacity=".26"/>
<rect x="938.6" y="870.4" fill="#00a" opacity=".11"/>
<rect x="941.7" y="870.4" fill="#00b" opacity=".03"/>
<rect x="962.7" y="870.4" fill="#00a" opacity=".04"/>
<rect x="965.7" y="870.4" fill="#009" opacity=".09"/>
<rect x="968.8" y="870.4" fill="#00a" opacity=".21"/>
<rect x="971.8" y="870.4" fill="#009" opacity=".46"/>
<rect x="974.8" y="870.4" fill="#00a" opacity=".42"/>
<rect x="977.8" y="870.4" fill="#009" opacity=".41"/>
<rect x="980.8" y="870.4" fill="#009" opacity=".52"/>
<rect x="983.8" y="870.4" fill="#009" opacity=".35"/>
<rect x="986.8" y="870.4" fill="#009" opacity=".38"/>
<rect x="989.8" y="870.4" fill="#00a" opacity=".61"/>
<rect x="992.8" y="870.4" fill="#009" opacity=".38"/>
<rect x="995.9" y="870.4" fill="#009" opacity=".45"/>
<rect x="998.9" y="870.4" fill="#009" opacity=".47"/>
<rect x="1001.9" y="870.4" fill="#00a" opacity=".33"/>
<rect x="1004.9" y="870.4" fill="#009" opacity=".42"/>
<rect x="1007.9" y="870.4" fill="#009" opacity=".56"/>
<rect x="1010.9" y="870.4" fill="#00a" opacity=".30"/>
<rect x="1013.9" y="870.4" fill="#009" opacity=".35"/>
<rect x="1016.9" y="870.4" fill="#00a" opacity=".48"/>
<rect x="1020.0" y="870.4" fill="#008" opacity=".39"/>
<rect x="1023.0" y="870.4" fill="#009" opacity=".59"/>
<rect x="1026.0" y="870.4" fill="#00a" opacity=".49"/>
<rect x="1029.0" y="870.4" fill="#009" opacity=".26"/>
<rect x="1032.0" y="870.4" fill="#009" opacity=".42"/>
<rect x="1035.0" y="870.4" fill="#009" opacity=".66"/>
<rect x="1038.0" y="870.4" fill="#00a" opacity=".38"/>
<rect x="1041.0" y="870.4" fill="#009" opacity=".44"/>
<rect x="1044.0" y="870.4" fill="#00a" opacity=".28"/>
<rect x="1047.1" y="870.4" fill="#009" opacity=".15"/>
<rect x="1050.1" y="870.4" fill="#009" opacity=".10"/>
<rect x="896.5" y="867.4" fill="#008" opacity=".06"/>
<rect x="899.5" y="867.4" fill="#008" opacity=".11"/>
<rect x="902.5" y="867.4" fill="#009" opacity=".17"/>
<rect x="905.5" y="867.4" fill="#008" opacity=".27"/>
<rect x="908.5" y="867.4" fill="#009" opacity=".30"/>
<rect x="911.5" y="867.4" fill="#009" opacity=".32"/>
<rect x="914.5" y="867.4" fill="#009" opacity=".43"/>
<rect x="917.6" y="867.4" fill="#00a" opacity=".35"/>
<rect x="920.6" y="867.4" fill="#00a" opacity=".48"/>
<rect x="923.6" y="867.4" fill="#00a" opacity=".51"/>
<rect x="926.6" y="867.4" fill="#00a" opacity=".36"/>
<rect x="929.6" y="867.4" fill="#00a" opacity=".19"/>
<rect x="932.6" y="867.4" fill="#00a" opacity=".11"/>
<rect x="965.7" y="867.4" fill="#00a" opacity=".02"/>
<rect x="968.8" y="867.4" fill="#009" opacity=".07"/>
<rect x="971.8" y="867.4" fill="#009" opacity=".15"/>
<rect x="974.8" y="867.4" fill="#009" opacity=".34"/>
<rect x="977.8" y="867.4" fill="#00a" opacity=".45"/>
<rect x="980.8" y="867.4" fill="#009" opacity=".36"/>
<rect x="983.8" y="867.4" fill="#009" opacity=".41"/>
<rect x="986.8" y="867.4" fill="#009" opacity=".49"/>
<rect x="989.8" y="867.4" fill="#009" opacity=".37"/>
<rect x="992.8" y="867.4" fill="#00a" opacity=".63"/>
<rect x="995.9" y="867.4" fill="#009" opacity=".30"/>
<rect x="998.9" y="867.4" fill="#009" opacity=".41"/>
<rect x="1001.9" y="867.4" fill="#009" opacity=".51"/>
<rect x="1004.9" y="867.4" fill="#009" opacity=".41"/>
<rect x="1007.9" y="867.4" fill="#009" opacity=".19"/>
<rect x="1010.9" y="867.4" fill="#009" opacity=".34"/>
<rect x="1013.9" y="867.4" fill="#00a" opacity=".34"/>
<rect x="1016.9" y="867.4" fill="#009" opacity=".42"/>
<rect x="1020.0" y="867.4" fill="#009" opacity=".60"/>
<rect x="1023.0" y="867.4" fill="#009" opacity=".27"/>
<rect x="1026.0" y="867.4" fill="#009" opacity=".43"/>
<rect x="1029.0" y="867.4" fill="#009" opacity=".59"/>
<rect x="1032.0" y="867.4" fill="#00a" opacity=".45"/>
<rect x="1035.0" y="867.4" fill="#00a" opacity=".27"/>
<rect x="1038.0" y="867.4" fill="#009" opacity=".49"/>
<rect x="1041.0" y="867.4" fill="#009" opacity=".19"/>
<rect x="1044.0" y="867.4" fill="#009" opacity=".16"/>
<rect x="1047.1" y="867.4" fill="#009" opacity=".06"/>
<rect x="890.5" y="864.4" fill="#009" opacity=".06"/>
<rect x="893.5" y="864.4" fill="#008" opacity=".12"/>
<rect x="896.5" y="864.4" fill="#008" opacity=".13"/>
<rect x="899.5" y="864.4" fill="#008" opacity=".16"/>
<rect x="902.5" y="864.4" fill="#008" opacity=".22"/>
<rect x="905.5" y="864.4" fill="#009" opacity=".24"/>
<rect x="908.5" y="864.4" fill="#009" opacity=".27"/>
<rect x="911.5" y="864.4" fill="#009" opacity=".32"/>
<rect x="914.5" y="864.4" fill="#009" opacity=".29"/>
<rect x="917.6" y="864.4" fill="#009" opacity=".41"/>
<rect x="920.6" y="864.4" fill="#009" opacity=".30"/>
<rect x="923.6" y="864.4" fill="#009" opacity=".18"/>
<rect x="926.6" y="864.4" fill="#00a" opacity=".07"/>
<rect x="971.8" y="864.4" fill="#00a" opacity=".02"/>
<rect x="974.8" y="864.4" fill="#009" opacity=".06"/>
<rect x="977.8" y="864.4" fill="#008" opacity=".12"/>
<rect x="980.8" y="864.4" fill="#009" opacity=".29"/>
<rect x="983.8" y="864.4" fill="#00a" opacity=".41"/>
<rect x="986.8" y="864.4" fill="#00a" opacity=".36"/>
<rect x="989.8" y="864.4" fill="#008" opacity=".40"/>
<rect x="992.8" y="864.4" fill="#009" opacity=".25"/>
<rect x="995.9" y="864.4" fill="#00a" opacity=".70"/>
<rect x="998.9" y="864.4" fill="#009" opacity=".52"/>
<rect x="1001.9" y="864.4" fill="#009" opacity=".34"/>
<rect x="1004.9" y="864.4" fill="#00a" opacity=".23"/>
<rect x="1007.9" y="864.4" fill="#00a" opacity=".22"/>
<rect x="1010.9" y="864.4" fill="#009" opacity=".19"/>
<rect x="1013.9" y="864.4" fill="#009" opacity=".43"/>
<rect x="1016.9" y="864.4" fill="#008" opacity=".41"/>
<rect x="1020.0" y="864.4" fill="#00a" opacity=".26"/>
<rect x="1023.0" y="864.4" fill="#00a" opacity=".61"/>
<rect x="1026.0" y="864.4" fill="#009" opacity=".43"/>
<rect x="1029.0" y="864.4" fill="#009" opacity=".31"/>
<rect x="1032.0" y="864.4" fill="#00a" opacity=".30"/>
<rect x="1035.0" y="864.4" fill="#009" opacity=".25"/>
<rect x="1038.0" y="864.4" fill="#009" opacity=".07"/>
<rect x="1041.0" y="864.4" fill="#00a" opacity=".07"/>
<rect x="884.4" y="861.4" fill="#009" opacity=".05"/>
<rect x="887.4" y="861.4" fill="#008" opacity=".11"/>
<rect x="890.5" y="861.4" fill="#008" opacity=".12"/>
<rect x="893.5" y="861.4" fill="#008" opacity=".13"/>
<rect x="896.5" y="861.4" fill="#008" opacity=".17"/>
<rect x="899.5" y="861.4" fill="#009" opacity=".17"/>
<rect x="902.5" y="861.4" fill="#008" opacity=".16"/>
<rect x="905.5" y="861.4" fill="#008" opacity=".23"/>
<rect x="908.5" y="861.4" fill="#009" opacity=".27"/>
<rect x="911.5" y="861.4" fill="#009" opacity=".26"/>
<rect x="914.5" y="861.4" fill="#008" opacity=".23"/>
<rect x="917.6" y="861.4" fill="#009" opacity=".13"/>
<rect x="920.6" y="861.4" fill="#00a" opacity=".06"/>
<rect x="980.8" y="861.4" fill="#009" opacity=".02"/>
<rect x="983.8" y="861.4" fill="#009" opacity=".06"/>
<rect x="986.8" y="861.4" fill="#009" opacity=".12"/>
<rect x="989.8" y="861.4" fill="#00a" opacity=".15"/>
<rect x="992.8" y="861.4" fill="#009" opacity=".23"/>
<rect x="995.9" y="861.4" fill="#009" opacity=".20"/>
<rect x="998.9" y="861.4" fill="#009" opacity=".31"/>
<rect x="1001.9" y="861.4" fill="#00a" opacity=".35"/>
<rect x="1004.9" y="861.4" fill="#009" opacity=".21"/>
<rect x="1007.9" y="861.4" fill="#008" opacity=".09"/>
<rect x="1010.9" y="861.4" fill="#00a" opacity=".15"/>
<rect x="1013.9" y="861.4" fill="#00a" opacity=".24"/>
<rect x="1016.9" y="861.4" fill="#00a" opacity=".29"/>
<rect x="1020.0" y="861.4" fill="#008" opacity=".25"/>
<rect x="1023.0" y="861.4" fill="#009" opacity=".12"/>
<rect x="1026.0" y="861.4" fill="#00a" opacity=".14"/>
<rect x="1029.0" y="861.4" fill="#009" opacity=".13"/>
<rect x="1032.0" y="861.4" fill="#00a" opacity=".05"/>
<rect x="878.4" y="858.4" fill="#008" opacity=".04"/>
<rect x="881.4" y="858.4" fill="#008" opacity=".07"/>
<rect x="884.4" y="858.4" fill="#008" opacity=".09"/>
<rect x="887.4" y="858.4" fill="#008" opacity=".10"/>
<rect x="890.5" y="858.4" fill="#009" opacity=".12"/>
<rect x="893.5" y="858.4" fill="#008" opacity=".15"/>
<rect x="896.5" y="858.4" fill="#008" opacity=".14"/>
<rect x="899.5" y="858.4" fill="#008" opacity=".17"/>
<rect x="902.5" y="858.4" fill="#008" opacity=".20"/>
<rect x="905.5" y="858.4" fill="#008" opacity=".18"/>
<rect x="908.5" y="858.4" fill="#009" opacity=".16"/>
<rect x="911.5" y="858.4" fill="#009" opacity=".11"/>
<rect x="914.5" y="858.4" fill="#009" opacity=".05"/>
<rect x="998.9" y="858.4" fill="#009" opacity=".02"/>
<rect x="1001.9" y="858.4" fill="#009" opacity=".02"/>
<rect x="1004.9" y="858.4" fill="#00a" opacity=".02"/>
<rect x="878.4" y="855.4" fill="#008" opacity=".05"/>
<rect x="881.4" y="855.4" fill="#008" opacity=".06"/>
<rect x="884.4" y="855.4" fill="#008" opacity=".09"/>
<rect x="887.4" y="855.4" fill="#008" opacity=".09"/>
<rect x="890.5" y="855.4" fill="#008" opacity=".10"/>
<rect x="893.5" y="855.4" fill="#008" opacity=".09"/>
<rect x="896.5" y="855.4" fill="#008" opacity=".11"/>
<rect x="899.5" y="855.4" fill="#008" opacity=".10"/>
<rect x="902.5" y="855.4" fill="#009" opacity=".08"/>
<rect x="905.5" y="855.4" fill="#009" opacity=".08"/>
<rect x="908.5" y="855.4" fill="#008" opacity=".03"/>
<rect x="881.4" y="852.4" fill="#008" opacity=".02"/>
</g>
<text x="1103.4" y="1501.9" font-size="44.2" textLength="473.9" lengthAdjust="spacingAndGlyphs" fill="#000">2020-03-05 00:00 UTC</text>
</g>
<rect x="251" y="485" width="1356" height="1055" fill="none" stroke="#000" stroke-width="4.1"/>
<text x="189.2" y="1543.4" font-size="35.3" textLength="40.4" lengthAdjust="spacingAndGlyphs" fill="#000">18</text>
<text x="189.2" y="1362.7" font-size="35.3" textLength="40.4" lengthAdjust="spacingAndGlyphs" fill="#000">24</text>
<text x="189.2" y="1182" font-size="35.3" textLength="40.4" lengthAdjust="spacingAndGlyphs" fill="#000">30</text>
<text x="189.2" y="1001.3" font-size="35.3" textLength="40.4" lengthAdjust="spacingAndGlyphs" fill="#000">36</text>
<text x="189.2" y="820.6" font-size="35.3" textLength="40.4" lengthAdjust="spacingAndGlyphs" fill="#000">42</text>
<text x="189.2" y="639.9" font-size="35.3" textLength="40.4" lengthAdjust="spacingAndGlyphs" fill="#000">48</text>
<text x="265.4" y="1588" font-size="35.3" textLength="40.4" lengthAdjust="spacingAndGlyphs" fill="#000">12</text>
<text x="446.1" y="1588" font-size="35.3" textLength="40.4" lengthAdjust="spacingAndGlyphs" fill="#000">18</text>
<text x="626.8" y="1588" font-size="35.3" textLength="40.4" lengthAdjust="spacingAndGlyphs" fill="#000">24</text>
<text x="807.5" y="1588" font-size="35.3" textLength="40.4" lengthAdjust="spacingAndGlyphs" fill="#000">30</text>
<text x="988.2" y="1588" font-size="35.3" textLength="40.4" lengthAdjust="spacingAndGlyphs" fill="#000">36</text>
<text x="1168.9" y="1588" font-size="35.3" textLength="40.4" lengthAdjust="spacingAndGlyphs" fill="#000">42</text>
<text x="1349.6" y="1588" font-size="35.3" textLength="40.4" lengthAdjust="spacingAndGlyphs" fill="#000">48</text>
<text x="1530.3" y="1588" font-size="35.3" textLength="40.4" lengthAdjust="spacingAndGlyphs" fill="#000">54</text>
<text x="643.6" y="460.8" font-size="35.3" textLength="571.9" lengthAdjust="spacingAndGlyphs" fill="#000">Column-integrated residence time</text>
<polygon points="1853.3,485 1861.9,485 1861.9,491.4 1862.5,519.1 1861.9,538.5 1860.3,566.2 1858.9,588.4 1861.7,603.6 1861.1,614.7 1859.2,629.9 1857,649.3 1855.8,663.2 1855.8,688.1 1857,699.2 1855.8,710.3 1855.8,798.9 1855.6,800.2 1862.5,804.9 1875,808.8 1890.2,811.2 1904,814 1911,818.7 1913.7,823.7 1911.8,829.8 1919.3,834.8 1923.4,839.8 1923.4,844.5 1917.9,850.9 1911,857.5 1912.9,863.9 1911.8,870.8 1906.8,879.1 1905.4,887.4 1905.4,895.7 1904,904 1904.6,912.4 1906.8,920.7 1910.4,927.6 1910.4,937.3 1911.8,945.6 1914.3,950.6 1928.1,956.7 1920.7,960 1909.6,963.6 1901.3,967.2 1894.4,971.1 1888.8,978.8 1876.3,982.2 1862.5,984.9 1855.6,987.7 1855.6,1004.3 1870.3,1016.2 1863.9,1021.8 1855.6,1029.3 1855.6,1136.7 1855.6,1136.9 1862.5,1141.1 1869.4,1145.8 1873.6,1152.2 1877.2,1159.1 1879.7,1167.4 1885.2,1174.3 1888.8,1181.2 1890.8,1188.7 1881.9,1195.1 1875,1200.6 1869.4,1205.3 1861.1,1210.3 1856.1,1215.9 1855.6,1222.8 1859.7,1232.5 1865.3,1242.2 1875,1247.7 1884.7,1253.3 1894.4,1259.4 1887.4,1265.7 1881.9,1272.7 1877.7,1281 1870.8,1286.5 1867.5,1293.4 1869.4,1303.1 1867.5,1312.8 1865.8,1325.3 1863.9,1334.4 1866.7,1341.9 1870.8,1348.8 1872.2,1359.9 1873.6,1371.6 1869.4,1377.9 1867.2,1387.6 1868.6,1395.9 1872.2,1407 1870.3,1418.1 1870,1429.2 1870.8,1443 1872.2,1459.6 1872.7,1470.7 1871.6,1484.6 1873.6,1498.4 1876.9,1512.3 1879.7,1528.9 1878.6,1539.2 1853.3,1540" fill="#000"/>
<polygon points="2007.8,865.1 2049.1,865.1 2049.1,868.4 2007.2,868.4" fill="#f6f6fb"/>
<polygon points="2007.2,868.3 2049.1,868.3 2048.2,871.3 2006.1,871.3" fill="#9c9cd8"/>
<polygon points="2006.1,871.2 2048.2,871.2 2046.9,874.3 2004.5,874.3" fill="#5252c0"/>
<polygon points="2004.5,874.2 2046.9,874.2 2045.5,877.6 2002.5,877.6" fill="#6464c8"/>
<polygon points="2002.5,877.5 2045.5,877.5 2043.2,881.1 2001.1,881.1" fill="#9494d8"/>
<polygon points="2000.2,881 2042,881 2042,883.1 2000.2,883.1" fill="#d4d4f8"/>
<polygon points="2000.2,883 2042,883 2042,884.1 2000.2,884.1" fill="#b8b8f0"/>
<polygon points="2000.2,883.9 2042,883.9 2042,887.1 2000.2,887.1" fill="#ccccf8"/>
<polygon points="2001.4,887.1 2042,887.1 2042,889.5 2001.4,889.5" fill="#f6f6fc"/>
<polygon points="1980.2,868.3 2007.2,868.3 2006.1,871.3 1979,871.3" fill="#f4f4fb"/>
<polygon points="1979,871.2 2006.1,871.2 2004.5,874.5 1977.6,874.5" fill="#d2d2ec"/>
<polygon points="1977.6,874.4 2004.5,874.4 2002.8,877.8 1975.8,877.8" fill="#e6e6f6"/>
<polygon points="1975.8,877.7 2002.8,877.7 2001.1,881 1974,881" fill="#ededfa"/>
<polygon points="1865.9,1010 1874.7,1010 1876.9,1012.7 1876.9,1013.7 1869.4,1013.7" fill="#8b1010"/>
<line x1="1875.5" y1="485" x2="1875.5" y2="1540" stroke="#808080" stroke-width="1.04" stroke-dasharray="3.85 1.66"/>
<line x1="2075.5" y1="485" x2="2075.5" y2="1540" stroke="#808080" stroke-width="1.04" stroke-dasharray="3.85 1.66"/>
<line x1="2274.5" y1="485" x2="2274.5" y2="1540" stroke="#808080" stroke-width="1.04" stroke-dasharray="3.85 1.66"/>
<rect x="1854.3" y="485" width="432" height="1055" fill="none" stroke="#000" stroke-width="3.5"/>
<line x1="1839.5" y1="1469.7" x2="1854.3" y2="1469.7" stroke="#000" stroke-width="3.1" />
<text x="1784.9" y="1482.4" font-size="35.3" textLength="40.4" lengthAdjust="spacingAndGlyphs" fill="#000">20</text>
<line x1="1839.5" y1="1319.1" x2="1854.3" y2="1319.1" stroke="#000" stroke-width="3.1" />
<text x="1784.9" y="1331.8" font-size="35.3" textLength="40.4" lengthAdjust="spacingAndGlyphs" fill="#000">25</text>
<line x1="1839.5" y1="1168.5" x2="1854.3" y2="1168.5" stroke="#000" stroke-width="3.1" />
<text x="1784.9" y="1181.2" font-size="35.3" textLength="40.4" lengthAdjust="spacingAndGlyphs" fill="#000">30</text>
<line x1="1839.5" y1="1017.9" x2="1854.3" y2="1017.9" stroke="#000" stroke-width="3.1" />
<text x="1784.9" y="1030.6" font-size="35.3" textLength="40.4" lengthAdjust="spacingAndGlyphs" fill="#000">35</text>
<line x1="1839.5" y1="867.3" x2="1854.3" y2="867.3" stroke="#000" stroke-width="3.1" />
<text x="1784.9" y="880" font-size="35.3" textLength="40.4" lengthAdjust="spacingAndGlyphs" fill="#000">40</text>
<line x1="1839.5" y1="716.7" x2="1854.3" y2="716.7" stroke="#000" stroke-width="3.1" />
<text x="1784.9" y="729.4" font-size="35.3" textLength="40.4" lengthAdjust="spacingAndGlyphs" fill="#000">45</text>
<line x1="1839.5" y1="566.2" x2="1854.3" y2="566.2" stroke="#000" stroke-width="3.1" />
<text x="1784.9" y="578.9" font-size="35.3" textLength="40.4" lengthAdjust="spacingAndGlyphs" fill="#000">50</text>
<line x1="1875.5" y1="470.7" x2="1875.5" y2="483.5" stroke="#808080" stroke-width="3.1" />
<text x="1865.9" y="450.2" font-size="35.3" textLength="19.2" lengthAdjust="spacingAndGlyphs" fill="#808080">0</text>
<line x1="2075.2" y1="470.7" x2="2075.2" y2="483.5" stroke="#808080" stroke-width="3.1" />
<text x="2055" y="450.2" font-size="35.3" textLength="40.4" lengthAdjust="spacingAndGlyphs" fill="#808080">50</text>
<line x1="2274.4" y1="470.7" x2="2274.4" y2="483.5" stroke="#808080" stroke-width="3.1" />
<text x="2243.6" y="450.2" font-size="35.3" textLength="61.6" lengthAdjust="spacingAndGlyphs" fill="#808080">100</text>
<line x1="1854.3" y1="1540" x2="1854.3" y2="1555.5" stroke="#000" stroke-width="3.1" />
<text transform="translate(1856.5,1585) rotate(45)" x="-10.6" y="12.2" font-size="35.3" textLength="19.2" lengthAdjust="spacingAndGlyphs" fill="#000">0</text>
<line x1="1962.3" y1="1540" x2="1962.3" y2="1555.5" stroke="#000" stroke-width="3.1" />
<text transform="translate(1964.5,1607.5) rotate(45)" x="-42.4" y="12.2" font-size="35.3" textLength="82.8" lengthAdjust="spacingAndGlyphs" fill="#000">2000</text>
<line x1="2070.3" y1="1540" x2="2070.3" y2="1555.5" stroke="#000" stroke-width="3.1" />
<text transform="translate(2072.5,1607.5) rotate(45)" x="-42.4" y="12.2" font-size="35.3" textLength="82.8" lengthAdjust="spacingAndGlyphs" fill="#000">4000</text>
<line x1="2178.3" y1="1540" x2="2178.3" y2="1555.5" stroke="#000" stroke-width="3.1" />
<text transform="translate(2180.5,1607.5) rotate(45)" x="-42.4" y="12.2" font-size="35.3" textLength="82.8" lengthAdjust="spacingAndGlyphs" fill="#000">6000</text>
<line x1="2286.3" y1="1540" x2="2286.3" y2="1555.5" stroke="#000" stroke-width="3.1" />
<text transform="translate(2288.5,1607.5) rotate(45)" x="-42.4" y="12.2" font-size="35.3" textLength="82.8" lengthAdjust="spacingAndGlyphs" fill="#000">8000</text>
<text x="1935.2" y="1695.5" font-size="35.3" textLength="270.1" lengthAdjust="spacingAndGlyphs" fill="#000">altitude (m ASL)</text>
<text transform="translate(2329.2,1015.3) rotate(-90)" x="-280.5" y="0" font-size="35.3" textLength="561.1" lengthAdjust="spacingAndGlyphs" fill="#000">Latitudinal curtain residence time</text>
<rect x="194" y="1635.6" width="21" height="61.4" fill="#800000" shape-rendering="crispEdges"/>
<rect x="215" y="1635.6" width="20" height="61.4" fill="#900000" shape-rendering="crispEdges"/>
<rect x="235" y="1635.6" width="21" height="61.4" fill="#a00000" shape-rendering="crispEdges"/>
<rect x="256" y="1635.6" width="20" height="61.4" fill="#b00000" shape-rendering="crispEdges"/>
<rect x="276" y="1635.6" width="20" height="61.4" fill="#c10000" shape-rendering="crispEdges"/>
<rect x="296" y="1635.6" width="21" height="61.4" fill="#d10000" shape-rendering="crispEdges"/>
<rect x="317" y="1635.6" width="20" height="61.4" fill="#e10000" shape-rendering="crispEdges"/>
<rect x="337" y="1635.6" width="21" height="61.4" fill="#f20800" shape-rendering="crispEdges"/>
<rect x="358" y="1635.6" width="20" height="61.4" fill="#ff1500" shape-rendering="crispEdges"/>
<rect x="378" y="1635.6" width="21" height="61.4" fill="#ff2300" shape-rendering="crispEdges"/>
<rect x="399" y="1635.6" width="20" height="61.4" fill="#ff3000" shape-rendering="crispEdges"/>
<rect x="419" y="1635.6" width="20" height="61.4" fill="#ff3d00" shape-rendering="crispEdges"/>
<rect x="439" y="1635.6" width="21" height="61.4" fill="#ff4b00" shape-rendering="crispEdges"/>
<rect x="460" y="1635.6" width="20" height="61.4" fill="#ff5800" shape-rendering="crispEdges"/>
<rect x="480" y="1635.6" width="21" height="61.4" fill="#ff6500" shape-rendering="crispEdges"/>
<rect x="501" y="1635.6" width="20" height="61.4" fill="#ff7300" shape-rendering="crispEdges"/>
<rect x="521" y="1635.6" width="20" height="61.4" fill="#ff8000" shape-rendering="crispEdges"/>
<rect x="541" y="1635.6" width="21" height="61.4" fill="#ff8d00" shape-rendering="crispEdges"/>
<rect x="562" y="1635.6" width="20" height="61.4" fill="#ff9a00" shape-rendering="crispEdges"/>
<rect x="582" y="1635.6" width="21" height="61.4" fill="#ffa800" shape-rendering="crispEdges"/>
<rect x="603" y="1635.6" width="20" height="61.4" fill="#ffb500" shape-rendering="crispEdges"/>
<rect x="623" y="1635.6" width="21" height="61.4" fill="#ffc200" shape-rendering="crispEdges"/>
<rect x="644" y="1635.6" width="20" height="61.4" fill="#ffd000" shape-rendering="crispEdges"/>
<rect x="664" y="1635.6" width="20" height="61.4" fill="#ffdd00" shape-rendering="crispEdges"/>
<rect x="684" y="1635.6" width="21" height="61.4" fill="#ffea00" shape-rendering="crispEdges"/>
<rect x="705" y="1635.6" width="20" height="61.4" fill="#f5f802" shape-rendering="crispEdges"/>
<rect x="725" y="1635.6" width="21" height="61.4" fill="#e9ff0d" shape-rendering="crispEdges"/>
<rect x="746" y="1635.6" width="20" height="61.4" fill="#deff19" shape-rendering="crispEdges"/>
<rect x="766" y="1635.6" width="20" height="61.4" fill="#d2ff24" shape-rendering="crispEdges"/>
<rect x="786" y="1635.6" width="21" height="61.4" fill="#c7ff30" shape-rendering="crispEdges"/>
<rect x="807" y="1635.6" width="20" height="61.4" fill="#bbff3c" shape-rendering="crispEdges"/>
<rect x="827" y="1635.6" width="21" height="61.4" fill="#b0ff47" shape-rendering="crispEdges"/>
<rect x="848" y="1635.6" width="20" height="61.4" fill="#a4ff53" shape-rendering="crispEdges"/>
<rect x="868" y="1635.6" width="21" height="61.4" fill="#98ff5e" shape-rendering="crispEdges"/>
<rect x="889" y="1635.6" width="20" height="61.4" fill="#8dff6a" shape-rendering="crispEdges"/>
<rect x="909" y="1635.6" width="20" height="61.4" fill="#81ff76" shape-rendering="crispEdges"/>
<rect x="929" y="1635.6" width="21" height="61.4" fill="#76ff81" shape-rendering="crispEdges"/>
<rect x="950" y="1635.6" width="20" height="61.4" fill="#6aff8d" shape-rendering="crispEdges"/>
<rect x="970" y="1635.6" width="21" height="61.4" fill="#5eff98" shape-rendering="crispEdges"/>
<rect x="991" y="1635.6" width="20" height="61.4" fill="#53ffa4" shape-rendering="crispEdges"/>
<rect x="1011" y="1635.6" width="20" height="61.4" fill="#47ffb0" shape-rendering="crispEdges"/>
<rect x="1031" y="1635.6" width="21" height="61.4" fill="#3cffbb" shape-rendering="crispEdges"/>
<rect x="1052" y="1635.6" width="20" height="61.4" fill="#30ffc7" shape-rendering="crispEdges"/>
<rect x="1072" y="1635.6" width="21" height="61.4" fill="#24ffd2" shape-rendering="crispEdges"/>
<rect x="1093" y="1635.6" width="20" height="61.4" fill="#19ffde" shape-rendering="crispEdges"/>
<rect x="1113" y="1635.6" width="21" height="61.4" fill="#0df6e9" shape-rendering="crispEdges"/>
<rect x="1134" y="1635.6" width="20" height="61.4" fill="#02e8f5" shape-rendering="crispEdges"/>
<rect x="1154" y="1635.6" width="20" height="61.4" fill="#00d9ff" shape-rendering="crispEdges"/>
<rect x="1174" y="1635.6" width="21" height="61.4" fill="#00cbff" shape-rendering="crispEdges"/>
<rect x="1195" y="1635.6" width="20" height="61.4" fill="#00bdff" shape-rendering="crispEdges"/>
<rect x="1215" y="1635.6" width="21" height="61.4" fill="#00aeff" shape-rendering="crispEdges"/>
<rect x="1236" y="1635.6" width="20" height="61.4" fill="#00a0ff" shape-rendering="crispEdges"/>
<rect x="1256" y="1635.6" width="20" height="61.4" fill="#0091ff" shape-rendering="crispEdges"/>
<rect x="1276" y="1635.6" width="21" height="61.4" fill="#0083ff" shape-rendering="crispEdges"/>
<rect x="1297" y="1635.6" width="20" height="61.4" fill="#0075ff" shape-rendering="crispEdges"/>
<rect x="1317" y="1635.6" width="21" height="61.4" fill="#0066ff" shape-rendering="crispEdges"/>
<rect x="1338" y="1635.6" width="20" height="61.4" fill="#0058ff" shape-rendering="crispEdges"/>
<rect x="1358" y="1635.6" width="20" height="61.4" fill="#004aff" shape-rendering="crispEdges"/>
<rect x="1378" y="1635.6" width="21" height="61.4" fill="#003bff" shape-rendering="crispEdges"/>
<rect x="1399" y="1635.6" width="20" height="61.4" fill="#002dff" shape-rendering="crispEdges"/>
<rect x="1419" y="1635.6" width="21" height="61.4" fill="#001fff" shape-rendering="crispEdges"/>
<rect x="1440" y="1635.6" width="20" height="61.4" fill="#0010ff" shape-rendering="crispEdges"/>
<rect x="1460" y="1635.6" width="21" height="61.4" fill="#0002ff" shape-rendering="crispEdges"/>
<rect x="1481" y="1635.6" width="20" height="61.4" fill="#0000ff" shape-rendering="crispEdges"/>
<rect x="1501" y="1635.6" width="20" height="61.4" fill="#0000f2" shape-rendering="crispEdges"/>
<rect x="1521" y="1635.6" width="21" height="61.4" fill="#0000e1" shape-rendering="crispEdges"/>
<rect x="1542" y="1635.6" width="20" height="61.4" fill="#0000d1" shape-rendering="crispEdges"/>
<rect x="1562" y="1635.6" width="21" height="61.4" fill="#0000c1" shape-rendering="crispEdges"/>
<rect x="1583" y="1635.6" width="20" height="61.4" fill="#0000b0" shape-rendering="crispEdges"/>
<rect x="1603" y="1635.6" width="20" height="61.4" fill="#0000a0" shape-rendering="crispEdges"/>
<rect x="1623" y="1635.6" width="21" height="61.4" fill="#000090" shape-rendering="crispEdges"/>
<rect x="1644" y="1635.6" width="20" height="61.4" fill="#000080" shape-rendering="crispEdges"/>
<rect x="194.4" y="1635.6" width="1469.9" height="61.4" fill="none" stroke="#000" stroke-width="3.3"/>
<line x1="194.4" y1="1697" x2="194.4" y2="1712" stroke="#000" stroke-width="3.1" />
<text x="184.8" y="1752" font-size="35.3" textLength="19.2" lengthAdjust="spacingAndGlyphs" fill="#000">0</text>
<line x1="357.7" y1="1697" x2="357.7" y2="1712" stroke="#000" stroke-width="3.1" />
<text x="348.1" y="1752" font-size="35.3" textLength="19.2" lengthAdjust="spacingAndGlyphs" fill="#000">8</text>
<line x1="521" y1="1697" x2="521" y2="1712" stroke="#000" stroke-width="3.1" />
<text x="500.8" y="1752" font-size="35.3" textLength="40.4" lengthAdjust="spacingAndGlyphs" fill="#000">16</text>
<line x1="684.4" y1="1697" x2="684.4" y2="1712" stroke="#000" stroke-width="3.1" />
<text x="664.2" y="1752" font-size="35.3" textLength="40.4" lengthAdjust="spacingAndGlyphs" fill="#000">24</text>
<line x1="847.7" y1="1697" x2="847.7" y2="1712" stroke="#000" stroke-width="3.1" />
<text x="827.5" y="1752" font-size="35.3" textLength="40.4" lengthAdjust="spacingAndGlyphs" fill="#000">32</text>
<line x1="1011" y1="1697" x2="1011" y2="1712" stroke="#000" stroke-width="3.1" />
<text x="990.8" y="1752" font-size="35.3" textLength="40.4" lengthAdjust="spacingAndGlyphs" fill="#000">40</text>
<line x1="1174.3" y1="1697" x2="1174.3" y2="1712" stroke="#000" stroke-width="3.1" />
<text x="1154.1" y="1752" font-size="35.3" textLength="40.4" lengthAdjust="spacingAndGlyphs" fill="#000">48</text>
<line x1="1337.7" y1="1697" x2="1337.7" y2="1712" stroke="#000" stroke-width="3.1" />
<text x="1317.4" y="1752" font-size="35.3" textLength="40.4" lengthAdjust="spacingAndGlyphs" fill="#000">56</text>
<line x1="1501" y1="1697" x2="1501" y2="1712" stroke="#000" stroke-width="3.1" />
<text x="1480.8" y="1752" font-size="35.3" textLength="40.4" lengthAdjust="spacingAndGlyphs" fill="#000">64</text>
<line x1="1664.3" y1="1697" x2="1664.3" y2="1712" stroke="#000" stroke-width="3.1" />
<text x="1644.1" y="1752" font-size="35.3" textLength="40.4" lengthAdjust="spacingAndGlyphs" fill="#000">72</text>
<text x="662.5" y="1802.2" font-size="35.3" textLength="533.6" lengthAdjust="spacingAndGlyphs" fill="#000">time since arrival at location [h]</text>
</svg></body></html>
